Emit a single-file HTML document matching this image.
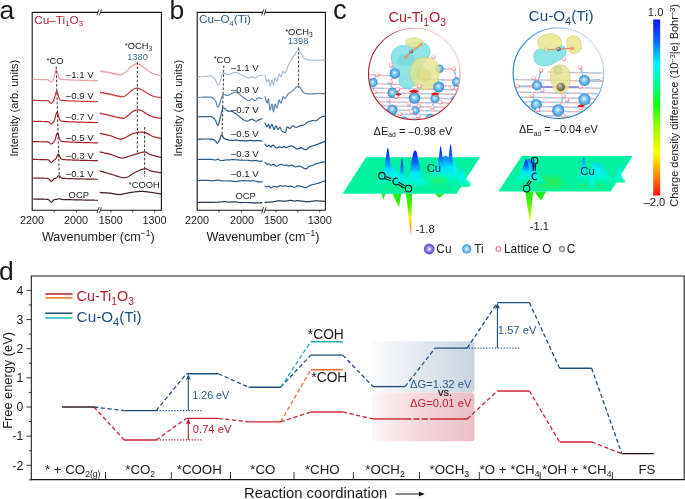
<!DOCTYPE html>
<html><head><meta charset="utf-8"><style>
html,body{margin:0;padding:0;background:#fff;width:685px;height:499px;overflow:hidden;}
svg{display:block;will-change:transform;font-family:"Liberation Sans",sans-serif;}
</style></head><body>
<svg width="685" height="499" viewBox="0 0 685 499" font-family="Liberation Sans, sans-serif">
<rect width="685" height="499" fill="#fff"/>
<path d="M32.2,12.4 H161.4 V210.2 H32.2 Z" fill="none" stroke="#151515" stroke-width="1.1"/>
<rect x="98.0" y="10.4" width="2.6" height="4" fill="#fff"/>
<path d="M97.0,15.4 L99.0,9.4 M99.4,15.4 L101.4,9.4" stroke="#222" stroke-width="0.9"/>
<rect x="98.0" y="208.2" width="2.6" height="4" fill="#fff"/>
<path d="M97.0,213.2 L99.0,207.2 M99.4,213.2 L101.4,207.2" stroke="#222" stroke-width="0.9"/>
<path d="M54,210.2 V212.39999999999998" stroke="#222" stroke-width="0.9"/>
<path d="M76.5,210.2 V212.39999999999998" stroke="#222" stroke-width="0.9"/>
<path d="M110.9,210.2 V212.39999999999998" stroke="#222" stroke-width="0.9"/>
<path d="M132.8,210.2 V212.39999999999998" stroke="#222" stroke-width="0.9"/>
<path d="M154.7,210.2 V212.39999999999998" stroke="#222" stroke-width="0.9"/>
<text x="32" y="223.9" font-size="10.8" fill="#1a1a1a" text-anchor="middle" >2200</text>
<text x="76" y="223.9" font-size="10.8" fill="#1a1a1a" text-anchor="middle" >2000</text>
<text x="110.8" y="223.9" font-size="10.8" fill="#1a1a1a" text-anchor="middle" >1500</text>
<text x="154.6" y="223.9" font-size="10.8" fill="#1a1a1a" text-anchor="middle" >1300</text>
<text x="98.3" y="240.6" font-size="12.6" fill="#1a1a1a" text-anchor="middle">Wavenumber (cm<tspan dy="-4.5" font-size="8.5">−1</tspan><tspan dy="4.5">)</tspan></text>
<text transform="translate(18.0,108.2) rotate(-90)" font-size="11.0" fill="#1a1a1a" text-anchor="middle">Intensity (arb. units)</text>
<path d="M197.2,12.4 H325.4 V210.2 H197.2 Z" fill="none" stroke="#151515" stroke-width="1.1"/>
<rect x="262.6" y="10.4" width="2.6" height="4" fill="#fff"/>
<path d="M261.6,15.4 L263.6,9.4 M264.0,15.4 L266.0,9.4" stroke="#222" stroke-width="0.9"/>
<rect x="262.6" y="208.2" width="2.6" height="4" fill="#fff"/>
<path d="M261.6,213.2 L263.6,207.2 M264.0,213.2 L266.0,207.2" stroke="#222" stroke-width="0.9"/>
<path d="M218.9,210.2 V212.39999999999998" stroke="#222" stroke-width="0.9"/>
<path d="M241.5,210.2 V212.39999999999998" stroke="#222" stroke-width="0.9"/>
<path d="M275.9,210.2 V212.39999999999998" stroke="#222" stroke-width="0.9"/>
<path d="M297.8,210.2 V212.39999999999998" stroke="#222" stroke-width="0.9"/>
<path d="M319.7,210.2 V212.39999999999998" stroke="#222" stroke-width="0.9"/>
<text x="197" y="223.9" font-size="10.8" fill="#1a1a1a" text-anchor="middle" >2200</text>
<text x="242" y="223.9" font-size="10.8" fill="#1a1a1a" text-anchor="middle" >2000</text>
<text x="275.9" y="223.9" font-size="10.8" fill="#1a1a1a" text-anchor="middle" >1500</text>
<text x="319.7" y="223.9" font-size="10.8" fill="#1a1a1a" text-anchor="middle" >1300</text>
<text x="263.0" y="240.6" font-size="12.6" fill="#1a1a1a" text-anchor="middle">Wavenumber (cm<tspan dy="-4.5" font-size="8.5">−1</tspan><tspan dy="4.5">)</tspan></text>
<text transform="translate(182.0,108.2) rotate(-90)" font-size="11.0" fill="#1a1a1a" text-anchor="middle">Intensity (arb. units)</text>
<text x="-0.6" y="18.6" font-size="26.5" fill="#1a1a1a" text-anchor="start" >a</text>
<text x="169.4" y="19.0" font-size="26.5" fill="#1a1a1a" text-anchor="start" >b</text>
<text x="333.0" y="18.8" font-size="27.5" fill="#1a1a1a" text-anchor="start" >c</text>
<text x="-1.0" y="280.4" font-size="26.5" fill="#1a1a1a" text-anchor="start" >d</text>
<path d="M33.00,79.40 L33.40,79.41 L33.80,79.42 L34.20,79.42 L34.60,79.43 L35.00,79.44 L35.40,79.45 L35.80,79.46 L36.20,79.46 L36.60,79.47 L37.00,79.48 L37.40,79.49 L37.80,79.50 L38.20,79.50 L38.60,79.51 L39.00,79.52 L39.40,79.53 L39.80,79.54 L40.20,79.54 L40.60,79.55 L41.00,79.56 L41.40,79.57 L41.80,79.58 L42.20,79.58 L42.60,79.59 L43.00,79.60 L43.40,79.61 L43.80,79.62 L44.20,79.62 L44.60,79.63 L45.00,79.64 L45.40,79.65 L45.80,79.66 L46.20,79.67 L46.60,79.68 L47.00,79.69 L47.40,79.72 L47.80,79.77 L48.20,79.86 L48.60,80.00 L49.00,80.23 L49.40,80.54 L49.80,80.92 L50.20,81.32 L50.60,81.67 L51.00,81.89 L51.40,81.93 L51.80,81.75 L52.20,81.36 L52.60,80.78 L53.00,80.01 L53.40,79.05 L53.80,77.84 L54.20,76.36 L54.60,74.67 L55.00,72.91 L55.40,71.35 L55.80,70.26 L56.20,69.87 L56.60,70.22 L57.00,71.21 L57.40,72.64 L57.80,74.24 L58.20,75.74 L58.60,76.97 L59.00,77.86 L59.40,78.44 L59.80,78.79 L60.20,78.99 L60.60,79.11 L61.00,79.18 L61.40,79.23 L61.80,79.28 L62.20,79.32 L62.60,79.35 L63.00,79.39 L63.40,79.42 L63.80,79.46 L64.20,79.49 L64.60,79.52 L65.00,79.55 L65.40,79.58 L65.80,79.61 L66.20,79.64 L66.60,79.66 L67.00,79.69 L67.40,79.71 L67.80,79.74 L68.20,79.76 L68.60,79.78 L69.00,79.81 L69.40,79.83 L69.80,79.85 L70.20,79.87 L70.60,79.89 L71.00,79.91 L71.40,79.93 L71.80,79.95 L72.20,79.96 L72.60,79.98 L73.00,80.00 L73.40,80.02 L73.80,80.03 L74.20,80.05 L74.60,80.06 L75.00,80.08 L75.40,80.09 L75.80,80.11 L76.20,80.12 L76.60,80.14 L77.00,80.15 L77.40,80.16 L77.80,80.18 L78.20,80.19 L78.60,80.20 L79.00,80.22 L79.40,80.23 L79.80,80.24 L80.20,80.25 L80.60,80.27 L81.00,80.28 L81.40,80.29 L81.80,80.30 L82.20,80.31 L82.60,80.32 L83.00,80.33 L83.40,80.34 L83.80,80.36 L84.20,80.37 L84.60,80.38 L85.00,80.39 L85.40,80.40 L85.80,80.41 L86.20,80.42 L86.60,80.43 L87.00,80.44 L87.40,80.45 L87.80,80.46 L88.20,80.47 L88.60,80.48 L89.00,80.49 L89.40,80.50 L89.80,80.50 L90.20,80.51 L90.60,80.52 L91.00,80.53 L91.40,80.54 L91.80,80.55 L92.20,80.56 L92.60,80.57 L93.00,80.58 L93.40,80.59 L93.80,80.60 L94.20,80.60 L94.60,80.61 L95.00,80.62 L95.40,80.63 L95.80,80.64 L96.20,80.65 L96.60,80.66 L97.00,80.67 L97.40,80.67" fill="none" stroke="#e8a0a4" stroke-width="1.2" stroke-linejoin="round" stroke-linecap="round" />
<path d="M100.20,70.38 L100.48,70.63 L100.82,71.01 L101.19,71.58 L101.61,71.84 L102.07,71.42 L102.56,71.14 L103.07,71.07 L103.61,71.82 L104.18,72.40 L104.75,72.25 L105.34,71.40 L105.94,71.67 L106.54,72.36 L107.14,72.86 L107.74,72.39 L108.33,71.90 L108.90,72.43 L109.46,73.15 L110.00,73.24 L110.51,73.07 L111.02,72.52 L111.55,72.66 L112.08,73.44 L112.62,74.07 L113.17,73.42 L113.72,73.26 L114.26,73.35 L114.81,74.06 L115.35,74.57 L115.89,74.08 L116.42,73.69 L116.94,74.02 L117.45,74.70 L117.95,75.06 L118.44,74.95 L118.90,74.31 L119.36,74.26 L119.79,74.49 L120.20,75.14 L120.90,75.12 L121.53,74.31 L122.12,74.31 L122.67,74.09 L123.18,73.82 L123.67,73.53 L124.13,73.21 L124.59,72.87 L125.05,72.52 L125.52,72.16 L126.00,71.80 L126.53,71.38 L127.04,70.90 L127.53,70.39 L128.01,69.85 L128.49,69.30 L128.97,68.75 L129.45,68.21 L129.95,67.70 L130.46,67.22 L131.00,66.80 L131.46,66.47 L131.94,66.13 L132.43,65.79 L132.93,65.46 L133.43,65.15 L133.94,64.86 L134.45,64.59 L134.96,64.36 L135.48,64.17 L135.99,64.02 L136.50,63.93 L137.00,63.90 L137.50,63.93 L138.00,64.03 L138.50,64.17 L139.00,64.37 L139.50,64.61 L140.00,64.88 L140.50,65.17 L141.00,65.49 L141.50,65.81 L142.00,66.15 L142.50,66.48 L143.00,66.80 L143.50,67.14 L144.00,67.50 L144.50,67.90 L145.00,68.31 L145.50,68.73 L146.00,69.16 L146.50,69.59 L147.00,70.01 L147.50,70.42 L148.00,70.81 L148.50,71.17 L149.00,71.50 L149.50,71.80 L150.00,72.08 L150.50,72.35 L151.00,72.60 L151.50,72.84 L152.00,73.07 L152.50,73.28 L153.00,73.49 L153.50,73.68 L154.00,73.86 L154.50,74.03 L155.00,74.20 L155.52,74.36 L156.07,74.50 L156.64,74.63 L157.22,74.76 L157.80,74.87 L158.38,74.97 L158.93,75.06 L159.44,75.14 L159.92,75.22 L160.35,75.29 L160.71,75.35 L161.00,75.40" fill="none" stroke="#e8a0a4" stroke-width="1.2" stroke-linejoin="round" stroke-linecap="round" />
<path d="M33.00,100.40 L33.40,100.41 L33.80,100.42 L34.20,100.42 L34.60,100.43 L35.00,100.44 L35.40,100.45 L35.80,100.46 L36.20,100.46 L36.60,100.47 L37.00,100.48 L37.40,100.49 L37.80,100.50 L38.20,100.50 L38.60,100.51 L39.00,100.52 L39.40,100.53 L39.80,100.54 L40.20,100.54 L40.60,100.55 L41.00,100.56 L41.40,100.57 L41.80,100.58 L42.20,100.58 L42.60,100.59 L43.00,100.60 L43.40,100.61 L43.80,100.62 L44.20,100.62 L44.60,100.63 L45.00,100.64 L45.40,100.65 L45.80,100.66 L46.20,100.67 L46.60,100.68 L47.00,100.70 L47.40,100.73 L47.80,100.78 L48.20,100.89 L48.60,101.06 L49.00,101.32 L49.40,101.68 L49.80,102.13 L50.20,102.60 L50.60,103.02 L51.00,103.29 L51.40,103.35 L51.80,103.18 L52.20,102.80 L52.60,102.28 L53.00,101.65 L53.40,100.94 L53.80,100.10 L54.20,99.06 L54.60,97.77 L55.00,96.24 L55.40,94.58 L55.80,93.03 L56.20,91.85 L56.60,91.30 L57.00,91.47 L57.40,92.28 L57.80,93.57 L58.20,95.09 L58.60,96.57 L59.00,97.83 L59.40,98.77 L59.80,99.39 L60.20,99.78 L60.60,100.00 L61.00,100.13 L61.40,100.21 L61.80,100.26 L62.20,100.30 L62.60,100.34 L63.00,100.38 L63.40,100.42 L63.80,100.45 L64.20,100.48 L64.60,100.51 L65.00,100.54 L65.40,100.57 L65.80,100.60 L66.20,100.63 L66.60,100.66 L67.00,100.68 L67.40,100.71 L67.80,100.73 L68.20,100.76 L68.60,100.78 L69.00,100.80 L69.40,100.82 L69.80,100.84 L70.20,100.87 L70.60,100.89 L71.00,100.91 L71.40,100.92 L71.80,100.94 L72.20,100.96 L72.60,100.98 L73.00,101.00 L73.40,101.01 L73.80,101.03 L74.20,101.05 L74.60,101.06 L75.00,101.08 L75.40,101.09 L75.80,101.11 L76.20,101.12 L76.60,101.14 L77.00,101.15 L77.40,101.16 L77.80,101.18 L78.20,101.19 L78.60,101.20 L79.00,101.22 L79.40,101.23 L79.80,101.24 L80.20,101.25 L80.60,101.26 L81.00,101.28 L81.40,101.29 L81.80,101.30 L82.20,101.31 L82.60,101.32 L83.00,101.33 L83.40,101.34 L83.80,101.35 L84.20,101.37 L84.60,101.38 L85.00,101.39 L85.40,101.40 L85.80,101.41 L86.20,101.42 L86.60,101.43 L87.00,101.44 L87.40,101.45 L87.80,101.46 L88.20,101.47 L88.60,101.48 L89.00,101.49 L89.40,101.50 L89.80,101.50 L90.20,101.51 L90.60,101.52 L91.00,101.53 L91.40,101.54 L91.80,101.55 L92.20,101.56 L92.60,101.57 L93.00,101.58 L93.40,101.59 L93.80,101.60 L94.20,101.60 L94.60,101.61 L95.00,101.62 L95.40,101.63 L95.80,101.64 L96.20,101.65 L96.60,101.66 L97.00,101.67 L97.40,101.67" fill="none" stroke="#c8383e" stroke-width="1.2" stroke-linejoin="round" stroke-linecap="round" />
<path d="M100.20,92.07 L100.48,92.31 L100.81,92.52 L101.18,92.97 L101.58,93.02 L102.02,92.92 L102.50,92.69 L103.00,92.53 L103.52,92.83 L104.07,93.44 L104.63,93.62 L105.22,93.06 L105.81,93.07 L106.41,93.45 L107.01,94.04 L107.62,93.91 L108.23,93.57 L108.83,93.77 L109.42,94.43 L110.00,94.47 L110.46,94.12 L110.95,94.14 L111.44,94.22 L111.95,94.85 L112.48,95.17 L113.01,95.11 L113.55,94.60 L114.10,94.79 L114.65,95.22 L115.20,95.79 L115.75,95.81 L116.30,95.33 L116.85,95.48 L117.38,96.05 L117.92,96.44 L118.44,96.33 L118.95,96.17 L119.44,96.05 L119.92,96.37 L120.38,96.90 L120.82,96.96 L121.24,96.68 L121.63,96.43 L122.00,96.32 L122.78,96.68 L123.45,96.59 L124.01,96.45 L124.50,96.26 L124.94,96.03 L125.34,95.76 L125.72,95.46 L126.11,95.15 L126.53,94.83 L127.00,94.50 L127.50,94.15 L128.00,93.74 L128.50,93.30 L129.00,92.83 L129.50,92.34 L130.00,91.86 L130.50,91.39 L131.00,90.95 L131.50,90.55 L132.00,90.20 L132.50,89.88 L133.00,89.58 L133.50,89.29 L134.00,89.02 L134.50,88.78 L135.00,88.56 L135.50,88.38 L136.00,88.24 L136.50,88.15 L137.00,88.10 L137.50,88.11 L137.98,88.16 L138.47,88.26 L138.95,88.41 L139.44,88.58 L139.93,88.79 L140.43,89.02 L140.94,89.26 L141.46,89.53 L142.00,89.80 L142.46,90.05 L142.94,90.32 L143.43,90.63 L143.93,90.95 L144.43,91.29 L144.94,91.63 L145.45,91.98 L145.96,92.33 L146.48,92.67 L146.99,93.00 L147.50,93.31 L148.00,93.60 L148.50,93.87 L148.99,94.14 L149.48,94.41 L149.96,94.67 L150.45,94.92 L150.94,95.16 L151.43,95.40 L151.93,95.62 L152.43,95.84 L152.94,96.04 L153.46,96.23 L154.00,96.40 L154.49,96.54 L155.01,96.67 L155.56,96.78 L156.13,96.89 L156.71,97.00 L157.30,97.09 L157.88,97.18 L158.44,97.25 L158.98,97.33 L159.48,97.39 L159.94,97.45 L160.36,97.51 L160.71,97.56 L161.00,97.60" fill="none" stroke="#c8383e" stroke-width="1.2" stroke-linejoin="round" stroke-linecap="round" />
<path d="M33.00,121.30 L33.40,121.31 L33.80,121.32 L34.20,121.32 L34.60,121.33 L35.00,121.34 L35.40,121.35 L35.80,121.36 L36.20,121.36 L36.60,121.37 L37.00,121.38 L37.40,121.39 L37.80,121.40 L38.20,121.40 L38.60,121.41 L39.00,121.42 L39.40,121.43 L39.80,121.44 L40.20,121.44 L40.60,121.45 L41.00,121.46 L41.40,121.47 L41.80,121.48 L42.20,121.48 L42.60,121.49 L43.00,121.50 L43.40,121.51 L43.80,121.52 L44.20,121.52 L44.60,121.53 L45.00,121.54 L45.40,121.55 L45.80,121.56 L46.20,121.57 L46.60,121.58 L47.00,121.59 L47.40,121.62 L47.80,121.68 L48.20,121.77 L48.60,121.93 L49.00,122.17 L49.40,122.51 L49.80,122.92 L50.20,123.36 L50.60,123.75 L51.00,124.00 L51.40,124.06 L51.80,123.90 L52.20,123.57 L52.60,123.12 L53.00,122.61 L53.40,122.05 L53.80,121.41 L54.20,120.63 L54.60,119.62 L55.00,118.34 L55.40,116.81 L55.80,115.21 L56.20,113.76 L56.60,112.74 L57.00,112.38 L57.40,112.72 L57.80,113.65 L58.20,114.99 L58.60,116.49 L59.00,117.90 L59.40,119.06 L59.80,119.90 L60.20,120.45 L60.60,120.78 L61.00,120.97 L61.40,121.07 L61.80,121.14 L62.20,121.19 L62.60,121.23 L63.00,121.27 L63.40,121.31 L63.80,121.34 L64.20,121.37 L64.60,121.41 L65.00,121.44 L65.40,121.47 L65.80,121.50 L66.20,121.52 L66.60,121.55 L67.00,121.58 L67.40,121.60 L67.80,121.63 L68.20,121.65 L68.60,121.68 L69.00,121.70 L69.40,121.72 L69.80,121.74 L70.20,121.76 L70.60,121.78 L71.00,121.80 L71.40,121.82 L71.80,121.84 L72.20,121.86 L72.60,121.88 L73.00,121.89 L73.40,121.91 L73.80,121.93 L74.20,121.94 L74.60,121.96 L75.00,121.97 L75.40,121.99 L75.80,122.00 L76.20,122.02 L76.60,122.03 L77.00,122.05 L77.40,122.06 L77.80,122.07 L78.20,122.09 L78.60,122.10 L79.00,122.11 L79.40,122.13 L79.80,122.14 L80.20,122.15 L80.60,122.16 L81.00,122.18 L81.40,122.19 L81.80,122.20 L82.20,122.21 L82.60,122.22 L83.00,122.23 L83.40,122.24 L83.80,122.25 L84.20,122.26 L84.60,122.28 L85.00,122.29 L85.40,122.30 L85.80,122.31 L86.20,122.32 L86.60,122.33 L87.00,122.34 L87.40,122.35 L87.80,122.36 L88.20,122.37 L88.60,122.38 L89.00,122.39 L89.40,122.39 L89.80,122.40 L90.20,122.41 L90.60,122.42 L91.00,122.43 L91.40,122.44 L91.80,122.45 L92.20,122.46 L92.60,122.47 L93.00,122.48 L93.40,122.49 L93.80,122.50 L94.20,122.50 L94.60,122.51 L95.00,122.52 L95.40,122.53 L95.80,122.54 L96.20,122.55 L96.60,122.56 L97.00,122.57 L97.40,122.57" fill="none" stroke="#bf242c" stroke-width="1.2" stroke-linejoin="round" stroke-linecap="round" />
<path d="M100.20,113.04 L100.48,113.19 L100.80,113.45 L101.17,113.66 L101.56,113.85 L102.00,113.81 L102.46,113.74 L102.95,113.65 L103.47,114.04 L104.01,114.31 L104.57,114.46 L105.14,114.36 L105.73,114.29 L106.33,114.68 L106.94,114.98 L107.56,115.06 L108.17,114.86 L108.79,115.13 L109.40,115.59 L110.00,115.71 L110.45,115.55 L110.92,115.48 L111.40,115.71 L111.90,116.03 L112.42,116.29 L112.95,116.35 L113.48,116.17 L114.03,116.21 L114.58,116.68 L115.13,117.01 L115.69,116.97 L116.24,116.92 L116.80,117.00 L117.35,117.37 L117.90,117.61 L118.44,117.57 L118.97,117.50 L119.49,117.54 L119.99,117.80 L120.48,118.17 L120.95,118.15 L121.41,118.00 L121.84,117.94 L122.25,118.17 L122.64,118.19 L123.00,118.20 L123.82,118.16 L124.51,118.03 L125.09,117.83 L125.58,117.58 L126.00,117.28 L126.38,116.94 L126.75,116.58 L127.13,116.22 L127.54,115.85 L128.00,115.50 L128.50,115.13 L129.01,114.73 L129.52,114.29 L130.02,113.84 L130.53,113.38 L131.04,112.92 L131.54,112.48 L132.03,112.08 L132.52,111.71 L133.00,111.40 L133.52,111.10 L134.03,110.84 L134.54,110.61 L135.03,110.41 L135.53,110.25 L136.02,110.11 L136.51,110.01 L137.00,109.94 L137.50,109.90 L137.99,109.89 L138.47,109.92 L138.94,109.98 L139.42,110.07 L139.90,110.20 L140.39,110.35 L140.90,110.54 L141.43,110.75 L142.00,111.00 L142.45,111.22 L142.91,111.47 L143.39,111.75 L143.89,112.05 L144.39,112.37 L144.91,112.71 L145.42,113.04 L145.94,113.38 L146.46,113.71 L146.98,114.03 L147.50,114.33 L148.00,114.60 L148.50,114.86 L148.99,115.11 L149.48,115.36 L149.96,115.60 L150.45,115.84 L150.94,116.06 L151.43,116.28 L151.93,116.49 L152.43,116.69 L152.94,116.87 L153.46,117.04 L154.00,117.20 L154.49,117.32 L155.01,117.44 L155.56,117.54 L156.13,117.63 L156.71,117.72 L157.30,117.79 L157.88,117.86 L158.44,117.93 L158.98,117.98 L159.48,118.03 L159.94,118.08 L160.36,118.12 L160.71,118.16 L161.00,118.20" fill="none" stroke="#bf242c" stroke-width="1.2" stroke-linejoin="round" stroke-linecap="round" />
<path d="M33.00,141.60 L33.40,141.61 L33.80,141.62 L34.20,141.62 L34.60,141.63 L35.00,141.64 L35.40,141.65 L35.80,141.66 L36.20,141.66 L36.60,141.67 L37.00,141.68 L37.40,141.69 L37.80,141.70 L38.20,141.70 L38.60,141.71 L39.00,141.72 L39.40,141.73 L39.80,141.74 L40.20,141.74 L40.60,141.75 L41.00,141.76 L41.40,141.77 L41.80,141.78 L42.20,141.78 L42.60,141.79 L43.00,141.80 L43.40,141.81 L43.80,141.82 L44.20,141.82 L44.60,141.83 L45.00,141.84 L45.40,141.85 L45.80,141.86 L46.20,141.87 L46.60,141.88 L47.00,141.89 L47.40,141.92 L47.80,141.96 L48.20,142.04 L48.60,142.18 L49.00,142.38 L49.40,142.66 L49.80,143.01 L50.20,143.37 L50.60,143.70 L51.00,143.91 L51.40,143.96 L51.80,143.84 L52.20,143.57 L52.60,143.22 L53.00,142.83 L53.40,142.43 L53.80,142.02 L54.20,141.52 L54.60,140.86 L55.00,139.95 L55.40,138.76 L55.80,137.32 L56.20,135.79 L56.60,134.40 L57.00,133.43 L57.40,133.09 L57.80,133.41 L58.20,134.30 L58.60,135.59 L59.00,137.03 L59.40,138.38 L59.80,139.48 L60.20,140.29 L60.60,140.81 L61.00,141.13 L61.40,141.31 L61.80,141.42 L62.20,141.48 L62.60,141.53 L63.00,141.57 L63.40,141.61 L63.80,141.64 L64.20,141.67 L64.60,141.71 L65.00,141.74 L65.40,141.77 L65.80,141.80 L66.20,141.82 L66.60,141.85 L67.00,141.88 L67.40,141.90 L67.80,141.93 L68.20,141.95 L68.60,141.97 L69.00,142.00 L69.40,142.02 L69.80,142.04 L70.20,142.06 L70.60,142.08 L71.00,142.10 L71.40,142.12 L71.80,142.14 L72.20,142.16 L72.60,142.18 L73.00,142.19 L73.40,142.21 L73.80,142.23 L74.20,142.24 L74.60,142.26 L75.00,142.27 L75.40,142.29 L75.80,142.30 L76.20,142.32 L76.60,142.33 L77.00,142.35 L77.40,142.36 L77.80,142.37 L78.20,142.39 L78.60,142.40 L79.00,142.41 L79.40,142.43 L79.80,142.44 L80.20,142.45 L80.60,142.46 L81.00,142.48 L81.40,142.49 L81.80,142.50 L82.20,142.51 L82.60,142.52 L83.00,142.53 L83.40,142.54 L83.80,142.55 L84.20,142.56 L84.60,142.58 L85.00,142.59 L85.40,142.60 L85.80,142.61 L86.20,142.62 L86.60,142.63 L87.00,142.64 L87.40,142.65 L87.80,142.66 L88.20,142.67 L88.60,142.68 L89.00,142.69 L89.40,142.69 L89.80,142.70 L90.20,142.71 L90.60,142.72 L91.00,142.73 L91.40,142.74 L91.80,142.75 L92.20,142.76 L92.60,142.77 L93.00,142.78 L93.40,142.79 L93.80,142.80 L94.20,142.80 L94.60,142.81 L95.00,142.82 L95.40,142.83 L95.80,142.84 L96.20,142.85 L96.60,142.86 L97.00,142.87 L97.40,142.87" fill="none" stroke="#a51e26" stroke-width="1.2" stroke-linejoin="round" stroke-linecap="round" />
<path d="M100.20,133.36 L100.48,133.43 L100.81,133.61 L101.18,133.74 L101.60,133.90 L102.04,133.89 L102.52,133.86 L103.03,133.95 L103.56,134.16 L104.12,134.42 L104.69,134.46 L105.27,134.41 L105.87,134.54 L106.47,134.84 L107.07,135.06 L107.67,135.03 L108.27,135.03 L108.86,135.22 L109.44,135.55 L110.00,135.72 L110.48,135.68 L110.97,135.77 L111.46,135.97 L111.96,136.28 L112.46,136.62 L112.96,136.73 L113.47,136.74 L113.99,136.99 L114.50,137.34 L115.02,137.67 L115.54,137.82 L116.06,137.87 L116.58,138.04 L117.10,138.30 L117.62,138.56 L118.14,138.75 L118.65,138.80 L119.17,138.77 L119.68,138.88 L120.19,139.07 L120.70,139.19 L121.20,139.07 L121.73,138.88 L122.26,138.84 L122.79,138.70 L123.32,138.52 L123.86,138.32 L124.40,138.09 L124.93,137.84 L125.47,137.56 L126.00,137.28 L126.54,136.98 L127.06,136.67 L127.59,136.36 L128.11,136.05 L128.62,135.74 L129.13,135.44 L129.63,135.15 L130.12,134.88 L130.61,134.62 L131.08,134.39 L131.55,134.18 L132.00,134.00 L132.58,133.79 L133.15,133.60 L133.70,133.43 L134.24,133.26 L134.77,133.11 L135.29,132.98 L135.80,132.85 L136.30,132.74 L136.79,132.64 L137.27,132.54 L137.74,132.46 L138.21,132.39 L138.66,132.33 L139.11,132.28 L139.56,132.24 L140.00,132.20 L140.57,132.17 L141.10,132.15 L141.62,132.15 L142.11,132.17 L142.59,132.21 L143.06,132.27 L143.53,132.34 L144.00,132.44 L144.48,132.55 L144.97,132.68 L145.47,132.83 L146.00,133.00 L146.47,133.17 L146.94,133.37 L147.42,133.60 L147.90,133.85 L148.39,134.11 L148.88,134.39 L149.38,134.68 L149.88,134.96 L150.39,135.25 L150.90,135.53 L151.42,135.80 L151.94,136.06 L152.47,136.29 L153.00,136.50 L153.49,136.67 L154.01,136.84 L154.55,137.00 L155.12,137.15 L155.69,137.30 L156.28,137.45 L156.86,137.59 L157.44,137.72 L158.00,137.84 L158.54,137.96 L159.06,138.07 L159.54,138.18 L159.98,138.27 L160.38,138.36 L160.72,138.43 L161.00,138.50" fill="none" stroke="#a51e26" stroke-width="1.2" stroke-linejoin="round" stroke-linecap="round" />
<path d="M33.00,159.40 L33.40,159.41 L33.80,159.42 L34.20,159.42 L34.60,159.43 L35.00,159.44 L35.40,159.45 L35.80,159.46 L36.20,159.46 L36.60,159.47 L37.00,159.48 L37.40,159.49 L37.80,159.50 L38.20,159.50 L38.60,159.51 L39.00,159.52 L39.40,159.53 L39.80,159.54 L40.20,159.54 L40.60,159.55 L41.00,159.56 L41.40,159.57 L41.80,159.58 L42.20,159.58 L42.60,159.59 L43.00,159.60 L43.40,159.61 L43.80,159.62 L44.20,159.62 L44.60,159.63 L45.00,159.64 L45.40,159.65 L45.80,159.66 L46.20,159.67 L46.60,159.68 L47.00,159.70 L47.40,159.73 L47.80,159.78 L48.20,159.89 L48.60,160.06 L49.00,160.32 L49.40,160.68 L49.80,161.13 L50.20,161.60 L50.60,162.02 L51.00,162.30 L51.40,162.36 L51.80,162.20 L52.20,161.86 L52.60,161.42 L53.00,160.96 L53.40,160.56 L53.80,160.24 L54.20,159.99 L54.60,159.78 L55.00,159.53 L55.40,159.19 L55.80,158.69 L56.20,158.01 L56.60,157.15 L57.00,156.21 L57.40,155.31 L57.80,154.64 L58.20,154.32 L58.60,154.42 L59.00,154.90 L59.40,155.65 L59.80,156.54 L60.20,157.41 L60.60,158.15 L61.00,158.70 L61.40,159.07 L61.80,159.30 L62.20,159.43 L62.60,159.51 L63.00,159.56 L63.40,159.59 L63.80,159.62 L64.20,159.65 L64.60,159.67 L65.00,159.69 L65.40,159.72 L65.80,159.74 L66.20,159.76 L66.60,159.78 L67.00,159.80 L67.40,159.82 L67.80,159.84 L68.20,159.86 L68.60,159.88 L69.00,159.90 L69.40,159.92 L69.80,159.93 L70.20,159.95 L70.60,159.97 L71.00,159.98 L71.40,160.00 L71.80,160.01 L72.20,160.03 L72.60,160.04 L73.00,160.06 L73.40,160.07 L73.80,160.09 L74.20,160.10 L74.60,160.11 L75.00,160.13 L75.40,160.14 L75.80,160.15 L76.20,160.16 L76.60,160.18 L77.00,160.19 L77.40,160.20 L77.80,160.21 L78.20,160.22 L78.60,160.24 L79.00,160.25 L79.40,160.26 L79.80,160.27 L80.20,160.28 L80.60,160.29 L81.00,160.30 L81.40,160.31 L81.80,160.32 L82.20,160.33 L82.60,160.34 L83.00,160.35 L83.40,160.36 L83.80,160.37 L84.20,160.38 L84.60,160.39 L85.00,160.40 L85.40,160.41 L85.80,160.42 L86.20,160.43 L86.60,160.44 L87.00,160.45 L87.40,160.46 L87.80,160.47 L88.20,160.48 L88.60,160.49 L89.00,160.50 L89.40,160.51 L89.80,160.51 L90.20,160.52 L90.60,160.53 L91.00,160.54 L91.40,160.55 L91.80,160.56 L92.20,160.57 L92.60,160.58 L93.00,160.58 L93.40,160.59 L93.80,160.60 L94.20,160.61 L94.60,160.62 L95.00,160.63 L95.40,160.64 L95.80,160.64 L96.20,160.65 L96.60,160.66 L97.00,160.67 L97.40,160.68" fill="none" stroke="#8a1e25" stroke-width="1.2" stroke-linejoin="round" stroke-linecap="round" />
<path d="M100.20,151.89 L100.48,151.96 L100.81,152.06 L101.17,152.35 L101.58,152.42 L102.02,152.47 L102.49,152.47 L102.99,152.44 L103.52,152.72 L104.06,152.96 L104.63,153.09 L105.20,153.00 L105.79,153.13 L106.39,153.38 L106.99,153.62 L107.58,153.68 L108.18,153.62 L108.77,153.84 L109.35,154.18 L109.92,154.35 L110.47,154.35 L111.00,154.37 L111.50,154.54 L111.99,154.87 L112.49,155.11 L112.99,155.25 L113.49,155.28 L113.99,155.46 L114.49,155.73 L114.99,156.08 L115.49,156.32 L115.99,156.39 L116.49,156.48 L116.99,156.69 L117.49,157.07 L117.99,157.29 L118.49,157.41 L118.99,157.43 L119.50,157.49 L120.00,157.77 L120.50,157.93 L121.00,158.00 L121.50,157.94 L122.00,157.84 L122.50,158.00 L123.00,157.97 L123.50,157.92 L123.99,157.85 L124.49,157.76 L124.98,157.65 L125.48,157.53 L125.97,157.39 L126.47,157.24 L126.97,157.08 L127.46,156.91 L127.96,156.73 L128.46,156.55 L128.96,156.36 L129.46,156.18 L129.96,155.99 L130.46,155.81 L130.96,155.63 L131.47,155.46 L131.98,155.30 L132.49,155.14 L133.00,155.00 L133.50,154.86 L134.01,154.72 L134.53,154.57 L135.06,154.41 L135.60,154.25 L136.14,154.08 L136.69,153.91 L137.23,153.74 L137.78,153.57 L138.33,153.40 L138.88,153.24 L139.42,153.08 L139.96,152.92 L140.48,152.78 L141.00,152.64 L141.51,152.51 L142.00,152.39 L142.48,152.29 L142.94,152.20 L143.39,152.12 L143.81,152.06 L144.22,152.02 L144.60,152.00 L145.37,152.03 L145.99,152.14 L146.50,152.33 L146.94,152.58 L147.34,152.88 L147.73,153.20 L148.16,153.54 L148.66,153.88 L149.26,154.21 L150.00,154.50 L150.39,154.63 L150.83,154.77 L151.30,154.91 L151.81,155.06 L152.34,155.21 L152.89,155.36 L153.47,155.52 L154.05,155.68 L154.64,155.84 L155.24,156.00 L155.84,156.16 L156.43,156.31 L157.01,156.46 L157.57,156.61 L158.12,156.75 L158.64,156.88 L159.13,157.01 L159.59,157.13 L160.01,157.24 L160.39,157.34 L160.72,157.43 L161.00,157.50" fill="none" stroke="#8a1e25" stroke-width="1.2" stroke-linejoin="round" stroke-linecap="round" />
<path d="M33.00,178.00 L33.40,178.01 L33.80,178.02 L34.20,178.02 L34.60,178.03 L35.00,178.04 L35.40,178.05 L35.80,178.06 L36.20,178.06 L36.60,178.07 L37.00,178.08 L37.40,178.09 L37.80,178.10 L38.20,178.10 L38.60,178.11 L39.00,178.12 L39.40,178.13 L39.80,178.14 L40.20,178.14 L40.60,178.15 L41.00,178.16 L41.40,178.17 L41.80,178.18 L42.20,178.18 L42.60,178.19 L43.00,178.20 L43.40,178.21 L43.80,178.22 L44.20,178.22 L44.60,178.23 L45.00,178.24 L45.40,178.25 L45.80,178.26 L46.20,178.27 L46.60,178.28 L47.00,178.30 L47.40,178.33 L47.80,178.40 L48.20,178.51 L48.60,178.71 L49.00,179.01 L49.40,179.43 L49.80,179.94 L50.20,180.49 L50.60,180.97 L51.00,181.29 L51.40,181.36 L51.80,181.18 L52.20,180.78 L52.60,180.27 L53.00,179.75 L53.40,179.29 L53.80,178.94 L54.20,178.70 L54.60,178.55 L55.00,178.45 L55.40,178.35 L55.80,178.21 L56.20,178.02 L56.60,177.73 L57.00,177.34 L57.40,176.89 L57.80,176.43 L58.20,176.03 L58.60,175.77 L59.00,175.73 L59.40,175.88 L59.80,176.20 L60.20,176.62 L60.60,177.08 L61.00,177.49 L61.40,177.81 L61.80,178.05 L62.20,178.20 L62.60,178.29 L63.00,178.34 L63.40,178.38 L63.80,178.40 L64.20,178.42 L64.60,178.44 L65.00,178.46 L65.40,178.47 L65.80,178.49 L66.20,178.50 L66.60,178.52 L67.00,178.53 L67.40,178.55 L67.80,178.56 L68.20,178.57 L68.60,178.59 L69.00,178.60 L69.40,178.61 L69.80,178.63 L70.20,178.64 L70.60,178.65 L71.00,178.67 L71.40,178.68 L71.80,178.69 L72.20,178.70 L72.60,178.71 L73.00,178.72 L73.40,178.74 L73.80,178.75 L74.20,178.76 L74.60,178.77 L75.00,178.78 L75.40,178.79 L75.80,178.80 L76.20,178.81 L76.60,178.82 L77.00,178.83 L77.40,178.84 L77.80,178.85 L78.20,178.86 L78.60,178.87 L79.00,178.88 L79.40,178.89 L79.80,178.90 L80.20,178.91 L80.60,178.92 L81.00,178.93 L81.40,178.94 L81.80,178.95 L82.20,178.96 L82.60,178.97 L83.00,178.97 L83.40,178.98 L83.80,178.99 L84.20,179.00 L84.60,179.01 L85.00,179.02 L85.40,179.03 L85.80,179.04 L86.20,179.05 L86.60,179.06 L87.00,179.06 L87.40,179.07 L87.80,179.08 L88.20,179.09 L88.60,179.10 L89.00,179.11 L89.40,179.12 L89.80,179.12 L90.20,179.13 L90.60,179.14 L91.00,179.15 L91.40,179.16 L91.80,179.17 L92.20,179.18 L92.60,179.18 L93.00,179.19 L93.40,179.20 L93.80,179.21 L94.20,179.22 L94.60,179.23 L95.00,179.23 L95.40,179.24 L95.80,179.25 L96.20,179.26 L96.60,179.27 L97.00,179.27 L97.40,179.28" fill="none" stroke="#6a2326" stroke-width="1.2" stroke-linejoin="round" stroke-linecap="round" />
<path d="M100.20,170.84 L100.48,170.97 L100.79,171.17 L101.15,171.31 L101.54,171.55 L101.96,171.58 L102.41,171.63 L102.89,171.67 L103.39,171.87 L103.92,172.21 L104.46,172.39 L105.02,172.43 L105.59,172.52 L106.17,172.69 L106.76,173.06 L107.36,173.24 L107.95,173.29 L108.55,173.38 L109.15,173.67 L109.74,174.04 L110.32,174.03 L110.90,174.10 L111.46,174.25 L112.00,174.53 L112.50,174.78 L113.00,174.86 L113.51,174.84 L114.02,174.98 L114.54,175.31 L115.06,175.58 L115.58,175.75 L116.11,175.83 L116.64,175.88 L117.17,176.14 L117.70,176.49 L118.23,176.71 L118.76,176.63 L119.29,176.76 L119.82,176.97 L120.34,177.24 L120.86,177.45 L121.38,177.49 L121.89,177.43 L122.39,177.60 L122.89,177.67 L123.38,177.71 L123.86,177.73 L124.34,177.73 L124.80,177.70 L125.37,177.63 L125.93,177.51 L126.48,177.36 L127.02,177.17 L127.55,176.96 L128.07,176.71 L128.59,176.44 L129.10,176.15 L129.60,175.85 L130.10,175.53 L130.60,175.21 L131.09,174.88 L131.58,174.54 L132.07,174.21 L132.55,173.89 L133.04,173.58 L133.53,173.28 L134.02,173.00 L134.51,172.74 L135.00,172.50 L135.52,172.26 L136.05,172.02 L136.58,171.77 L137.12,171.52 L137.65,171.27 L138.19,171.02 L138.72,170.77 L139.25,170.53 L139.78,170.30 L140.30,170.08 L140.81,169.86 L141.32,169.67 L141.83,169.48 L142.32,169.31 L142.80,169.17 L143.27,169.04 L143.73,168.93 L144.17,168.85 L144.60,168.80 L145.23,168.78 L145.81,168.83 L146.34,168.94 L146.84,169.11 L147.31,169.32 L147.77,169.56 L148.24,169.81 L148.72,170.08 L149.22,170.34 L149.76,170.59 L150.35,170.81 L151.00,171.00 L151.43,171.10 L151.90,171.20 L152.40,171.31 L152.93,171.41 L153.48,171.52 L154.05,171.63 L154.63,171.73 L155.22,171.84 L155.81,171.94 L156.40,172.04 L156.98,172.13 L157.55,172.23 L158.10,172.32 L158.62,172.40 L159.12,172.49 L159.58,172.56 L160.01,172.63 L160.39,172.69 L160.72,172.75 L161.00,172.80" fill="none" stroke="#6a2326" stroke-width="1.2" stroke-linejoin="round" stroke-linecap="round" />
<path d="M33.00,199.00 L33.40,199.01 L33.80,199.02 L34.20,199.02 L34.60,199.03 L35.00,199.04 L35.40,199.05 L35.80,199.06 L36.20,199.06 L36.60,199.07 L37.00,199.08 L37.40,199.09 L37.80,199.10 L38.20,199.10 L38.60,199.11 L39.00,199.12 L39.40,199.13 L39.80,199.14 L40.20,199.14 L40.60,199.15 L41.00,199.16 L41.40,199.17 L41.80,199.18 L42.20,199.18 L42.60,199.19 L43.00,199.20 L43.40,199.21 L43.80,199.22 L44.20,199.22 L44.60,199.23 L45.00,199.24 L45.40,199.25 L45.80,199.26 L46.20,199.27 L46.60,199.28 L47.00,199.30 L47.40,199.33 L47.80,199.39 L48.20,199.50 L48.60,199.68 L49.00,199.97 L49.40,200.36 L49.80,200.84 L50.20,201.35 L50.60,201.80 L51.00,202.09 L51.40,202.16 L51.80,201.99 L52.20,201.62 L52.60,201.15 L53.00,200.66 L53.40,200.23 L53.80,199.91 L54.20,199.70 L54.60,199.57 L55.00,199.50 L55.40,199.46 L55.80,199.44 L56.20,199.42 L56.60,199.38 L57.00,199.31 L57.40,199.22 L57.80,199.11 L58.20,198.98 L58.60,198.86 L59.00,198.77 L59.40,198.73 L59.80,198.75 L60.20,198.83 L60.60,198.94 L61.00,199.08 L61.40,199.21 L61.80,199.32 L62.20,199.40 L62.60,199.46 L63.00,199.50 L63.40,199.53 L63.80,199.55 L64.20,199.56 L64.60,199.57 L65.00,199.58 L65.40,199.59 L65.80,199.60 L66.20,199.61 L66.60,199.62 L67.00,199.63 L67.40,199.64 L67.80,199.65 L68.20,199.66 L68.60,199.67 L69.00,199.68 L69.40,199.69 L69.80,199.70 L70.20,199.71 L70.60,199.72 L71.00,199.73 L71.40,199.74 L71.80,199.75 L72.20,199.76 L72.60,199.77 L73.00,199.78 L73.40,199.79 L73.80,199.79 L74.20,199.80 L74.60,199.81 L75.00,199.82 L75.40,199.83 L75.80,199.84 L76.20,199.85 L76.60,199.86 L77.00,199.87 L77.40,199.87 L77.80,199.88 L78.20,199.89 L78.60,199.90 L79.00,199.91 L79.40,199.92 L79.80,199.93 L80.20,199.93 L80.60,199.94 L81.00,199.95 L81.40,199.96 L81.80,199.97 L82.20,199.98 L82.60,199.98 L83.00,199.99 L83.40,200.00 L83.80,200.01 L84.20,200.02 L84.60,200.03 L85.00,200.03 L85.40,200.04 L85.80,200.05 L86.20,200.06 L86.60,200.07 L87.00,200.08 L87.40,200.08 L87.80,200.09 L88.20,200.10 L88.60,200.11 L89.00,200.12 L89.40,200.12 L89.80,200.13 L90.20,200.14 L90.60,200.15 L91.00,200.16 L91.40,200.16 L91.80,200.17 L92.20,200.18 L92.60,200.19 L93.00,200.20 L93.40,200.21 L93.80,200.21 L94.20,200.22 L94.60,200.23 L95.00,200.24 L95.40,200.25 L95.80,200.25 L96.20,200.26 L96.60,200.27 L97.00,200.28 L97.40,200.29" fill="none" stroke="#3b1f20" stroke-width="1.2" stroke-linejoin="round" stroke-linecap="round" />
<path d="M100.20,192.31 L100.48,192.43 L100.82,192.48 L101.20,192.83 L101.63,192.96 L102.09,192.86 L102.58,192.53 L103.11,192.49 L103.66,192.72 L104.22,193.03 L104.81,192.89 L105.40,192.65 L106.00,192.63 L106.60,193.11 L107.20,193.19 L107.79,192.96 L108.37,192.81 L108.94,192.95 L109.48,193.36 L110.00,193.37 L110.53,193.19 L111.06,193.02 L111.58,193.22 L112.09,193.65 L112.61,193.79 L113.12,193.67 L113.63,193.63 L114.14,193.71 L114.65,194.04 L115.16,194.37 L115.68,194.27 L116.19,194.14 L116.71,194.05 L117.24,194.41 L117.77,194.66 L118.31,194.78 L118.85,194.49 L119.40,194.27 L119.88,194.49 L120.36,194.72 L120.85,194.66 L121.34,194.38 L121.83,194.01 L122.33,194.17 L122.83,194.08 L123.33,193.98 L123.84,193.87 L124.35,193.76 L124.85,193.65 L125.37,193.53 L125.88,193.42 L126.39,193.30 L126.91,193.19 L127.42,193.07 L127.94,192.97 L128.45,192.86 L128.97,192.77 L129.49,192.68 L130.00,192.60 L130.49,192.53 L130.98,192.46 L131.48,192.38 L131.98,192.31 L132.47,192.23 L132.97,192.16 L133.47,192.09 L133.97,192.02 L134.47,191.95 L134.97,191.88 L135.47,191.81 L135.98,191.75 L136.48,191.69 L136.98,191.64 L137.49,191.59 L137.99,191.54 L138.49,191.50 L138.99,191.47 L139.50,191.44 L140.00,191.42 L140.50,191.41 L141.00,191.40 L141.50,191.40 L142.01,191.41 L142.52,191.43 L143.03,191.45 L143.54,191.49 L144.05,191.52 L144.57,191.57 L145.08,191.61 L145.60,191.67 L146.11,191.72 L146.62,191.78 L147.14,191.84 L147.64,191.91 L148.15,191.97 L148.65,192.04 L149.14,192.11 L149.64,192.18 L150.12,192.24 L150.60,192.31 L151.08,192.38 L151.54,192.44 L152.00,192.50 L152.56,192.58 L153.14,192.66 L153.72,192.74 L154.31,192.84 L154.90,192.93 L155.48,193.03 L156.06,193.12 L156.63,193.22 L157.19,193.32 L157.73,193.41 L158.25,193.51 L158.74,193.60 L159.21,193.68 L159.64,193.76 L160.04,193.83 L160.41,193.90 L160.73,193.95 L161.00,194.00" fill="none" stroke="#3b1f20" stroke-width="1.2" stroke-linejoin="round" stroke-linecap="round" />
<path d="M56.2,66.5 L59.3,178.5" stroke="#222" stroke-width="0.9" stroke-dasharray="2.6,1.8"/>
<path d="M137.3,62 V154" stroke="#222" stroke-width="0.9" stroke-dasharray="2.6,1.8"/>
<path d="M144.6,127 V176.5" stroke="#222" stroke-width="0.9" stroke-dasharray="2.6,1.8"/>
<text x="34.2" y="23.8" font-size="11.8" fill="#b3222a">Cu–Ti<tspan font-size="7.8" dy="2.6">1</tspan><tspan dy="-2.6">O</tspan><tspan font-size="7.8" dy="2.6">3</tspan></text>
<text x="46.6" y="64.4" font-size="9.4" fill="#1a1a1a"><tspan font-size="7.5" dy="-1.5">*</tspan><tspan dy="1.5">CO</tspan></text>
<text x="124.8" y="49" font-size="9.4" fill="#1a1a1a"><tspan font-size="7.5" dy="-1.5">*</tspan><tspan dy="1.5">OCH</tspan><tspan font-size="6.8" dy="2">3</tspan></text>
<text x="137.6" y="59.8" font-size="9.4" fill="#3a6e96" text-anchor="middle" >1380</text>
<text x="128.8" y="188.3" font-size="9.4" fill="#1a1a1a"><tspan font-size="7.5" dy="-1.5">*</tspan><tspan dy="1.5">COOH</tspan></text>
<text x="65.8" y="77.9" font-size="9.6" fill="#1a1a1a" text-anchor="start" >–1.1 V</text>
<text x="65.8" y="98.8" font-size="9.6" fill="#1a1a1a" text-anchor="start" >–0.9 V</text>
<text x="65.8" y="120.1" font-size="9.6" fill="#1a1a1a" text-anchor="start" >–0.7 V</text>
<text x="65.8" y="141.4" font-size="9.6" fill="#1a1a1a" text-anchor="start" >–0.5 V</text>
<text x="65.8" y="158.8" font-size="9.6" fill="#1a1a1a" text-anchor="start" >–0.3 V</text>
<text x="65.8" y="176.6" font-size="9.6" fill="#1a1a1a" text-anchor="start" >–0.1 V</text>
<text x="68.6" y="197.8" font-size="9.4" fill="#1a1a1a" text-anchor="start" >OCP</text>
<path d="M198.00,76.70 L198.22,76.69 L198.49,76.68 L198.79,76.67 L199.12,76.66 L199.49,76.64 L199.88,76.63 L200.30,76.61 L200.73,76.60 L201.18,76.58 L201.64,76.56 L202.10,76.54 L202.57,76.53 L203.04,76.51 L203.51,76.49 L203.97,76.48 L204.41,76.46 L204.84,76.44 L205.25,76.43 L205.64,76.41 L206.00,76.40 L206.49,76.37 L206.96,76.33 L207.43,76.28 L207.88,76.22 L208.32,76.16 L208.75,76.10 L209.17,76.04 L209.58,76.00 L209.97,75.97 L210.36,75.96 L210.74,75.98 L211.10,76.02 L211.46,76.09 L211.80,76.20 L212.31,76.44 L212.79,76.75 L213.24,77.12 L213.66,77.54 L214.06,78.00 L214.44,78.48 L214.81,78.98 L215.16,79.49 L215.50,80.00 L215.98,80.89 L216.40,81.98 L216.78,83.10 L217.15,84.11 L217.52,84.86 L217.90,85.20 L218.30,85.09 L218.69,84.63 L219.08,83.91 L219.48,83.01 L219.88,82.02 L220.30,81.00 L220.71,79.80 L221.09,78.33 L221.49,76.76 L221.92,75.26 L222.41,74.02 L223.00,73.20 L223.33,73.00 L223.67,72.93 L224.03,72.96 L224.40,73.08 L224.78,73.26 L225.19,73.49 L225.61,73.73 L226.05,73.97 L226.51,74.19 L226.98,74.37 L227.48,74.48 L228.00,74.50 L228.34,74.47 L228.70,74.41 L229.08,74.32 L229.47,74.22 L229.87,74.09 L230.28,73.96 L230.70,73.81 L231.12,73.66 L231.55,73.50 L231.99,73.35 L232.42,73.19 L232.85,73.05 L233.28,72.91 L233.70,72.79 L234.12,72.68 L234.53,72.60 L234.94,72.54 L235.32,72.50 L235.70,72.50 L236.16,72.53 L236.61,72.60 L237.05,72.70 L237.48,72.83 L237.90,72.98 L238.32,73.15 L238.73,73.33 L239.14,73.53 L239.55,73.74 L239.95,73.96 L240.36,74.17 L240.76,74.39 L241.17,74.60 L241.58,74.81 L242.00,75.00 L242.43,75.20 L242.86,75.42 L243.30,75.66 L243.75,75.90 L244.20,76.16 L244.64,76.42 L245.09,76.67 L245.53,76.92 L245.97,77.16 L246.39,77.39 L246.81,77.59 L247.21,77.76 L247.59,77.91 L247.96,78.03 L248.30,78.10 L248.83,78.12 L249.31,78.02 L249.75,77.83 L250.16,77.59 L250.55,77.32 L250.91,77.06 L251.27,76.83 L251.63,76.66 L252.00,76.60 L252.47,76.68 L252.91,76.89 L253.33,77.18 L253.75,77.49 L254.16,77.76 L254.58,77.95 L255.00,78.00 L255.42,77.88 L255.83,77.64 L256.23,77.31 L256.64,76.94 L257.07,76.58 L257.52,76.25 L258.00,76.00 L258.38,75.87 L258.80,75.77 L259.25,75.67 L259.72,75.59 L260.19,75.53 L260.64,75.47 L261.06,75.42 L261.44,75.37 L261.76,75.34 L262.00,75.30" fill="none" stroke="#a8bfd2" stroke-width="1.2" stroke-linejoin="round" stroke-linecap="round" />
<path d="M265.00,75.60 L265.28,76.62 L265.68,78.15 L266.14,79.81 L266.60,81.22 L267.00,82.00 L267.54,81.33 L268.02,79.61 L268.50,79.00 L268.98,81.07 L269.46,84.26 L270.00,86.00 L270.38,85.46 L270.79,84.01 L271.21,82.23 L271.62,80.70 L272.00,80.00 L272.54,81.30 L273.02,83.81 L273.50,85.00 L273.98,83.19 L274.46,80.04 L275.00,78.00 L275.37,78.12 L275.76,78.96 L276.18,80.04 L276.59,80.88 L277.00,81.00 L277.40,80.08 L277.80,78.44 L278.20,76.56 L278.60,74.92 L279.00,74.00 L279.40,74.10 L279.80,74.91 L280.20,75.97 L280.60,76.82 L281.00,77.00 L281.40,76.25 L281.80,74.86 L282.20,73.26 L282.60,71.83 L283.00,71.00 L283.38,71.03 L283.75,71.66 L284.13,72.46 L284.54,73.05 L285.00,73.00 L285.38,72.46 L285.78,71.63 L286.22,70.58 L286.66,69.40 L287.11,68.19 L287.56,67.03 L288.00,66.00 L288.43,65.07 L288.86,64.15 L289.29,63.25 L289.71,62.38 L290.14,61.54 L290.57,60.74 L291.00,60.00 L291.42,59.34 L291.83,58.76 L292.23,58.24 L292.64,57.74 L293.07,57.22 L293.52,56.65 L294.00,56.00 L294.36,55.45 L294.75,54.82 L295.16,54.12 L295.58,53.40 L296.00,52.67 L296.42,51.99 L296.84,51.36 L297.25,50.84 L297.64,50.44 L298.00,50.20 L298.49,50.13 L298.94,50.32 L299.38,50.71 L299.80,51.23 L300.21,51.83 L300.61,52.44 L301.00,53.00 L301.44,53.68 L301.85,54.47 L302.24,55.30 L302.64,56.12 L303.05,56.88 L303.50,57.50 L303.89,57.93 L304.27,58.29 L304.67,58.60 L305.08,58.86 L305.53,59.09 L306.03,59.30 L306.60,59.50 L306.94,59.60 L307.30,59.70 L307.68,59.79 L308.07,59.87 L308.48,59.95 L308.90,60.01 L309.34,60.07 L309.77,60.13 L310.22,60.17 L310.67,60.22 L311.11,60.25 L311.56,60.28 L312.00,60.30 L312.38,60.31 L312.76,60.31 L313.15,60.30 L313.53,60.28 L313.92,60.26 L314.31,60.23 L314.70,60.19 L315.10,60.16 L315.50,60.12 L315.90,60.09 L316.31,60.06 L316.73,60.03 L317.15,60.01 L317.57,60.00 L318.00,60.00 L318.40,60.01 L318.82,60.02 L319.27,60.03 L319.73,60.05 L320.20,60.08 L320.68,60.11 L321.16,60.13 L321.64,60.17 L322.11,60.20 L322.57,60.23 L323.01,60.26 L323.42,60.29 L323.81,60.32 L324.17,60.34 L324.49,60.37 L324.77,60.39 L325.00,60.40" fill="none" stroke="#a8bfd2" stroke-width="1.2" stroke-linejoin="round" stroke-linecap="round" />
<path d="M198.00,97.30 L198.22,97.30 L198.49,97.29 L198.79,97.29 L199.12,97.28 L199.49,97.27 L199.88,97.27 L200.30,97.26 L200.73,97.25 L201.18,97.25 L201.64,97.24 L202.10,97.23 L202.57,97.22 L203.04,97.22 L203.51,97.21 L203.97,97.21 L204.41,97.20 L204.84,97.20 L205.25,97.20 L205.64,97.20 L206.00,97.20 L206.49,97.20 L206.96,97.18 L207.43,97.16 L207.88,97.14 L208.32,97.11 L208.75,97.09 L209.17,97.07 L209.58,97.06 L209.97,97.07 L210.36,97.09 L210.74,97.13 L211.10,97.19 L211.46,97.28 L211.80,97.40 L212.31,97.64 L212.79,97.92 L213.24,98.25 L213.66,98.62 L214.06,99.04 L214.44,99.48 L214.81,99.96 L215.16,100.47 L215.50,101.00 L215.98,102.01 L216.40,103.30 L216.78,104.65 L217.15,105.88 L217.52,106.80 L217.90,107.20 L218.30,107.01 L218.69,106.38 L219.08,105.43 L219.48,104.29 L219.88,103.10 L220.30,102.00 L220.71,100.85 L221.09,99.53 L221.49,98.16 L221.92,96.86 L222.41,95.77 L223.00,95.00 L223.33,94.78 L223.67,94.67 L224.03,94.64 L224.40,94.69 L224.78,94.78 L225.19,94.91 L225.61,95.05 L226.05,95.18 L226.51,95.29 L226.98,95.36 L227.48,95.37 L228.00,95.30 L228.34,95.21 L228.70,95.08 L229.08,94.92 L229.47,94.74 L229.87,94.54 L230.28,94.32 L230.70,94.09 L231.12,93.85 L231.55,93.62 L231.99,93.38 L232.42,93.16 L232.85,92.94 L233.28,92.75 L233.70,92.57 L234.12,92.43 L234.53,92.31 L234.94,92.23 L235.32,92.19 L235.70,92.20 L236.16,92.27 L236.61,92.40 L237.05,92.59 L237.48,92.82 L237.90,93.09 L238.32,93.40 L238.73,93.73 L239.14,94.08 L239.55,94.44 L239.95,94.81 L240.36,95.17 L240.76,95.53 L241.17,95.88 L241.58,96.20 L242.00,96.50 L242.43,96.79 L242.86,97.10 L243.30,97.43 L243.75,97.76 L244.20,98.10 L244.64,98.44 L245.09,98.77 L245.53,99.09 L245.97,99.39 L246.39,99.68 L246.81,99.93 L247.21,100.16 L247.59,100.35 L247.96,100.50 L248.30,100.60 L248.83,100.64 L249.31,100.53 L249.75,100.31 L250.16,100.01 L250.55,99.68 L250.91,99.36 L251.27,99.08 L251.63,98.88 L252.00,98.80 L252.47,98.90 L252.91,99.15 L253.33,99.50 L253.75,99.88 L254.16,100.22 L254.58,100.45 L255.00,100.50 L255.42,100.34 L255.83,100.00 L256.23,99.57 L256.64,99.08 L257.07,98.62 L257.52,98.24 L258.00,98.00 L258.38,97.93 L258.80,97.92 L259.25,97.95 L259.72,98.01 L260.19,98.09 L260.64,98.19 L261.06,98.29 L261.44,98.38 L261.76,98.46 L262.00,98.50" fill="none" stroke="#5a84a8" stroke-width="1.2" stroke-linejoin="round" stroke-linecap="round" />
<path d="M265.00,96.60 L265.28,97.64 L265.68,99.20 L266.14,100.88 L266.60,102.28 L267.00,103.00 L267.54,101.88 L268.02,99.61 L268.50,99.00 L268.98,102.19 L269.46,107.04 L270.00,110.00 L270.38,109.67 L270.79,108.16 L271.21,106.22 L271.62,104.59 L272.00,104.00 L272.54,106.16 L273.02,109.84 L273.50,111.80 L273.98,109.92 L274.46,106.30 L275.00,104.00 L275.37,104.24 L275.76,105.33 L276.18,106.70 L276.59,107.78 L277.00,108.00 L277.40,106.99 L277.80,105.14 L278.20,102.98 L278.60,101.09 L279.00,100.00 L279.40,100.04 L279.80,100.84 L280.20,101.92 L280.60,102.80 L281.00,103.00 L281.40,102.26 L281.80,100.89 L282.20,99.29 L282.60,97.86 L283.00,97.00 L283.38,96.92 L283.75,97.35 L284.13,97.97 L284.54,98.46 L285.00,98.50 L285.38,98.15 L285.78,97.58 L286.22,96.86 L286.66,96.07 L287.11,95.28 L287.56,94.56 L288.00,94.00 L288.43,93.59 L288.86,93.26 L289.29,92.99 L289.71,92.76 L290.14,92.53 L290.57,92.29 L291.00,92.00 L291.42,91.68 L291.83,91.35 L292.23,91.01 L292.64,90.66 L293.07,90.29 L293.52,89.91 L294.00,89.50 L294.36,89.17 L294.75,88.78 L295.16,88.35 L295.58,87.90 L296.00,87.46 L296.42,87.05 L296.84,86.69 L297.25,86.39 L297.64,86.19 L298.00,86.10 L298.49,86.18 L298.94,86.45 L299.38,86.87 L299.80,87.38 L300.21,87.94 L300.61,88.50 L301.00,89.00 L301.44,89.58 L301.85,90.21 L302.24,90.86 L302.64,91.48 L303.05,92.04 L303.50,92.50 L303.89,92.80 L304.27,93.04 L304.67,93.23 L305.08,93.38 L305.53,93.50 L306.03,93.60 L306.60,93.70 L306.94,93.75 L307.30,93.79 L307.68,93.83 L308.07,93.85 L308.48,93.88 L308.90,93.89 L309.34,93.91 L309.77,93.91 L310.22,93.92 L310.67,93.92 L311.11,93.91 L311.56,93.91 L312.00,93.90 L312.38,93.89 L312.76,93.87 L313.15,93.85 L313.53,93.82 L313.92,93.79 L314.31,93.75 L314.70,93.72 L315.10,93.68 L315.50,93.65 L315.90,93.61 L316.31,93.58 L316.73,93.55 L317.15,93.53 L317.57,93.51 L318.00,93.50 L318.40,93.50 L318.82,93.50 L319.27,93.50 L319.73,93.51 L320.20,93.52 L320.68,93.53 L321.16,93.55 L321.64,93.57 L322.11,93.58 L322.57,93.60 L323.01,93.62 L323.42,93.64 L323.81,93.65 L324.17,93.67 L324.49,93.68 L324.77,93.69 L325.00,93.70" fill="none" stroke="#5a84a8" stroke-width="1.2" stroke-linejoin="round" stroke-linecap="round" />
<path d="M198.00,116.80 L198.22,116.79 L198.49,116.79 L198.79,116.78 L199.12,116.76 L199.48,116.75 L199.88,116.74 L200.29,116.72 L200.72,116.71 L201.17,116.69 L201.62,116.67 L202.09,116.66 L202.56,116.65 L203.03,116.63 L203.50,116.62 L203.95,116.61 L204.40,116.60 L204.83,116.60 L205.24,116.60 L205.64,116.60 L206.00,116.60 L206.46,116.60 L206.92,116.60 L207.37,116.59 L207.81,116.58 L208.24,116.57 L208.66,116.57 L209.08,116.57 L209.48,116.57 L209.88,116.59 L210.26,116.61 L210.63,116.66 L210.99,116.71 L211.34,116.79 L211.68,116.88 L212.00,117.00 L212.56,117.28 L213.07,117.63 L213.54,118.03 L213.97,118.47 L214.37,118.96 L214.75,119.46 L215.13,119.98 L215.50,120.50 L215.97,121.38 L216.41,122.49 L216.81,123.64 L217.20,124.62 L217.59,125.24 L218.00,125.30 L218.42,124.68 L218.83,123.53 L219.25,122.01 L219.67,120.30 L220.08,118.58 L220.50,117.00 L220.90,115.41 L221.28,113.63 L221.66,111.83 L222.06,110.17 L222.50,108.84 L223.00,108.00 L223.33,107.79 L223.69,107.78 L224.06,107.94 L224.44,108.22 L224.84,108.59 L225.26,109.02 L225.68,109.46 L226.11,109.88 L226.55,110.24 L227.00,110.50 L227.38,110.65 L227.76,110.78 L228.16,111.47 L228.56,111.41 L228.96,111.33 L229.38,111.26 L229.80,111.18 L230.22,111.10 L230.66,111.04 L231.10,111.00 L231.55,111.16 L232.00,111.37 L232.37,111.56 L232.75,111.77 L233.14,111.98 L233.53,112.21 L233.93,112.45 L234.33,112.70 L234.73,112.96 L235.14,113.22 L235.55,113.49 L235.96,113.76 L236.37,114.05 L236.78,114.39 L237.19,114.73 L237.60,115.07 L238.00,115.41 L238.40,115.75 L238.82,116.11 L239.23,116.49 L239.65,116.84 L240.07,117.18 L240.50,117.52 L240.92,117.86 L241.33,118.19 L241.74,118.52 L242.15,118.83 L242.54,119.13 L242.93,119.42 L243.30,119.67 L243.66,119.88 L244.00,120.07 L244.48,120.32 L244.93,120.53 L245.35,120.71 L245.74,120.86 L246.12,120.98 L246.50,121.06 L246.86,121.06 L247.23,121.04 L247.61,120.99 L248.00,120.92 L248.40,120.80 L248.80,120.61 L249.20,120.37 L249.60,120.11 L250.00,119.83 L250.40,119.62 L250.80,119.43 L251.20,119.29 L251.60,119.20 L252.00,119.19 L252.40,119.27 L252.82,119.44 L253.23,119.67 L253.65,119.94 L254.06,120.24 L254.47,120.53 L254.87,120.80 L255.26,121.03 L255.64,121.19 L256.00,121.27 L256.48,121.23 L256.93,121.07 L257.36,120.83 L257.77,120.55 L258.17,120.25 L258.58,119.99 L259.00,119.78 L259.45,119.64 L259.94,119.51 L260.44,119.11 L260.92,119.01 L261.36,118.93 L261.73,118.86 L262.00,118.80" fill="none" stroke="#2f5e88" stroke-width="1.2" stroke-linejoin="round" stroke-linecap="round" />
<path d="M265.00,122.93 L265.28,123.54 L265.68,124.47 L266.14,125.47 L266.60,126.30 L267.00,126.74 L267.54,126.15 L268.02,124.89 L268.50,124.47 L268.98,125.54 L269.46,127.45 L270.00,128.37 L270.37,127.82 L270.76,126.64 L271.18,125.40 L271.59,124.60 L272.00,124.38 L272.40,125.00 L272.80,126.21 L273.20,127.60 L273.60,128.79 L274.00,129.37 L274.40,129.13 L274.80,128.30 L275.20,127.25 L275.60,126.35 L276.00,125.99 L276.40,126.34 L276.80,127.17 L277.20,128.18 L277.60,129.09 L278.00,129.51 L278.40,129.29 L278.80,128.69 L279.20,127.99 L279.60,127.43 L280.00,127.29 L280.38,127.69 L280.74,128.45 L281.11,129.40 L281.52,130.25 L282.00,130.89 L282.36,131.20 L282.77,131.53 L283.21,131.85 L283.67,132.13 L284.12,132.33 L284.56,132.43 L284.96,132.50 L285.30,132.42 L285.81,131.46 L286.17,129.79 L286.52,128.08 L287.00,127.04 L287.36,126.94 L287.76,127.10 L288.19,127.39 L288.65,127.76 L289.10,128.12 L289.56,128.36 L290.00,128.39 L290.43,128.18 L290.86,127.79 L291.29,127.30 L291.71,126.77 L292.14,126.31 L292.57,125.96 L293.00,125.78 L293.42,125.82 L293.83,126.04 L294.23,126.37 L294.64,126.73 L295.07,127.05 L295.52,127.27 L296.00,127.40 L296.36,127.38 L296.74,127.29 L297.13,127.13 L297.53,126.93 L297.94,126.71 L298.35,126.47 L298.77,126.24 L299.18,126.47 L299.60,126.21 L300.00,125.66 L300.40,125.53 L300.80,125.44 L301.20,125.38 L301.60,125.34 L302.00,125.30 L302.40,125.26 L302.80,125.21 L303.20,125.14 L303.60,125.03 L304.00,124.86 L304.40,124.65 L304.80,124.38 L305.20,124.09 L305.60,123.76 L306.00,123.43 L306.40,123.09 L306.80,122.77 L307.20,122.47 L307.60,122.20 L308.00,121.99 L308.40,121.80 L308.80,121.62 L309.20,121.47 L309.60,121.34 L310.00,121.22 L310.40,121.12 L310.80,121.02 L311.20,120.93 L311.60,120.84 L312.00,120.74 L312.40,120.65 L312.80,120.59 L313.20,120.63 L313.60,120.68 L314.00,120.73 L314.40,120.77 L314.80,120.79 L315.20,120.79 L315.60,120.74 L316.00,120.65 L316.40,120.51 L316.78,120.30 L317.17,120.01 L317.55,119.69 L317.94,119.35 L318.33,119.01 L318.73,118.67 L319.14,118.36 L319.56,118.08 L320.00,117.84 L320.40,117.67 L320.83,117.51 L321.30,117.00 L321.78,116.86 L322.27,116.73 L322.75,116.61 L323.22,116.50 L323.67,116.40 L324.08,116.31 L324.44,116.23 L324.76,116.16 L325.00,116.10" fill="none" stroke="#2f5e88" stroke-width="1.2" stroke-linejoin="round" stroke-linecap="round" />
<path d="M198.00,139.10 L198.22,139.10 L198.48,139.09 L198.78,139.09 L199.10,139.08 L199.46,139.07 L199.84,139.06 L200.25,139.06 L200.67,139.05 L201.11,139.04 L201.56,139.03 L202.02,139.02 L202.49,139.02 L202.96,139.01 L203.42,139.00 L203.88,139.00 L204.34,139.00 L204.78,138.99 L205.20,138.99 L205.61,139.00 L206.00,139.00 L206.45,139.00 L206.90,139.01 L207.35,139.01 L207.81,139.01 L208.27,139.02 L208.73,139.02 L209.18,139.03 L209.62,139.03 L210.06,139.04 L210.49,139.06 L210.90,139.07 L211.30,139.10 L211.68,139.12 L212.05,139.16 L212.39,139.20 L212.71,139.25 L213.00,139.30 L213.68,139.50 L214.19,139.74 L214.57,140.03 L214.88,140.34 L215.17,140.67 L215.50,141.00 L216.01,141.64 L216.48,142.41 L216.93,143.02 L217.40,143.20 L217.81,142.94 L218.23,142.40 L218.65,141.68 L219.08,140.85 L219.50,140.00 L219.92,138.95 L220.33,137.64 L220.74,136.34 L221.16,135.30 L221.60,134.80 L221.96,134.93 L222.32,135.47 L222.68,136.26 L223.07,137.14 L223.50,137.94 L224.00,138.50 L224.32,138.71 L224.63,138.88 L224.96,139.01 L225.29,139.12 L225.65,139.20 L226.04,139.27 L226.46,139.32 L226.92,139.38 L227.43,139.43 L228.00,140.09 L228.31,140.13 L228.64,140.16 L228.98,140.18 L229.34,140.20 L229.72,140.22 L230.11,140.24 L230.50,140.26 L230.91,140.27 L231.33,140.29 L231.75,140.30 L232.18,140.31 L232.61,140.33 L233.04,140.34 L233.47,140.31 L233.91,140.27 L234.34,140.24 L234.76,140.21 L235.18,140.18 L235.60,140.16 L236.00,140.14 L236.40,140.17 L236.81,140.21 L237.22,140.26 L237.63,140.31 L238.05,140.37 L238.46,140.43 L238.88,140.49 L239.30,140.55 L239.71,140.62 L240.12,140.65 L240.54,140.66 L240.94,140.67 L241.35,140.68 L241.75,140.68 L242.14,140.68 L242.53,140.68 L242.91,140.67 L243.28,140.71 L243.65,140.75 L244.00,140.78 L244.46,140.81 L244.90,140.83 L245.33,140.85 L245.74,140.85 L246.15,140.85 L246.54,140.84 L246.93,140.82 L247.32,140.77 L247.70,140.72 L248.07,140.67 L248.45,140.61 L248.83,140.55 L249.22,140.50 L249.60,140.44 L250.00,140.39 L250.40,140.33 L250.80,140.29 L251.20,140.38 L251.60,140.46 L252.00,140.55 L252.40,140.63 L252.80,140.71 L253.20,140.80 L253.60,140.88 L254.00,140.88 L254.40,140.82 L254.80,140.76 L255.20,140.71 L255.60,140.67 L256.00,140.63 L256.41,140.61 L256.85,140.59 L257.30,140.58 L257.76,140.57 L258.22,140.61 L258.69,140.65 L259.15,140.70 L259.60,140.74 L260.03,140.79 L260.44,140.83 L260.83,140.88 L261.18,140.92 L261.50,140.95 L261.77,140.98 L262.00,141.00" fill="none" stroke="#1f4f7d" stroke-width="1.2" stroke-linejoin="round" stroke-linecap="round" />
<path d="M265.00,144.23 L265.27,144.58 L265.66,145.12 L266.10,145.70 L266.57,146.20 L267.00,146.49 L267.40,146.46 L267.80,146.19 L268.20,145.86 L268.60,145.59 L269.00,145.36 L269.40,145.52 L269.80,145.97 L270.20,146.52 L270.60,146.97 L271.00,147.13 L271.38,146.89 L271.75,146.37 L272.13,145.75 L272.54,145.24 L273.00,145.10 L273.38,145.24 L273.78,145.54 L274.22,145.94 L274.66,146.37 L275.11,146.76 L275.56,147.35 L276.00,147.76 L276.43,147.96 L276.86,148.00 L277.29,147.94 L277.71,147.84 L278.14,147.45 L278.57,147.09 L279.00,146.88 L279.43,146.83 L279.86,146.91 L280.29,147.07 L280.71,147.24 L281.14,147.40 L281.57,147.49 L282.00,147.46 L282.42,147.28 L282.83,147.00 L283.23,146.88 L283.64,146.82 L284.07,146.77 L284.52,146.80 L285.00,146.95 L285.36,147.15 L285.74,147.40 L286.13,147.53 L286.53,147.39 L286.94,147.26 L287.35,147.12 L287.77,146.98 L288.18,146.82 L288.60,146.63 L289.00,146.41 L289.40,146.14 L289.80,146.17 L290.20,146.16 L290.60,146.14 L291.00,146.10 L291.40,146.07 L291.80,146.05 L292.20,146.05 L292.60,146.21 L293.00,146.41 L293.40,146.64 L293.80,146.91 L294.20,147.21 L294.60,147.53 L295.00,147.85 L295.40,148.18 L295.80,148.50 L296.20,148.74 L296.60,148.83 L297.00,148.88 L297.40,148.88 L297.78,148.84 L298.17,148.77 L298.55,148.69 L298.94,148.59 L299.33,148.50 L299.73,148.43 L300.14,147.54 L300.56,147.56 L301.00,147.63 L301.39,147.74 L301.80,147.91 L302.23,148.13 L302.67,148.37 L303.11,148.63 L303.56,148.90 L304.01,149.16 L304.44,149.39 L304.87,149.55 L305.27,149.67 L305.65,149.74 L306.00,149.74 L306.52,149.58 L306.97,149.27 L307.37,148.86 L307.75,148.39 L308.13,147.94 L308.54,147.54 L309.00,147.22 L309.36,147.04 L309.72,146.89 L310.10,146.75 L310.48,146.62 L310.88,146.50 L311.28,146.39 L311.69,146.27 L312.12,146.16 L312.55,146.05 L313.00,145.89 L313.38,145.74 L313.75,145.59 L314.13,145.45 L314.52,145.31 L314.91,145.17 L315.31,145.02 L315.72,144.87 L316.15,144.73 L316.59,144.58 L317.04,144.43 L317.51,144.26 L318.00,144.08 L318.37,143.94 L318.77,143.78 L319.21,143.61 L319.66,143.43 L320.13,143.24 L320.60,143.06 L321.09,142.88 L321.57,142.70 L322.05,142.52 L322.52,142.34 L322.97,142.17 L323.39,142.01 L323.79,141.86 L324.16,141.72 L324.48,141.59 L324.77,141.49 L325.00,141.40" fill="none" stroke="#1f4f7d" stroke-width="1.2" stroke-linejoin="round" stroke-linecap="round" />
<path d="M198.00,159.50 L198.22,159.50 L198.47,159.49 L198.75,159.48 L199.05,159.48 L199.39,159.47 L199.74,159.46 L200.12,159.45 L200.52,159.44 L200.94,159.43 L201.37,159.41 L201.82,159.40 L202.27,159.39 L202.74,159.38 L203.21,159.37 L203.69,159.36 L204.17,159.35 L204.65,159.33 L205.13,159.32 L205.60,159.32 L206.07,159.31 L206.54,159.30 L206.99,159.29 L207.43,159.29 L207.86,159.29 L208.27,159.28 L208.66,159.28 L209.03,159.28 L209.38,159.29 L209.70,159.29 L210.00,159.30 L210.67,159.33 L211.26,159.38 L211.79,159.45 L212.26,159.52 L212.68,159.60 L213.06,159.69 L213.41,159.77 L213.74,159.84 L214.05,159.91 L214.36,159.96 L214.68,159.99 L215.00,160.00 L215.53,159.95 L216.00,159.82 L216.43,159.65 L216.82,159.47 L217.20,159.32 L217.59,159.22 L218.00,159.20 L218.39,159.29 L218.74,159.48 L219.08,159.72 L219.43,159.97 L219.85,160.21 L220.36,160.40 L221.00,160.50 L221.31,160.51 L221.63,160.50 L221.98,160.48 L222.35,160.45 L222.74,160.41 L223.13,160.36 L223.55,160.30 L223.97,160.24 L224.41,160.17 L224.85,160.11 L225.29,160.05 L225.75,159.99 L226.20,159.93 L226.65,159.88 L227.11,159.84 L227.56,159.82 L228.00,160.10 L228.38,160.03 L228.76,159.97 L229.15,159.92 L229.54,159.87 L229.93,159.82 L230.33,159.77 L230.73,159.73 L231.13,159.69 L231.53,159.65 L231.94,159.61 L232.34,159.57 L232.75,159.54 L233.16,159.56 L233.57,159.59 L233.98,159.62 L234.38,159.65 L234.79,159.68 L235.20,159.71 L235.60,159.74 L236.00,159.77 L236.40,159.79 L236.80,159.82 L237.20,159.86 L237.60,159.89 L238.00,159.93 L238.40,159.95 L238.80,159.98 L239.20,160.00 L239.60,160.03 L240.00,160.05 L240.40,160.07 L240.80,160.10 L241.20,160.12 L241.60,160.14 L242.00,160.15 L242.40,160.16 L242.80,160.19 L243.20,160.22 L243.60,160.24 L244.00,160.26 L244.40,160.27 L244.79,160.27 L245.18,160.27 L245.57,160.27 L245.95,160.26 L246.34,160.25 L246.72,160.24 L247.10,160.23 L247.49,160.27 L247.88,160.32 L248.26,160.36 L248.66,160.41 L249.05,160.45 L249.45,160.50 L249.86,160.55 L250.27,160.61 L250.69,160.67 L251.12,160.74 L251.55,160.81 L252.00,160.77 L252.37,160.75 L252.76,160.72 L253.17,160.70 L253.59,160.68 L254.03,160.66 L254.48,160.64 L254.94,160.62 L255.40,160.60 L255.87,160.59 L256.34,160.61 L256.80,160.71 L257.27,160.81 L257.73,160.91 L258.18,161.00 L258.62,161.10 L259.05,161.19 L259.47,161.28 L259.87,161.37 L260.25,161.45 L260.61,161.53 L260.94,161.61 L261.25,160.96 L261.53,160.97 L261.78,160.99 L262.00,161.00" fill="none" stroke="#2b5a86" stroke-width="1.2" stroke-linejoin="round" stroke-linecap="round" />
<path d="M265.00,162.28 L265.27,162.58 L265.66,163.03 L266.10,163.53 L266.57,163.97 L267.00,164.27 L267.40,164.34 L267.80,164.24 L268.20,164.10 L268.60,164.03 L269.00,163.89 L269.38,164.05 L269.75,164.41 L270.13,164.83 L270.54,165.18 L271.00,165.31 L271.38,165.20 L271.78,164.97 L272.22,164.65 L272.66,164.32 L273.11,164.30 L273.56,164.35 L274.00,164.51 L274.42,164.80 L274.83,165.20 L275.23,165.66 L275.64,165.93 L276.07,166.08 L276.52,166.15 L277.00,166.09 L277.36,165.95 L277.74,165.74 L278.13,165.49 L278.53,165.20 L278.94,164.91 L279.35,164.76 L279.77,164.62 L280.18,164.51 L280.60,164.44 L281.00,164.43 L281.40,164.49 L281.78,164.61 L282.17,164.76 L282.55,164.91 L282.94,165.01 L283.33,165.10 L283.73,165.19 L284.14,165.25 L284.56,165.27 L285.00,165.23 L285.38,165.15 L285.78,165.04 L286.18,164.92 L286.59,165.14 L287.01,165.36 L287.44,165.58 L287.87,165.80 L288.30,166.03 L288.73,166.27 L289.16,166.09 L289.58,165.81 L290.00,165.57 L290.42,165.38 L290.83,165.21 L291.25,165.08 L291.67,164.96 L292.08,165.14 L292.50,165.39 L292.92,165.64 L293.33,165.89 L293.75,166.12 L294.17,166.34 L294.58,166.54 L295.00,166.71 L295.41,166.83 L295.82,166.83 L296.23,166.76 L296.63,166.67 L297.03,166.57 L297.44,166.47 L297.85,166.37 L298.26,166.16 L298.68,166.12 L299.11,166.11 L299.55,166.14 L300.00,166.23 L300.38,166.35 L300.77,166.51 L301.18,166.70 L301.61,166.93 L302.04,167.17 L302.47,167.42 L302.91,167.68 L303.34,167.93 L303.77,168.18 L304.19,168.41 L304.59,168.59 L304.98,168.75 L305.34,168.86 L305.69,168.93 L306.00,168.96 L306.57,168.84 L307.02,168.55 L307.39,168.15 L307.73,167.67 L308.08,167.18 L308.49,166.73 L309.00,166.38 L309.35,166.22 L309.72,166.08 L310.11,165.95 L310.52,165.83 L310.94,165.71 L311.38,165.60 L311.82,165.50 L312.26,165.40 L312.70,165.30 L313.14,165.13 L313.58,164.95 L314.00,164.75 L314.41,164.56 L314.82,164.36 L315.23,164.17 L315.63,163.97 L316.03,163.78 L316.44,163.58 L316.85,163.43 L317.26,163.33 L317.68,163.24 L318.11,163.14 L318.55,163.05 L319.00,162.97 L319.38,162.90 L319.80,162.81 L320.23,162.68 L320.68,162.54 L321.15,162.41 L321.62,162.27 L322.08,162.14 L322.54,162.01 L322.98,162.12 L323.41,162.03 L323.80,161.95 L324.17,161.87 L324.49,161.81 L324.77,161.75 L325.00,161.70" fill="none" stroke="#2b5a86" stroke-width="1.2" stroke-linejoin="round" stroke-linecap="round" />
<path d="M198.00,180.60 L198.22,180.59 L198.49,180.58 L198.79,180.56 L199.12,180.55 L199.48,180.53 L199.88,180.51 L200.29,180.49 L200.72,180.46 L201.17,180.44 L201.62,180.42 L202.09,180.40 L202.56,180.38 L203.03,180.36 L203.50,180.34 L203.95,180.33 L204.40,180.31 L204.83,180.30 L205.24,180.30 L205.64,180.30 L206.00,180.30 L206.46,180.31 L206.90,180.34 L207.33,180.37 L207.74,180.40 L208.15,180.45 L208.54,180.50 L208.93,180.54 L209.32,180.59 L209.70,180.64 L210.07,180.69 L210.45,180.72 L210.83,180.76 L211.22,180.78 L211.60,180.80 L212.00,180.80 L212.40,180.79 L212.80,180.76 L213.20,180.73 L213.60,180.68 L214.00,180.63 L214.40,180.57 L214.80,180.51 L215.20,180.45 L215.60,180.39 L216.00,180.34 L216.40,180.29 L216.80,180.25 L217.20,180.22 L217.60,180.20 L218.00,180.20 L218.40,180.21 L218.78,180.24 L219.17,180.29 L219.55,180.34 L219.93,180.40 L220.30,180.47 L220.68,180.54 L221.07,180.61 L221.46,180.68 L221.85,180.76 L222.26,180.82 L222.67,180.88 L223.10,180.93 L223.54,180.97 L224.00,181.00 L224.35,181.01 L224.72,181.02 L225.09,181.02 L225.47,181.01 L225.86,181.00 L226.25,180.99 L226.65,180.98 L227.06,180.96 L227.46,180.94 L227.88,180.92 L228.29,180.76 L228.70,180.80 L229.12,180.83 L229.54,180.87 L229.95,180.91 L230.37,180.95 L230.78,180.99 L231.19,181.04 L231.60,181.09 L232.00,181.15 L232.40,181.21 L232.80,181.28 L233.20,181.33 L233.60,181.36 L234.00,181.39 L234.40,181.42 L234.80,181.46 L235.20,181.49 L235.60,181.53 L236.00,181.57 L236.40,181.59 L236.80,181.52 L237.20,181.45 L237.60,181.37 L238.00,181.29 L238.40,181.21 L238.80,181.12 L239.20,181.03 L239.60,180.94 L240.00,180.84 L240.40,180.73 L240.80,180.67 L241.20,180.68 L241.60,180.70 L242.00,180.70 L242.40,180.71 L242.80,180.71 L243.20,180.72 L243.60,180.72 L244.00,180.72 L244.40,180.72 L244.80,180.72 L245.20,180.72 L245.60,180.72 L246.00,180.73 L246.40,180.74 L246.80,180.75 L247.20,180.76 L247.60,180.78 L248.00,180.81 L248.40,180.84 L248.81,180.87 L249.22,180.90 L249.63,180.88 L250.05,180.85 L250.46,180.83 L250.88,180.80 L251.30,180.78 L251.71,180.75 L252.12,180.73 L252.54,180.71 L252.94,180.69 L253.35,180.67 L253.75,180.73 L254.14,180.84 L254.53,180.94 L254.91,181.04 L255.28,181.14 L255.65,181.24 L256.00,181.33 L256.47,181.45 L256.95,181.58 L257.42,181.70 L257.90,181.82 L258.37,181.84 L258.83,181.85 L259.28,181.86 L259.71,181.87 L260.13,181.88 L260.52,181.88 L260.88,181.89 L261.22,181.90 L261.52,181.90 L261.78,181.91 L262.00,181.50" fill="none" stroke="#2b5a86" stroke-width="1.2" stroke-linejoin="round" stroke-linecap="round" />
<path d="M265.00,186.32 L265.27,186.42 L265.66,186.58 L266.10,186.74 L266.57,186.84 L267.00,186.83 L267.40,186.70 L267.80,186.55 L268.20,186.37 L268.60,186.24 L269.00,186.28 L269.38,186.56 L269.75,187.02 L270.13,187.42 L270.54,187.73 L271.00,187.83 L271.37,187.73 L271.76,187.51 L272.16,187.22 L272.59,186.93 L273.04,186.67 L273.51,186.47 L274.00,186.38 L274.36,186.40 L274.74,186.48 L275.13,186.61 L275.53,186.76 L275.94,186.82 L276.35,186.85 L276.77,186.87 L277.18,186.86 L277.60,186.81 L278.00,186.71 L278.40,186.56 L278.80,186.36 L279.20,186.13 L279.60,185.87 L280.00,185.76 L280.40,185.78 L280.80,185.81 L281.20,185.86 L281.60,185.93 L282.00,186.04 L282.40,186.19 L282.80,186.27 L283.20,186.16 L283.60,186.07 L284.00,185.98 L284.40,185.90 L284.80,185.81 L285.20,185.71 L285.60,185.71 L286.00,185.92 L286.40,186.09 L286.78,186.23 L287.17,186.34 L287.55,186.43 L287.94,186.52 L288.33,186.50 L288.73,186.38 L289.14,186.29 L289.56,186.22 L290.00,186.19 L290.38,186.20 L290.78,186.24 L291.18,186.30 L291.59,186.38 L292.01,186.48 L292.44,186.63 L292.87,186.80 L293.30,186.96 L293.73,187.11 L294.16,187.25 L294.58,187.36 L295.00,187.28 L295.41,187.07 L295.82,186.84 L296.23,186.60 L296.63,186.33 L297.03,186.06 L297.44,185.79 L297.85,185.51 L298.26,186.04 L298.68,186.00 L299.11,185.97 L299.55,185.97 L300.00,186.05 L300.38,186.12 L300.77,186.21 L301.17,186.33 L301.58,186.47 L302.00,186.62 L302.42,186.78 L302.85,186.95 L303.27,187.11 L303.70,187.27 L304.11,187.42 L304.52,187.55 L304.91,187.61 L305.29,187.64 L305.66,187.65 L306.00,187.61 L306.48,187.51 L306.91,187.34 L307.32,187.13 L307.70,186.88 L308.06,186.61 L308.42,186.32 L308.79,186.02 L309.17,185.74 L309.57,185.49 L310.00,185.31 L310.38,185.19 L310.78,185.08 L311.18,184.97 L311.59,184.86 L312.01,184.76 L312.44,184.67 L312.87,184.57 L313.30,184.48 L313.73,184.38 L314.16,184.29 L314.58,184.19 L315.00,184.08 L315.42,183.98 L315.83,183.87 L316.25,183.76 L316.67,183.65 L317.08,183.54 L317.50,183.44 L317.92,183.33 L318.33,183.22 L318.75,183.11 L319.17,183.00 L319.58,182.84 L320.00,182.68 L320.43,182.51 L320.89,182.32 L321.37,182.14 L321.85,181.94 L322.34,181.75 L322.81,181.56 L323.27,181.38 L323.70,181.21 L324.10,181.05 L324.46,181.16 L324.76,181.07 L325.00,181.00" fill="none" stroke="#2b5a86" stroke-width="1.2" stroke-linejoin="round" stroke-linecap="round" />
<path d="M198.00,202.40 L198.22,202.40 L198.46,202.40 L198.73,202.39 L199.03,202.39 L199.35,202.39 L199.70,202.39 L200.06,202.38 L200.44,202.38 L200.84,202.38 L201.26,202.37 L201.69,202.37 L202.13,202.37 L202.58,202.36 L203.04,202.36 L203.50,202.36 L203.97,202.35 L204.44,202.35 L204.91,202.34 L205.38,202.34 L205.85,202.34 L206.32,202.33 L206.77,202.33 L207.22,202.33 L207.66,202.32 L208.09,202.32 L208.51,202.31 L208.91,202.31 L209.29,202.31 L209.66,202.30 L210.00,202.30 L210.49,202.30 L210.97,202.29 L211.44,202.29 L211.89,202.29 L212.33,202.29 L212.76,202.29 L213.18,202.28 L213.58,202.28 L213.98,202.28 L214.38,202.28 L214.76,202.28 L215.14,202.28 L215.51,202.27 L215.87,202.27 L216.23,202.26 L216.59,202.25 L216.95,202.24 L217.30,202.23 L217.65,202.22 L218.00,202.20 L218.46,202.17 L218.90,202.14 L219.33,202.09 L219.74,202.04 L220.15,201.99 L220.54,201.94 L220.93,201.88 L221.32,201.83 L221.70,201.78 L222.07,201.73 L222.45,201.69 L222.83,201.65 L223.22,201.62 L223.60,201.61 L224.00,201.60 L224.39,201.61 L224.77,201.62 L225.14,201.65 L225.50,201.69 L225.85,201.73 L226.21,201.78 L226.57,201.83 L226.93,201.88 L227.31,201.94 L227.70,201.99 L228.11,202.27 L228.54,202.25 L229.00,202.22 L229.48,202.17 L230.00,202.12 L230.33,202.08 L230.66,202.03 L231.01,201.99 L231.37,201.95 L231.74,201.94 L232.12,201.93 L232.51,201.93 L232.90,201.92 L233.31,201.91 L233.71,201.90 L234.12,201.88 L234.54,201.87 L234.96,201.86 L235.38,201.84 L235.81,201.88 L236.23,201.95 L236.66,202.01 L237.09,202.08 L237.51,202.14 L237.94,202.21 L238.36,202.28 L238.77,202.34 L239.19,202.41 L239.60,202.47 L240.00,202.54 L240.40,202.56 L240.79,202.56 L241.19,202.55 L241.58,202.54 L241.97,202.53 L242.36,202.53 L242.74,202.52 L243.13,202.51 L243.52,202.51 L243.90,202.51 L244.29,202.51 L244.68,202.51 L245.07,202.51 L245.46,202.50 L245.86,202.50 L246.25,202.50 L246.65,202.50 L247.05,202.50 L247.46,202.53 L247.87,202.56 L248.29,202.60 L248.71,202.63 L249.13,202.66 L249.56,202.70 L250.00,202.74 L250.38,202.77 L250.77,202.80 L251.17,202.83 L251.59,202.87 L252.02,202.91 L252.46,202.91 L252.91,202.90 L253.37,202.89 L253.83,202.88 L254.30,202.87 L254.76,202.86 L255.23,202.85 L255.70,202.84 L256.16,202.85 L256.62,202.87 L257.08,202.89 L257.53,202.91 L257.97,202.93 L258.40,202.95 L258.81,202.97 L259.22,202.98 L259.61,203.00 L259.98,203.02 L260.34,203.03 L260.67,202.58 L260.99,202.58 L261.28,202.59 L261.54,202.59 L261.79,202.60 L262.00,202.60" fill="none" stroke="#243a52" stroke-width="1.2" stroke-linejoin="round" stroke-linecap="round" />
<path d="M265.00,202.33 L265.23,202.33 L265.50,202.32 L265.80,202.31 L266.14,202.30 L266.52,202.29 L266.91,202.28 L267.33,202.27 L267.77,202.26 L268.23,202.24 L268.70,202.22 L269.17,202.19 L269.65,202.16 L270.14,202.13 L270.62,202.10 L271.09,202.06 L271.55,202.01 L272.00,201.95 L272.38,201.90 L272.75,201.84 L273.13,201.78 L273.50,201.72 L273.88,201.66 L274.26,201.59 L274.65,201.53 L275.03,201.45 L275.42,201.37 L275.81,201.28 L276.21,201.20 L276.61,201.11 L277.01,201.03 L277.42,200.94 L277.84,200.86 L278.26,200.79 L278.68,200.80 L279.11,200.82 L279.55,200.84 L280.00,200.86 L280.36,200.88 L280.73,200.90 L281.11,200.92 L281.49,200.97 L281.87,201.01 L282.26,201.05 L282.65,201.10 L283.05,201.15 L283.45,201.19 L283.86,201.19 L284.26,201.17 L284.67,201.15 L285.08,201.13 L285.49,201.11 L285.90,201.09 L286.32,201.08 L286.73,201.00 L287.14,200.92 L287.56,200.83 L287.97,200.75 L288.38,200.67 L288.79,200.59 L289.19,200.52 L289.60,200.45 L290.00,200.38 L290.40,200.31 L290.80,200.36 L291.20,200.43 L291.60,200.50 L292.00,200.58 L292.40,200.66 L292.80,200.74 L293.20,200.82 L293.60,200.91 L294.00,200.99 L294.40,201.08 L294.80,201.00 L295.20,200.92 L295.60,200.83 L296.00,200.75 L296.40,200.67 L296.80,200.58 L297.20,200.50 L297.60,200.41 L298.00,200.91 L298.40,200.93 L298.80,200.95 L299.20,200.97 L299.60,200.99 L300.00,200.86 L300.40,200.92 L300.81,200.97 L301.21,201.02 L301.62,201.08 L302.03,201.13 L302.44,201.19 L302.86,201.24 L303.27,201.30 L303.68,201.35 L304.10,201.41 L304.51,201.46 L304.92,201.52 L305.33,201.55 L305.74,201.55 L306.14,201.55 L306.55,201.56 L306.95,201.56 L307.35,201.56 L307.74,201.56 L308.13,201.55 L308.51,201.55 L308.89,201.55 L309.27,201.55 L309.64,201.54 L310.00,201.54 L310.45,201.50 L310.89,201.44 L311.32,201.39 L311.74,201.33 L312.16,201.27 L312.58,201.21 L312.99,201.15 L313.39,201.10 L313.79,201.04 L314.19,200.98 L314.58,200.92 L314.97,200.86 L315.35,200.85 L315.74,200.86 L316.12,200.87 L316.50,200.88 L316.87,200.89 L317.25,200.90 L317.62,200.92 L318.00,200.94 L318.45,200.96 L318.91,200.98 L319.38,201.01 L319.86,201.03 L320.35,201.05 L320.83,201.07 L321.30,201.09 L321.77,201.12 L322.23,201.14 L322.67,201.16 L323.09,201.18 L323.48,201.20 L323.86,201.22 L324.20,201.29 L324.50,201.29 L324.77,201.30 L325.00,201.30" fill="none" stroke="#243a52" stroke-width="1.2" stroke-linejoin="round" stroke-linecap="round" />
<path d="M223.8,65.5 L222,136.5" stroke="#222" stroke-width="0.9" stroke-dasharray="2.6,1.8"/>
<path d="M298.6,47.5 V88" stroke="#222" stroke-width="0.9" stroke-dasharray="2.6,1.8"/>
<text x="199" y="22.9" font-size="11.7" fill="#2a5586">Cu–O<tspan font-size="7.6" dy="2.6">4</tspan><tspan dy="-2.6">(Ti)</tspan></text>
<text x="213.7" y="62.9" font-size="9.4" fill="#1a1a1a"><tspan font-size="7.5" dy="-1.5">*</tspan><tspan dy="1.5">CO</tspan></text>
<text x="285.2" y="35.0" font-size="9.4" fill="#1a1a1a"><tspan font-size="7.5" dy="-1.5">*</tspan><tspan dy="1.5">OCH</tspan><tspan font-size="6.6" dy="1.8">3</tspan></text>
<text x="298.1" y="44.4" font-size="9.4" fill="#3a6e96" text-anchor="middle" >1398</text>
<text x="231.0" y="70.7" font-size="9.6" fill="#1a1a1a" text-anchor="start" >–1.1 V</text>
<text x="231.0" y="92.7" font-size="9.6" fill="#1a1a1a" text-anchor="start" >–0.9 V</text>
<text x="231.0" y="112.9" font-size="9.6" fill="#1a1a1a" text-anchor="start" >–0.7 V</text>
<text x="231.0" y="136.9" font-size="9.6" fill="#1a1a1a" text-anchor="start" >–0.5 V</text>
<text x="231.0" y="156.8" font-size="9.6" fill="#1a1a1a" text-anchor="start" >–0.3 V</text>
<text x="231.0" y="176.9" font-size="9.6" fill="#1a1a1a" text-anchor="start" >–0.1 V</text>
<text x="235.4" y="198.6" font-size="9.4" fill="#1a1a1a" text-anchor="start" >OCP</text>
<defs>
<linearGradient id="cb" x1="0" y1="0" x2="0" y2="1">
<stop offset="0" stop-color="#1414ff"/><stop offset="0.12" stop-color="#1060ff"/><stop offset="0.25" stop-color="#00f4ff"/>
<stop offset="0.37" stop-color="#00ff90"/><stop offset="0.48" stop-color="#10ff10"/><stop offset="0.62" stop-color="#a0ff00"/>
<stop offset="0.76" stop-color="#ffff00"/><stop offset="0.88" stop-color="#ff9000"/><stop offset="1" stop-color="#ff1010"/>
</linearGradient>
<linearGradient id="c1s" x1="0" y1="1" x2="1" y2="0">
<stop offset="0" stop-color="#b01c2c"/><stop offset="0.45" stop-color="#b01c2c"/><stop offset="0.8" stop-color="#f0c0c4"/><stop offset="1" stop-color="#fbe8ea"/>
</linearGradient>
<linearGradient id="c2s" x1="0" y1="1" x2="1" y2="0">
<stop offset="0" stop-color="#2a7ccc"/><stop offset="0.45" stop-color="#2a7ccc"/><stop offset="0.8" stop-color="#b8d6f0"/><stop offset="1" stop-color="#e8f2fb"/>
</linearGradient>
<radialGradient id="ti" cx="0.5" cy="0.5" r="0.5" fx="0.45" fy="0.42">
<stop offset="0" stop-color="#f4fbff"/><stop offset="0.3" stop-color="#9ad4f6"/><stop offset="0.7" stop-color="#58aee4"/><stop offset="1" stop-color="#3c8ccc"/>
</radialGradient>
<radialGradient id="cu" cx="0.4" cy="0.35" r="0.65">
<stop offset="0" stop-color="#e8e0ff"/><stop offset="0.35" stop-color="#8a70e0"/><stop offset="1" stop-color="#5038b0"/>
</radialGradient>
<radialGradient id="cug" cx="0.4" cy="0.35" r="0.65">
<stop offset="0" stop-color="#d8d0c0"/><stop offset="0.4" stop-color="#8a8070"/><stop offset="1" stop-color="#504838"/>
</radialGradient>
<radialGradient id="gc" cx="0.4" cy="0.35" r="0.65">
<stop offset="0" stop-color="#e0e0e0"/><stop offset="0.4" stop-color="#909090"/><stop offset="1" stop-color="#555"/>
</radialGradient>
<linearGradient id="pk" x1="0" y1="0" x2="0" y2="1">
<stop offset="0" stop-color="#0a14ff"/><stop offset="0.3" stop-color="#0860ff"/><stop offset="0.6" stop-color="#00e4ff"/><stop offset="0.85" stop-color="#00f8d8"/><stop offset="1" stop-color="#04f2a0"/>
</linearGradient>
<linearGradient id="dp" x1="0" y1="0" x2="0" y2="1">
<stop offset="0" stop-color="#18f018"/><stop offset="0.3" stop-color="#50f000"/><stop offset="0.58" stop-color="#f4f400"/><stop offset="0.8" stop-color="#ffa000"/><stop offset="1" stop-color="#ff3000"/>
</linearGradient>
<linearGradient id="dpy" x1="0" y1="0" x2="0" y2="1">
<stop offset="0" stop-color="#18f018"/><stop offset="0.45" stop-color="#60f000"/><stop offset="0.85" stop-color="#e8f800"/><stop offset="1" stop-color="#ffff00"/>
</linearGradient>
<linearGradient id="dpg" x1="0" y1="0" x2="0" y2="1">
<stop offset="0" stop-color="#18f018"/><stop offset="0.6" stop-color="#30f000"/><stop offset="1" stop-color="#70f000"/>
</linearGradient>
<linearGradient id="dps" x1="0" y1="0" x2="0" y2="1">
<stop offset="0" stop-color="#10f030"/><stop offset="1" stop-color="#20ee00"/>
</linearGradient>
<linearGradient id="bg1" x1="0" y1="0" x2="1" y2="0">
<stop offset="0" stop-color="#fbfcfd"/><stop offset="0.45" stop-color="#e4e9ef"/><stop offset="1" stop-color="#c8d4e0"/>
</linearGradient>
<linearGradient id="rg1" x1="0" y1="0" x2="1" y2="0">
<stop offset="0" stop-color="#fdf6f7"/><stop offset="0.45" stop-color="#f4d8dc"/><stop offset="1" stop-color="#eabfc5"/>
</linearGradient>
<linearGradient id="pkc" x1="0" y1="0" x2="0" y2="1">
<stop offset="0" stop-color="#10c8ff"/><stop offset="0.35" stop-color="#00f4ff"/><stop offset="0.75" stop-color="#00f8d0"/><stop offset="1" stop-color="#04f2a0"/>
</linearGradient>
<linearGradient id="pkl" x1="0" y1="0" x2="0" y2="1">
<stop offset="0" stop-color="#1070ff"/><stop offset="0.4" stop-color="#00d8ff"/><stop offset="0.8" stop-color="#00f8d0"/><stop offset="1" stop-color="#04f2a0"/>
</linearGradient>
<filter id="bl" x="-50%" y="-50%" width="200%" height="200%"><feGaussianBlur stdDeviation="2"/></filter>
<filter id="bl2" x="-50%" y="-50%" width="200%" height="200%"><feGaussianBlur stdDeviation="0.8"/></filter>
<radialGradient id="cuL" cx="0.5" cy="0.5" r="0.5">
<stop offset="0" stop-color="#ffffff"/><stop offset="0.3" stop-color="#b8a8f0"/><stop offset="0.7" stop-color="#7a5fd8"/><stop offset="1" stop-color="#6a4cc8"/>
</radialGradient>
<radialGradient id="tiL" cx="0.5" cy="0.5" r="0.5">
<stop offset="0" stop-color="#ffffff"/><stop offset="0.3" stop-color="#a8dcf8"/><stop offset="0.75" stop-color="#5ab0e6"/><stop offset="1" stop-color="#4a9ad6"/>
</radialGradient>
<radialGradient id="oxg" cx="0.45" cy="0.4" r="0.6">
<stop offset="0" stop-color="#ffffff"/><stop offset="0.45" stop-color="#fbe4e6"/><stop offset="0.8" stop-color="#e8909a"/><stop offset="1" stop-color="#d87480"/>
</radialGradient>
<clipPath id="cc1"><circle cx="414.3" cy="74" r="45.5"/></clipPath>
<clipPath id="cc2"><circle cx="558.4" cy="73.2" r="45"/></clipPath>
</defs>
<rect x="653.2" y="19.5" width="7" height="176" fill="url(#cb)"/>
<text x="655.6" y="16.4" font-size="11.2" fill="#1a1a1a" text-anchor="middle" >1.0</text>
<text x="654.4" y="206.1" font-size="11.2" fill="#1a1a1a" text-anchor="middle" >–2.0</text>
<text transform="translate(678.4,105.4) rotate(-90)" font-size="11.0" fill="#1a1a1a" text-anchor="middle">Charge density difference (10<tspan font-size="7.4" dy="-3.6">−3</tspan><tspan dy="3.6">|e| Bohr</tspan><tspan font-size="7.4" dy="-3.6">−3</tspan><tspan dy="3.6">)</tspan></text>
<text x="388.6" y="21.8" font-size="14.4" fill="#b01c2c">Cu-Ti<tspan font-size="10.4" dy="4">1</tspan><tspan dy="-4">O</tspan><tspan font-size="10.4" dy="4">3</tspan></text>
<text x="528.6" y="20.9" font-size="14.4" fill="#1f4e7e" textLength="65" lengthAdjust="spacingAndGlyphs">Cu-O<tspan font-size="10.4" dy="4">4</tspan><tspan dy="-4">(Ti)</tspan></text>
<g clip-path="url(#cc1)">
<path d="M366.0,74.50 L372.5,74.83" stroke="#f5b0b8" stroke-width="1.45"/>
<path d="M372.5,74.83 L379.0,75.15" stroke="#96cdee" stroke-width="1.45"/>
<path d="M379.0,75.15 L385.5,75.47" stroke="#f5b0b8" stroke-width="1.45"/>
<path d="M385.5,75.47 L392.0,75.80" stroke="#96cdee" stroke-width="1.45"/>
<path d="M392.0,75.80 L396.0,76.00" stroke="#f5b0b8" stroke-width="1.45"/>
<path d="M400.0,79.00 L406.5,79.13" stroke="#96cdee" stroke-width="1.45"/>
<path d="M406.5,79.13 L413.0,79.26" stroke="#f5b0b8" stroke-width="1.45"/>
<path d="M413.0,79.26 L419.5,79.39" stroke="#96cdee" stroke-width="1.45"/>
<path d="M419.5,79.39 L426.0,79.52" stroke="#f5b0b8" stroke-width="1.45"/>
<path d="M426.0,79.52 L432.5,79.65" stroke="#96cdee" stroke-width="1.45"/>
<path d="M432.5,79.65 L439.0,79.78" stroke="#f5b0b8" stroke-width="1.45"/>
<path d="M439.0,79.78 L445.5,79.91" stroke="#96cdee" stroke-width="1.45"/>
<path d="M445.5,79.91 L452.0,80.04" stroke="#f5b0b8" stroke-width="1.45"/>
<path d="M452.0,80.04 L458.5,80.17" stroke="#96cdee" stroke-width="1.45"/>
<path d="M458.5,80.17 L462.0,80.24" stroke="#f5b0b8" stroke-width="1.45"/>
<path d="M366.0,83.50 L372.5,83.69" stroke="#f5b0b8" stroke-width="1.45"/>
<path d="M372.5,83.69 L379.0,83.89" stroke="#96cdee" stroke-width="1.45"/>
<path d="M379.0,83.89 L385.5,84.08" stroke="#f5b0b8" stroke-width="1.45"/>
<path d="M385.5,84.08 L392.0,84.28" stroke="#96cdee" stroke-width="1.45"/>
<path d="M392.0,84.28 L398.5,84.47" stroke="#f5b0b8" stroke-width="1.45"/>
<path d="M398.5,84.47 L405.0,84.67" stroke="#96cdee" stroke-width="1.45"/>
<path d="M405.0,84.67 L411.5,84.86" stroke="#f5b0b8" stroke-width="1.45"/>
<path d="M411.5,84.86 L418.0,85.06" stroke="#96cdee" stroke-width="1.45"/>
<path d="M418.0,85.06 L424.5,85.25" stroke="#f5b0b8" stroke-width="1.45"/>
<path d="M424.5,85.25 L431.0,85.45" stroke="#96cdee" stroke-width="1.45"/>
<path d="M431.0,85.45 L437.5,85.64" stroke="#f5b0b8" stroke-width="1.45"/>
<path d="M437.5,85.64 L444.0,85.84" stroke="#96cdee" stroke-width="1.45"/>
<path d="M444.0,85.84 L450.5,86.03" stroke="#f5b0b8" stroke-width="1.45"/>
<path d="M450.5,86.03 L457.0,86.23" stroke="#96cdee" stroke-width="1.45"/>
<path d="M457.0,86.23 L462.0,86.38" stroke="#f5b0b8" stroke-width="1.45"/>
<path d="M366.0,88.00 L372.5,88.13" stroke="#96cdee" stroke-width="1.45"/>
<path d="M372.5,88.13 L379.0,88.26" stroke="#f5b0b8" stroke-width="1.45"/>
<path d="M379.0,88.26 L385.5,88.39" stroke="#96cdee" stroke-width="1.45"/>
<path d="M385.5,88.39 L392.0,88.52" stroke="#f5b0b8" stroke-width="1.45"/>
<path d="M392.0,88.52 L398.5,88.65" stroke="#96cdee" stroke-width="1.45"/>
<path d="M398.5,88.65 L405.0,88.78" stroke="#f5b0b8" stroke-width="1.45"/>
<path d="M405.0,88.78 L411.5,88.91" stroke="#96cdee" stroke-width="1.45"/>
<path d="M411.5,88.91 L418.0,89.04" stroke="#f5b0b8" stroke-width="1.45"/>
<path d="M418.0,89.04 L424.5,89.17" stroke="#96cdee" stroke-width="1.45"/>
<path d="M424.5,89.17 L431.0,89.30" stroke="#f5b0b8" stroke-width="1.45"/>
<path d="M431.0,89.30 L437.5,89.43" stroke="#96cdee" stroke-width="1.45"/>
<path d="M437.5,89.43 L444.0,89.56" stroke="#f5b0b8" stroke-width="1.45"/>
<path d="M444.0,89.56 L450.5,89.69" stroke="#96cdee" stroke-width="1.45"/>
<path d="M450.5,89.69 L457.0,89.82" stroke="#f5b0b8" stroke-width="1.45"/>
<path d="M457.0,89.82 L462.0,89.92" stroke="#96cdee" stroke-width="1.45"/>
<path d="M366.0,92.50 L372.5,92.63" stroke="#f5b0b8" stroke-width="1.45"/>
<path d="M372.5,92.63 L379.0,92.76" stroke="#96cdee" stroke-width="1.45"/>
<path d="M379.0,92.76 L385.5,92.89" stroke="#f5b0b8" stroke-width="1.45"/>
<path d="M385.5,92.89 L392.0,93.02" stroke="#96cdee" stroke-width="1.45"/>
<path d="M392.0,93.02 L398.5,93.15" stroke="#f5b0b8" stroke-width="1.45"/>
<path d="M398.5,93.15 L405.0,93.28" stroke="#96cdee" stroke-width="1.45"/>
<path d="M405.0,93.28 L411.5,93.41" stroke="#f5b0b8" stroke-width="1.45"/>
<path d="M411.5,93.41 L418.0,93.54" stroke="#96cdee" stroke-width="1.45"/>
<path d="M418.0,93.54 L424.5,93.67" stroke="#f5b0b8" stroke-width="1.45"/>
<path d="M424.5,93.67 L431.0,93.80" stroke="#96cdee" stroke-width="1.45"/>
<path d="M431.0,93.80 L437.5,93.93" stroke="#f5b0b8" stroke-width="1.45"/>
<path d="M437.5,93.93 L444.0,94.06" stroke="#96cdee" stroke-width="1.45"/>
<path d="M444.0,94.06 L450.5,94.19" stroke="#f5b0b8" stroke-width="1.45"/>
<path d="M450.5,94.19 L457.0,94.32" stroke="#96cdee" stroke-width="1.45"/>
<path d="M457.0,94.32 L462.0,94.42" stroke="#f5b0b8" stroke-width="1.45"/>
<path d="M366.0,97.00 L372.5,97.13" stroke="#96cdee" stroke-width="1.45"/>
<path d="M372.5,97.13 L379.0,97.26" stroke="#f5b0b8" stroke-width="1.45"/>
<path d="M379.0,97.26 L385.5,97.39" stroke="#96cdee" stroke-width="1.45"/>
<path d="M385.5,97.39 L392.0,97.52" stroke="#f5b0b8" stroke-width="1.45"/>
<path d="M392.0,97.52 L398.5,97.65" stroke="#96cdee" stroke-width="1.45"/>
<path d="M398.5,97.65 L405.0,97.78" stroke="#f5b0b8" stroke-width="1.45"/>
<path d="M405.0,97.78 L411.5,97.91" stroke="#96cdee" stroke-width="1.45"/>
<path d="M411.5,97.91 L418.0,98.04" stroke="#f5b0b8" stroke-width="1.45"/>
<path d="M418.0,98.04 L424.5,98.17" stroke="#96cdee" stroke-width="1.45"/>
<path d="M424.5,98.17 L431.0,98.30" stroke="#f5b0b8" stroke-width="1.45"/>
<path d="M431.0,98.30 L437.5,98.43" stroke="#96cdee" stroke-width="1.45"/>
<path d="M437.5,98.43 L444.0,98.56" stroke="#f5b0b8" stroke-width="1.45"/>
<path d="M444.0,98.56 L450.5,98.69" stroke="#96cdee" stroke-width="1.45"/>
<path d="M450.5,98.69 L457.0,98.82" stroke="#f5b0b8" stroke-width="1.45"/>
<path d="M457.0,98.82 L462.0,98.92" stroke="#96cdee" stroke-width="1.45"/>
<path d="M366.0,101.50 L372.5,101.63" stroke="#f5b0b8" stroke-width="1.45"/>
<path d="M372.5,101.63 L379.0,101.76" stroke="#96cdee" stroke-width="1.45"/>
<path d="M379.0,101.76 L385.5,101.89" stroke="#f5b0b8" stroke-width="1.45"/>
<path d="M385.5,101.89 L392.0,102.02" stroke="#96cdee" stroke-width="1.45"/>
<path d="M392.0,102.02 L398.5,102.15" stroke="#f5b0b8" stroke-width="1.45"/>
<path d="M398.5,102.15 L405.0,102.28" stroke="#96cdee" stroke-width="1.45"/>
<path d="M405.0,102.28 L411.5,102.41" stroke="#f5b0b8" stroke-width="1.45"/>
<path d="M411.5,102.41 L418.0,102.54" stroke="#96cdee" stroke-width="1.45"/>
<path d="M418.0,102.54 L424.5,102.67" stroke="#f5b0b8" stroke-width="1.45"/>
<path d="M424.5,102.67 L431.0,102.80" stroke="#96cdee" stroke-width="1.45"/>
<path d="M431.0,102.80 L437.5,102.93" stroke="#f5b0b8" stroke-width="1.45"/>
<path d="M437.5,102.93 L444.0,103.06" stroke="#96cdee" stroke-width="1.45"/>
<path d="M444.0,103.06 L450.5,103.19" stroke="#f5b0b8" stroke-width="1.45"/>
<path d="M450.5,103.19 L457.0,103.32" stroke="#96cdee" stroke-width="1.45"/>
<path d="M457.0,103.32 L462.0,103.42" stroke="#f5b0b8" stroke-width="1.45"/>
<path d="M366.0,105.50 L372.5,105.63" stroke="#96cdee" stroke-width="1.45"/>
<path d="M372.5,105.63 L379.0,105.76" stroke="#f5b0b8" stroke-width="1.45"/>
<path d="M379.0,105.76 L385.5,105.89" stroke="#96cdee" stroke-width="1.45"/>
<path d="M385.5,105.89 L392.0,106.02" stroke="#f5b0b8" stroke-width="1.45"/>
<path d="M392.0,106.02 L398.5,106.15" stroke="#96cdee" stroke-width="1.45"/>
<path d="M398.5,106.15 L405.0,106.28" stroke="#f5b0b8" stroke-width="1.45"/>
<path d="M405.0,106.28 L411.5,106.41" stroke="#96cdee" stroke-width="1.45"/>
<path d="M411.5,106.41 L418.0,106.54" stroke="#f5b0b8" stroke-width="1.45"/>
<path d="M418.0,106.54 L424.5,106.67" stroke="#96cdee" stroke-width="1.45"/>
<path d="M424.5,106.67 L431.0,106.80" stroke="#f5b0b8" stroke-width="1.45"/>
<path d="M431.0,106.80 L437.5,106.93" stroke="#96cdee" stroke-width="1.45"/>
<path d="M437.5,106.93 L444.0,107.06" stroke="#f5b0b8" stroke-width="1.45"/>
<path d="M444.0,107.06 L450.5,107.19" stroke="#96cdee" stroke-width="1.45"/>
<path d="M450.5,107.19 L457.0,107.32" stroke="#f5b0b8" stroke-width="1.45"/>
<path d="M457.0,107.32 L462.0,107.42" stroke="#96cdee" stroke-width="1.45"/>
<path d="M366.0,109.50 L372.5,109.63" stroke="#f5b0b8" stroke-width="1.45"/>
<path d="M372.5,109.63 L379.0,109.76" stroke="#96cdee" stroke-width="1.45"/>
<path d="M379.0,109.76 L385.5,109.89" stroke="#f5b0b8" stroke-width="1.45"/>
<path d="M385.5,109.89 L392.0,110.02" stroke="#96cdee" stroke-width="1.45"/>
<path d="M392.0,110.02 L398.5,110.15" stroke="#f5b0b8" stroke-width="1.45"/>
<path d="M398.5,110.15 L405.0,110.28" stroke="#96cdee" stroke-width="1.45"/>
<path d="M405.0,110.28 L411.5,110.41" stroke="#f5b0b8" stroke-width="1.45"/>
<path d="M411.5,110.41 L418.0,110.54" stroke="#96cdee" stroke-width="1.45"/>
<path d="M418.0,110.54 L424.5,110.67" stroke="#f5b0b8" stroke-width="1.45"/>
<path d="M424.5,110.67 L431.0,110.80" stroke="#96cdee" stroke-width="1.45"/>
<path d="M431.0,110.80 L437.5,110.93" stroke="#f5b0b8" stroke-width="1.45"/>
<path d="M437.5,110.93 L444.0,111.06" stroke="#96cdee" stroke-width="1.45"/>
<path d="M444.0,111.06 L450.5,111.19" stroke="#f5b0b8" stroke-width="1.45"/>
<path d="M450.5,111.19 L457.0,111.32" stroke="#96cdee" stroke-width="1.45"/>
<path d="M457.0,111.32 L462.0,111.42" stroke="#f5b0b8" stroke-width="1.45"/>
<path d="M366.0,113.50 L372.5,113.63" stroke="#96cdee" stroke-width="1.45"/>
<path d="M372.5,113.63 L379.0,113.76" stroke="#f5b0b8" stroke-width="1.45"/>
<path d="M379.0,113.76 L385.5,113.89" stroke="#96cdee" stroke-width="1.45"/>
<path d="M385.5,113.89 L392.0,114.02" stroke="#f5b0b8" stroke-width="1.45"/>
<path d="M392.0,114.02 L398.5,114.15" stroke="#96cdee" stroke-width="1.45"/>
<path d="M398.5,114.15 L405.0,114.28" stroke="#f5b0b8" stroke-width="1.45"/>
<path d="M405.0,114.28 L411.5,114.41" stroke="#96cdee" stroke-width="1.45"/>
<path d="M411.5,114.41 L418.0,114.54" stroke="#f5b0b8" stroke-width="1.45"/>
<path d="M418.0,114.54 L424.5,114.67" stroke="#96cdee" stroke-width="1.45"/>
<path d="M424.5,114.67 L431.0,114.80" stroke="#f5b0b8" stroke-width="1.45"/>
<path d="M431.0,114.80 L437.5,114.93" stroke="#96cdee" stroke-width="1.45"/>
<path d="M437.5,114.93 L444.0,115.06" stroke="#f5b0b8" stroke-width="1.45"/>
<path d="M444.0,115.06 L450.5,115.19" stroke="#96cdee" stroke-width="1.45"/>
<path d="M450.5,115.19 L457.0,115.32" stroke="#f5b0b8" stroke-width="1.45"/>
<path d="M457.0,115.32 L462.0,115.42" stroke="#96cdee" stroke-width="1.45"/>
<path d="M366.0,117.50 L372.5,117.63" stroke="#f5b0b8" stroke-width="1.45"/>
<path d="M372.5,117.63 L379.0,117.76" stroke="#96cdee" stroke-width="1.45"/>
<path d="M379.0,117.76 L385.5,117.89" stroke="#f5b0b8" stroke-width="1.45"/>
<path d="M385.5,117.89 L392.0,118.02" stroke="#96cdee" stroke-width="1.45"/>
<path d="M392.0,118.02 L398.5,118.15" stroke="#f5b0b8" stroke-width="1.45"/>
<path d="M398.5,118.15 L405.0,118.28" stroke="#96cdee" stroke-width="1.45"/>
<path d="M405.0,118.28 L411.5,118.41" stroke="#f5b0b8" stroke-width="1.45"/>
<path d="M411.5,118.41 L418.0,118.54" stroke="#96cdee" stroke-width="1.45"/>
<path d="M418.0,118.54 L424.5,118.67" stroke="#f5b0b8" stroke-width="1.45"/>
<path d="M424.5,118.67 L431.0,118.80" stroke="#96cdee" stroke-width="1.45"/>
<path d="M431.0,118.80 L437.5,118.93" stroke="#f5b0b8" stroke-width="1.45"/>
<path d="M437.5,118.93 L444.0,119.06" stroke="#96cdee" stroke-width="1.45"/>
<path d="M444.0,119.06 L450.5,119.19" stroke="#f5b0b8" stroke-width="1.45"/>
<path d="M450.5,119.19 L457.0,119.32" stroke="#96cdee" stroke-width="1.45"/>
<path d="M457.0,119.32 L462.0,119.42" stroke="#f5b0b8" stroke-width="1.45"/>
<path d="M377,74 L375.0,78.0" stroke="#8cc8ec" stroke-width="1.5"/><path d="M375.0,78.0 L373,82" stroke="#f4a8b0" stroke-width="1.5"/>
<path d="M391,65 L393.0,69.0" stroke="#8cc8ec" stroke-width="1.5"/><path d="M393.0,69.0 L395,73" stroke="#f4a8b0" stroke-width="1.5"/>
<path d="M395,73 L392.5,77.5" stroke="#8cc8ec" stroke-width="1.5"/><path d="M392.5,77.5 L390,82" stroke="#f4a8b0" stroke-width="1.5"/>
<path d="M390,82 L391.5,87.5" stroke="#8cc8ec" stroke-width="1.5"/><path d="M391.5,87.5 L393,93" stroke="#f4a8b0" stroke-width="1.5"/>
<path d="M393,93 L395.0,94.5" stroke="#8cc8ec" stroke-width="1.5"/><path d="M395.0,94.5 L397,96" stroke="#f4a8b0" stroke-width="1.5"/>
<path d="M397,89 L395.0,91.0" stroke="#8cc8ec" stroke-width="1.5"/><path d="M395.0,91.0 L393,93" stroke="#f4a8b0" stroke-width="1.5"/>
<path d="M374,92 L373.5,87.0" stroke="#8cc8ec" stroke-width="1.5"/><path d="M373.5,87.0 L373,82" stroke="#f4a8b0" stroke-width="1.5"/>
<path d="M388,100 L390.0,104.5" stroke="#8cc8ec" stroke-width="1.5"/><path d="M390.0,104.5 L392,109" stroke="#f4a8b0" stroke-width="1.5"/>
<path d="M419,86 L417.0,92.0" stroke="#8cc8ec" stroke-width="1.5"/><path d="M417.0,92.0 L415,98" stroke="#f4a8b0" stroke-width="1.5"/>
<path d="M415,98 L417.0,102.0" stroke="#8cc8ec" stroke-width="1.5"/><path d="M417.0,102.0 L419,106" stroke="#f4a8b0" stroke-width="1.5"/>
<path d="M419,106 L417.0,108.0" stroke="#8cc8ec" stroke-width="1.5"/><path d="M417.0,108.0 L415,110" stroke="#f4a8b0" stroke-width="1.5"/>
<path d="M412,112 L415.0,114.0" stroke="#8cc8ec" stroke-width="1.5"/><path d="M415.0,114.0 L418,116" stroke="#f4a8b0" stroke-width="1.5"/>
<path d="M436,94 L437.5,90.5" stroke="#8cc8ec" stroke-width="1.5"/><path d="M437.5,90.5 L439,87" stroke="#f4a8b0" stroke-width="1.5"/>
<path d="M440,102 L437.5,100.0" stroke="#8cc8ec" stroke-width="1.5"/><path d="M437.5,100.0 L435,98" stroke="#f4a8b0" stroke-width="1.5"/>
<path d="M432,107 L433.5,102.5" stroke="#8cc8ec" stroke-width="1.5"/><path d="M433.5,102.5 L435,98" stroke="#f4a8b0" stroke-width="1.5"/>
<path d="M454,69 L455.5,75.5" stroke="#8cc8ec" stroke-width="1.5"/><path d="M455.5,75.5 L457,82" stroke="#f4a8b0" stroke-width="1.5"/>
<path d="M453,88 L455.0,85.0" stroke="#8cc8ec" stroke-width="1.5"/><path d="M455.0,85.0 L457,82" stroke="#f4a8b0" stroke-width="1.5"/>
<path d="M439,69 L446.5,69.0" stroke="#8cc8ec" stroke-width="1.5"/><path d="M446.5,69.0 L454,69" stroke="#f4a8b0" stroke-width="1.5"/>
<path d="M388,100 L390.5,96.5" stroke="#8cc8ec" stroke-width="1.5"/><path d="M390.5,96.5 L393,93" stroke="#f4a8b0" stroke-width="1.5"/>
<circle cx="394.9" cy="73.4" r="5.2" fill="url(#ti)"/>
<circle cx="373" cy="82.6" r="4.6" fill="url(#ti)"/>
<circle cx="392.7" cy="92.8" r="5.1" fill="url(#ti)"/>
<circle cx="414.6" cy="98" r="5.6" fill="url(#ti)"/>
<circle cx="438.7" cy="87" r="5.4" fill="url(#ti)"/>
<circle cx="439.5" cy="68.8" r="4.2" fill="url(#ti)"/>
<circle cx="456.7" cy="81.9" r="4.6" fill="url(#ti)"/>
<circle cx="392.4" cy="109.6" r="5.2" fill="url(#ti)"/>
<circle cx="415.4" cy="110.5" r="4.3" fill="url(#ti)"/>
<circle cx="435" cy="98.5" r="4.6" fill="url(#ti)"/>
<circle cx="370" cy="102" r="4" fill="url(#ti)"/>
<circle cx="455" cy="100" r="4.2" fill="url(#ti)"/>
<circle cx="404" cy="121" r="4.5" fill="url(#ti)"/>
<circle cx="430" cy="118" r="4.2" fill="url(#ti)"/>
<circle cx="381" cy="117" r="3.8" fill="url(#ti)"/>
<circle cx="391.3" cy="65.1" r="2.2" fill="url(#oxg)"/>
<circle cx="377.4" cy="74.6" r="2.2" fill="url(#oxg)"/>
<circle cx="390.5" cy="81.9" r="2.2" fill="url(#oxg)"/>
<circle cx="397.8" cy="89.2" r="2.2" fill="url(#oxg)"/>
<circle cx="396.4" cy="96.5" r="2.2" fill="url(#oxg)"/>
<circle cx="388.4" cy="100.1" r="2.2" fill="url(#oxg)"/>
<circle cx="374.5" cy="92.1" r="2.2" fill="url(#oxg)"/>
<circle cx="419.7" cy="86.3" r="2.2" fill="url(#oxg)"/>
<circle cx="419" cy="106" r="2.2" fill="url(#oxg)"/>
<circle cx="411.7" cy="111.8" r="2.2" fill="url(#oxg)"/>
<circle cx="418.3" cy="116.2" r="2.2" fill="url(#oxg)"/>
<circle cx="435.8" cy="94.3" r="2.2" fill="url(#oxg)"/>
<circle cx="440.2" cy="102.3" r="2.2" fill="url(#oxg)"/>
<circle cx="432.2" cy="107.4" r="2.2" fill="url(#oxg)"/>
<circle cx="454" cy="68.8" r="2.2" fill="url(#oxg)"/>
<circle cx="452.6" cy="87.7" r="2.2" fill="url(#oxg)"/>
<circle cx="456" cy="108" r="2.2" fill="url(#oxg)"/>
<circle cx="371" cy="111" r="2.2" fill="url(#oxg)"/>
<circle cx="400" cy="114" r="2.2" fill="url(#oxg)"/>
<circle cx="444" cy="114" r="2.2" fill="url(#oxg)"/>
<circle cx="426" cy="121" r="2.2" fill="url(#oxg)"/>
<circle cx="409" cy="103.5" r="2.2" fill="url(#oxg)"/>
<circle cx="462" cy="93" r="2.2" fill="url(#oxg)"/>
<path d="M409,91.5 q5,-3.5 10,0 q-5,2.5 -10,0z" fill="#ee1010"/>
<path d="M431,94 q4,-3 8,0 q-4,2.5 -8,0z" fill="#ee1010"/>
<path d="M395.5,94.5 q3,-2.5 6,0 q-3,2 -6,0z" fill="#ee1010"/>
<path d="M392,62 C389,52 396,44 405,46 C410,41 420,40 426,44 C432,48 431,57 425,60 C422,66 420,72 418,78 C418,85 412,89 405,88 C399,87 398,80 400,75 C393,73 390,68 392,62 Z" fill="#88e4e6" stroke="#5ccfd4" stroke-width="0.8" opacity="0.93"/>
<path d="M397,60 C399,53 410,52 414,56 C417,61 411,66 405,66 C399,66 396,64 397,60 Z" fill="#6ad6da" opacity="0.55"/>
<path d="M411,66 C414,58 425,55 433,59 C440,63 441,72 438,78 C440,84 436,90 428,89 C421,91 414,88 413,82 C409,78 409,71 411,66 Z" fill="#e4e48c" stroke="#c8c664" stroke-width="0.7" opacity="0.8"/>
<path d="M418,70 C422,66 430,68 431,74 C432,80 426,84 421,82 C416,80 415,74 418,70 Z" fill="#d8d67a" opacity="0.5"/>
<ellipse cx="414" cy="42.6" rx="8.6" ry="5" fill="#e8e8a0" stroke="#cfcc70" stroke-width="0.6" opacity="0.9"/>
<path d="M405.8,57.3 L411.3,51.6 L421,44.6" stroke="#e89050" stroke-width="1.3" fill="none"/>
<circle cx="411.3" cy="51.6" r="2" fill="url(#gc)"/>
<circle cx="405.8" cy="57.3" r="1.6" fill="#f09060"/>
<circle cx="421" cy="44.6" r="1.6" fill="#f09060"/>
<circle cx="433.6" cy="56.6" r="2.2" fill="url(#oxg)"/>
<circle cx="394.9" cy="73.4" r="5.2" fill="url(#ti)"/>
<circle cx="414.6" cy="98" r="5.6" fill="url(#ti)"/>
<circle cx="438.7" cy="87" r="5.4" fill="url(#ti)"/>
<circle cx="392.7" cy="92.8" r="5.1" fill="url(#ti)"/>
<circle cx="391.3" cy="65.1" r="2.2" fill="url(#oxg)"/>
<circle cx="397.8" cy="89.2" r="2.2" fill="url(#oxg)"/>
<circle cx="396.4" cy="96.5" r="2.2" fill="url(#oxg)"/>
<circle cx="419.7" cy="86.3" r="2.2" fill="url(#oxg)"/>
<circle cx="435.8" cy="94.3" r="2.2" fill="url(#oxg)"/>
<path d="M409,91.5 q5,-3.5 10,0 q-5,2.5 -10,0z" fill="#ee1010"/>
<path d="M431,94 q4,-3 8,0 q-4,2.5 -8,0z" fill="#ee1010"/>
<path d="M395.5,94.5 q3,-2.5 6,0 q-3,2 -6,0z" fill="#ee1010"/>
</g>
<circle cx="414.3" cy="74" r="45.8" fill="none" stroke="url(#c1s)" stroke-width="1.1"/>
<g clip-path="url(#cc2)">
<path d="M548.0,72.00 L554.5,72.13" stroke="#f5b0b8" stroke-width="1.45"/>
<path d="M554.5,72.13 L561.0,72.26" stroke="#96cdee" stroke-width="1.45"/>
<path d="M561.0,72.26 L567.5,72.39" stroke="#f5b0b8" stroke-width="1.45"/>
<path d="M567.5,72.39 L574.0,72.52" stroke="#96cdee" stroke-width="1.45"/>
<path d="M574.0,72.52 L580.5,72.65" stroke="#f5b0b8" stroke-width="1.45"/>
<path d="M580.5,72.65 L587.0,72.78" stroke="#96cdee" stroke-width="1.45"/>
<path d="M587.0,72.78 L593.5,72.91" stroke="#f5b0b8" stroke-width="1.45"/>
<path d="M593.5,72.91 L600.0,73.04" stroke="#96cdee" stroke-width="1.45"/>
<path d="M600.0,73.04 L604.0,73.12" stroke="#f5b0b8" stroke-width="1.45"/>
<path d="M513.0,79.50 L519.5,79.63" stroke="#96cdee" stroke-width="1.45"/>
<path d="M519.5,79.63 L526.0,79.76" stroke="#f5b0b8" stroke-width="1.45"/>
<path d="M526.0,79.76 L532.5,79.89" stroke="#96cdee" stroke-width="1.45"/>
<path d="M532.5,79.89 L539.0,80.02" stroke="#f5b0b8" stroke-width="1.45"/>
<path d="M539.0,80.02 L545.5,80.15" stroke="#96cdee" stroke-width="1.45"/>
<path d="M545.5,80.15 L552.0,80.28" stroke="#f5b0b8" stroke-width="1.45"/>
<path d="M552.0,80.28 L558.5,80.41" stroke="#96cdee" stroke-width="1.45"/>
<path d="M558.5,80.41 L565.0,80.54" stroke="#f5b0b8" stroke-width="1.45"/>
<path d="M565.0,80.54 L571.5,80.67" stroke="#96cdee" stroke-width="1.45"/>
<path d="M571.5,80.67 L578.0,80.80" stroke="#f5b0b8" stroke-width="1.45"/>
<path d="M578.0,80.80 L584.5,80.93" stroke="#96cdee" stroke-width="1.45"/>
<path d="M584.5,80.93 L591.0,81.06" stroke="#f5b0b8" stroke-width="1.45"/>
<path d="M591.0,81.06 L597.5,81.19" stroke="#96cdee" stroke-width="1.45"/>
<path d="M597.5,81.19 L604.0,81.32" stroke="#f5b0b8" stroke-width="1.45"/>
<path d="M513.0,86.50 L519.5,86.63" stroke="#f5b0b8" stroke-width="1.45"/>
<path d="M519.5,86.63 L526.0,86.76" stroke="#96cdee" stroke-width="1.45"/>
<path d="M526.0,86.76 L532.5,86.89" stroke="#f5b0b8" stroke-width="1.45"/>
<path d="M532.5,86.89 L539.0,87.02" stroke="#96cdee" stroke-width="1.45"/>
<path d="M539.0,87.02 L545.5,87.15" stroke="#f5b0b8" stroke-width="1.45"/>
<path d="M545.5,87.15 L552.0,87.28" stroke="#96cdee" stroke-width="1.45"/>
<path d="M552.0,87.28 L558.5,87.41" stroke="#f5b0b8" stroke-width="1.45"/>
<path d="M558.5,87.41 L565.0,87.54" stroke="#96cdee" stroke-width="1.45"/>
<path d="M565.0,87.54 L571.5,87.67" stroke="#f5b0b8" stroke-width="1.45"/>
<path d="M571.5,87.67 L578.0,87.80" stroke="#96cdee" stroke-width="1.45"/>
<path d="M578.0,87.80 L584.5,87.93" stroke="#f5b0b8" stroke-width="1.45"/>
<path d="M584.5,87.93 L591.0,88.06" stroke="#96cdee" stroke-width="1.45"/>
<path d="M591.0,88.06 L597.5,88.19" stroke="#f5b0b8" stroke-width="1.45"/>
<path d="M597.5,88.19 L604.0,88.32" stroke="#96cdee" stroke-width="1.45"/>
<path d="M513.0,92.00 L519.5,92.13" stroke="#96cdee" stroke-width="1.45"/>
<path d="M519.5,92.13 L526.0,92.26" stroke="#f5b0b8" stroke-width="1.45"/>
<path d="M526.0,92.26 L532.5,92.39" stroke="#96cdee" stroke-width="1.45"/>
<path d="M532.5,92.39 L539.0,92.52" stroke="#f5b0b8" stroke-width="1.45"/>
<path d="M539.0,92.52 L545.5,92.65" stroke="#96cdee" stroke-width="1.45"/>
<path d="M545.5,92.65 L552.0,92.78" stroke="#f5b0b8" stroke-width="1.45"/>
<path d="M552.0,92.78 L558.5,92.91" stroke="#96cdee" stroke-width="1.45"/>
<path d="M558.5,92.91 L565.0,93.04" stroke="#f5b0b8" stroke-width="1.45"/>
<path d="M565.0,93.04 L571.5,93.17" stroke="#96cdee" stroke-width="1.45"/>
<path d="M571.5,93.17 L578.0,93.30" stroke="#f5b0b8" stroke-width="1.45"/>
<path d="M578.0,93.30 L584.5,93.43" stroke="#96cdee" stroke-width="1.45"/>
<path d="M584.5,93.43 L591.0,93.56" stroke="#f5b0b8" stroke-width="1.45"/>
<path d="M591.0,93.56 L597.5,93.69" stroke="#96cdee" stroke-width="1.45"/>
<path d="M597.5,93.69 L604.0,93.82" stroke="#f5b0b8" stroke-width="1.45"/>
<path d="M513.0,97.00 L519.5,97.13" stroke="#f5b0b8" stroke-width="1.45"/>
<path d="M519.5,97.13 L526.0,97.26" stroke="#96cdee" stroke-width="1.45"/>
<path d="M526.0,97.26 L532.5,97.39" stroke="#f5b0b8" stroke-width="1.45"/>
<path d="M532.5,97.39 L539.0,97.52" stroke="#96cdee" stroke-width="1.45"/>
<path d="M539.0,97.52 L545.5,97.65" stroke="#f5b0b8" stroke-width="1.45"/>
<path d="M545.5,97.65 L552.0,97.78" stroke="#96cdee" stroke-width="1.45"/>
<path d="M552.0,97.78 L558.5,97.91" stroke="#f5b0b8" stroke-width="1.45"/>
<path d="M558.5,97.91 L565.0,98.04" stroke="#96cdee" stroke-width="1.45"/>
<path d="M565.0,98.04 L571.5,98.17" stroke="#f5b0b8" stroke-width="1.45"/>
<path d="M571.5,98.17 L578.0,98.30" stroke="#96cdee" stroke-width="1.45"/>
<path d="M578.0,98.30 L584.5,98.43" stroke="#f5b0b8" stroke-width="1.45"/>
<path d="M584.5,98.43 L591.0,98.56" stroke="#96cdee" stroke-width="1.45"/>
<path d="M591.0,98.56 L597.5,98.69" stroke="#f5b0b8" stroke-width="1.45"/>
<path d="M597.5,98.69 L604.0,98.82" stroke="#96cdee" stroke-width="1.45"/>
<path d="M513.0,101.50 L519.5,101.63" stroke="#96cdee" stroke-width="1.45"/>
<path d="M519.5,101.63 L526.0,101.76" stroke="#f5b0b8" stroke-width="1.45"/>
<path d="M526.0,101.76 L532.5,101.89" stroke="#96cdee" stroke-width="1.45"/>
<path d="M532.5,101.89 L539.0,102.02" stroke="#f5b0b8" stroke-width="1.45"/>
<path d="M539.0,102.02 L545.5,102.15" stroke="#96cdee" stroke-width="1.45"/>
<path d="M545.5,102.15 L552.0,102.28" stroke="#f5b0b8" stroke-width="1.45"/>
<path d="M552.0,102.28 L558.5,102.41" stroke="#96cdee" stroke-width="1.45"/>
<path d="M558.5,102.41 L565.0,102.54" stroke="#f5b0b8" stroke-width="1.45"/>
<path d="M565.0,102.54 L571.5,102.67" stroke="#96cdee" stroke-width="1.45"/>
<path d="M571.5,102.67 L578.0,102.80" stroke="#f5b0b8" stroke-width="1.45"/>
<path d="M578.0,102.80 L584.5,102.93" stroke="#96cdee" stroke-width="1.45"/>
<path d="M584.5,102.93 L591.0,103.06" stroke="#f5b0b8" stroke-width="1.45"/>
<path d="M591.0,103.06 L597.5,103.19" stroke="#96cdee" stroke-width="1.45"/>
<path d="M597.5,103.19 L604.0,103.32" stroke="#f5b0b8" stroke-width="1.45"/>
<path d="M513.0,106.00 L519.5,106.13" stroke="#f5b0b8" stroke-width="1.45"/>
<path d="M519.5,106.13 L526.0,106.26" stroke="#96cdee" stroke-width="1.45"/>
<path d="M526.0,106.26 L532.5,106.39" stroke="#f5b0b8" stroke-width="1.45"/>
<path d="M532.5,106.39 L539.0,106.52" stroke="#96cdee" stroke-width="1.45"/>
<path d="M539.0,106.52 L545.5,106.65" stroke="#f5b0b8" stroke-width="1.45"/>
<path d="M545.5,106.65 L552.0,106.78" stroke="#96cdee" stroke-width="1.45"/>
<path d="M552.0,106.78 L558.5,106.91" stroke="#f5b0b8" stroke-width="1.45"/>
<path d="M558.5,106.91 L565.0,107.04" stroke="#96cdee" stroke-width="1.45"/>
<path d="M565.0,107.04 L571.5,107.17" stroke="#f5b0b8" stroke-width="1.45"/>
<path d="M571.5,107.17 L578.0,107.30" stroke="#96cdee" stroke-width="1.45"/>
<path d="M578.0,107.30 L584.5,107.43" stroke="#f5b0b8" stroke-width="1.45"/>
<path d="M584.5,107.43 L591.0,107.56" stroke="#96cdee" stroke-width="1.45"/>
<path d="M591.0,107.56 L597.5,107.69" stroke="#f5b0b8" stroke-width="1.45"/>
<path d="M597.5,107.69 L604.0,107.82" stroke="#96cdee" stroke-width="1.45"/>
<path d="M513.0,110.50 L519.5,110.63" stroke="#96cdee" stroke-width="1.45"/>
<path d="M519.5,110.63 L526.0,110.76" stroke="#f5b0b8" stroke-width="1.45"/>
<path d="M526.0,110.76 L532.5,110.89" stroke="#96cdee" stroke-width="1.45"/>
<path d="M532.5,110.89 L539.0,111.02" stroke="#f5b0b8" stroke-width="1.45"/>
<path d="M539.0,111.02 L545.5,111.15" stroke="#96cdee" stroke-width="1.45"/>
<path d="M545.5,111.15 L552.0,111.28" stroke="#f5b0b8" stroke-width="1.45"/>
<path d="M552.0,111.28 L558.5,111.41" stroke="#96cdee" stroke-width="1.45"/>
<path d="M558.5,111.41 L565.0,111.54" stroke="#f5b0b8" stroke-width="1.45"/>
<path d="M565.0,111.54 L571.5,111.67" stroke="#96cdee" stroke-width="1.45"/>
<path d="M571.5,111.67 L578.0,111.80" stroke="#f5b0b8" stroke-width="1.45"/>
<path d="M578.0,111.80 L584.5,111.93" stroke="#96cdee" stroke-width="1.45"/>
<path d="M584.5,111.93 L591.0,112.06" stroke="#f5b0b8" stroke-width="1.45"/>
<path d="M591.0,112.06 L597.5,112.19" stroke="#96cdee" stroke-width="1.45"/>
<path d="M597.5,112.19 L604.0,112.32" stroke="#f5b0b8" stroke-width="1.45"/>
<path d="M513.0,115.00 L519.5,115.13" stroke="#f5b0b8" stroke-width="1.45"/>
<path d="M519.5,115.13 L526.0,115.26" stroke="#96cdee" stroke-width="1.45"/>
<path d="M526.0,115.26 L532.5,115.39" stroke="#f5b0b8" stroke-width="1.45"/>
<path d="M532.5,115.39 L539.0,115.52" stroke="#96cdee" stroke-width="1.45"/>
<path d="M539.0,115.52 L545.5,115.65" stroke="#f5b0b8" stroke-width="1.45"/>
<path d="M545.5,115.65 L552.0,115.78" stroke="#96cdee" stroke-width="1.45"/>
<path d="M552.0,115.78 L558.5,115.91" stroke="#f5b0b8" stroke-width="1.45"/>
<path d="M558.5,115.91 L565.0,116.04" stroke="#96cdee" stroke-width="1.45"/>
<path d="M565.0,116.04 L571.5,116.17" stroke="#f5b0b8" stroke-width="1.45"/>
<path d="M571.5,116.17 L578.0,116.30" stroke="#96cdee" stroke-width="1.45"/>
<path d="M578.0,116.30 L584.5,116.43" stroke="#f5b0b8" stroke-width="1.45"/>
<path d="M584.5,116.43 L591.0,116.56" stroke="#96cdee" stroke-width="1.45"/>
<path d="M591.0,116.56 L597.5,116.69" stroke="#f5b0b8" stroke-width="1.45"/>
<path d="M597.5,116.69 L604.0,116.82" stroke="#96cdee" stroke-width="1.45"/>
<path d="M513.0,119.00 L519.5,119.13" stroke="#96cdee" stroke-width="1.45"/>
<path d="M519.5,119.13 L526.0,119.26" stroke="#f5b0b8" stroke-width="1.45"/>
<path d="M526.0,119.26 L532.5,119.39" stroke="#96cdee" stroke-width="1.45"/>
<path d="M532.5,119.39 L539.0,119.52" stroke="#f5b0b8" stroke-width="1.45"/>
<path d="M539.0,119.52 L545.5,119.65" stroke="#96cdee" stroke-width="1.45"/>
<path d="M545.5,119.65 L552.0,119.78" stroke="#f5b0b8" stroke-width="1.45"/>
<path d="M552.0,119.78 L558.5,119.91" stroke="#96cdee" stroke-width="1.45"/>
<path d="M558.5,119.91 L565.0,120.04" stroke="#f5b0b8" stroke-width="1.45"/>
<path d="M565.0,120.04 L571.5,120.17" stroke="#96cdee" stroke-width="1.45"/>
<path d="M571.5,120.17 L578.0,120.30" stroke="#f5b0b8" stroke-width="1.45"/>
<path d="M578.0,120.30 L584.5,120.43" stroke="#96cdee" stroke-width="1.45"/>
<path d="M584.5,120.43 L591.0,120.56" stroke="#f5b0b8" stroke-width="1.45"/>
<path d="M591.0,120.56 L597.5,120.69" stroke="#96cdee" stroke-width="1.45"/>
<path d="M597.5,120.69 L604.0,120.82" stroke="#f5b0b8" stroke-width="1.45"/>
<path d="M541,70.5 L539.0,78.0" stroke="#8cc8ec" stroke-width="1.5"/><path d="M539.0,78.0 L537,85.5" stroke="#f4a8b0" stroke-width="1.5"/>
<path d="M533.5,78 L535.2,81.8" stroke="#8cc8ec" stroke-width="1.5"/><path d="M535.2,81.8 L537,85.5" stroke="#f4a8b0" stroke-width="1.5"/>
<path d="M542.3,90 L539.6,87.8" stroke="#8cc8ec" stroke-width="1.5"/><path d="M539.6,87.8 L537,85.5" stroke="#f4a8b0" stroke-width="1.5"/>
<path d="M532,95.5 L534.1,100.0" stroke="#8cc8ec" stroke-width="1.5"/><path d="M534.1,100.0 L536.3,104.5" stroke="#f4a8b0" stroke-width="1.5"/>
<path d="M538,110 L537.1,107.2" stroke="#8cc8ec" stroke-width="1.5"/><path d="M537.1,107.2 L536.3,104.5" stroke="#f4a8b0" stroke-width="1.5"/>
<path d="M563.6,96 L560.9,103.2" stroke="#8cc8ec" stroke-width="1.5"/><path d="M560.9,103.2 L558.2,110.4" stroke="#f4a8b0" stroke-width="1.5"/>
<path d="M580.5,86.6 L582.5,83.5" stroke="#8cc8ec" stroke-width="1.5"/><path d="M582.5,83.5 L584.5,80.4" stroke="#f4a8b0" stroke-width="1.5"/>
<path d="M580.4,67.4 L582.5,73.9" stroke="#8cc8ec" stroke-width="1.5"/><path d="M582.5,73.9 L584.5,80.4" stroke="#f4a8b0" stroke-width="1.5"/>
<path d="M581,108 L582.8,103.7" stroke="#8cc8ec" stroke-width="1.5"/><path d="M582.8,103.7 L584.5,99.4" stroke="#f4a8b0" stroke-width="1.5"/>
<path d="M563.3,116 L560.8,113.2" stroke="#8cc8ec" stroke-width="1.5"/><path d="M560.8,113.2 L558.2,110.4" stroke="#f4a8b0" stroke-width="1.5"/>
<path d="M601.7,79.4 L593.1,79.9" stroke="#8cc8ec" stroke-width="1.5"/><path d="M593.1,79.9 L584.5,80.4" stroke="#f4a8b0" stroke-width="1.5"/>
<path d="M517.5,86.3 L527.2,85.9" stroke="#8cc8ec" stroke-width="1.5"/><path d="M527.2,85.9 L537,85.5" stroke="#f4a8b0" stroke-width="1.5"/>
<path d="M540,87 H582" stroke="#8a70d8" stroke-width="1.6"/>
<circle cx="537" cy="85.5" r="5.1" fill="url(#ti)"/>
<circle cx="584.5" cy="80.4" r="5.6" fill="url(#ti)"/>
<circle cx="536.3" cy="104.5" r="5.6" fill="url(#ti)"/>
<circle cx="558.2" cy="110.4" r="6.1" fill="url(#ti)"/>
<circle cx="584.5" cy="99.4" r="6.1" fill="url(#ti)"/>
<circle cx="558.2" cy="70.2" r="4.2" fill="url(#ti)"/>
<circle cx="520" cy="104" r="3.5" fill="url(#ti)"/>
<circle cx="600" cy="98" r="3.5" fill="url(#ti)"/>
<circle cx="548" cy="122" r="4.5" fill="url(#ti)"/>
<circle cx="572" cy="121" r="4.5" fill="url(#ti)"/>
<circle cx="560.8" cy="87" r="4.3" fill="url(#cug)"/>
<circle cx="541" cy="70.5" r="2.2" fill="url(#oxg)"/>
<circle cx="533.5" cy="78" r="2.2" fill="url(#oxg)"/>
<circle cx="517.5" cy="86.3" r="2.2" fill="url(#oxg)"/>
<circle cx="542.3" cy="90" r="2.2" fill="url(#oxg)"/>
<circle cx="532" cy="95.5" r="2.2" fill="url(#oxg)"/>
<circle cx="538" cy="110" r="2.2" fill="url(#oxg)"/>
<circle cx="563.6" cy="96" r="2.2" fill="url(#oxg)"/>
<circle cx="580.5" cy="86.6" r="2.2" fill="url(#oxg)"/>
<circle cx="580.4" cy="67.4" r="2.2" fill="url(#oxg)"/>
<circle cx="581" cy="108" r="2.2" fill="url(#oxg)"/>
<circle cx="563.3" cy="116" r="2.2" fill="url(#oxg)"/>
<circle cx="601.7" cy="79.4" r="2.2" fill="url(#oxg)"/>
<circle cx="552" cy="60" r="2.2" fill="url(#oxg)"/>
<circle cx="567" cy="100" r="2.2" fill="url(#oxg)"/>
<circle cx="525" cy="114" r="2.2" fill="url(#oxg)"/>
<circle cx="590" cy="114" r="2.2" fill="url(#oxg)"/>
<circle cx="548" cy="118" r="2.2" fill="url(#oxg)"/>
<path d="M577,106 q4,-3 8,0 q-4,2.5 -8,0z" fill="#e01010"/>
<path d="M534,57 C533,51 539,47 546,49 C552,50 556,48 560,46 C564,45 567,48 566,53 C565,58 560,60 557,61 C553,65 545,67 539,65 C535,63 534,60 534,57 Z" fill="#88e4e6" stroke="#5ccfd4" stroke-width="0.7" opacity="0.95"/>
<path d="M538,44 C536,37 545,33 553,34 C560,35 563,41 561,46 C559,50 550,51 544,50 C540,49 538,47 538,44 Z" fill="#ebe99a" stroke="#d2ce70" stroke-width="0.7" opacity="0.95"/>
<path d="M567,43 C566,37 571,35 575,36 C580,37 582,43 581,49 C579,54 572,55 569,51 C567,49 567,46 567,43 Z" fill="#ebe99a" stroke="#d2ce70" stroke-width="0.7" opacity="0.95"/>
<path d="M551,72 C550,67 556,64 562,65 C568,66 571,72 570,78 C571,85 568,92 562,93 C556,94 552,90 552,84 C550,80 550,76 551,72 Z" fill="#e4e38a" stroke="#ccc866" stroke-width="0.6" opacity="0.82"/>
<path d="M546,49.7 L558.6,49 L571.9,48.3" stroke="#e09060" stroke-width="1.2" fill="none"/>
<circle cx="546" cy="49.7" r="1.8" fill="#e8e8e8" stroke="#a0a0a0" stroke-width="0.5"/>
<circle cx="558.6" cy="49" r="2.3" fill="url(#gc)"/>
<circle cx="571.9" cy="48.3" r="1.9" fill="#f0a060"/>
<circle cx="564.2" cy="59.1" r="2.1" fill="url(#oxg)"/>
<circle cx="560.8" cy="87" r="4.3" fill="url(#cug)" opacity="0.85"/>
</g>
<circle cx="558.4" cy="73.2" r="45.3" fill="none" stroke="url(#c2s)" stroke-width="1.1"/>
<text x="373.6" y="134.7" font-size="11" fill="#1a1a1a">ΔE<tspan font-size="6.8" dy="2.6">ad</tspan><tspan dy="-2.6"> = –0.98 eV</tspan></text>
<text x="519.0" y="133.0" font-size="11" fill="#1a1a1a">ΔE<tspan font-size="6.8" dy="2.6">ad</tspan><tspan dy="-2.6"> = –0.04 eV</tspan></text>
<path d="M381.5,193.5 Q382.40,196.97 383.5,199.8 Q384.36,196.34 385.4,193.5 Z" fill="url(#dps)"/>
<path d="M392.6,193.5 Q395.57,201.15 399.2,207.4 Q400.10,199.75 401.2,193.5 Z" fill="url(#dpg)"/>
<path d="M406.0,193.5 Q408.30,216.55 411.1,235.4 Q411.60,212.36 412.2,193.5 Z" fill="url(#dp)"/>
<path d="M434.6,193.5 Q436.81,196.03 439.5,198.1 Q441.70,195.57 444.4,193.5 Z" fill="url(#dps)"/>
<path d="M366,157.2 H480 L456.5,193.8 H342.6 Z" fill="#04f2a0"/>
<g filter="url(#bl)">
<ellipse cx="397" cy="183" rx="14" ry="5" fill="#30ee50" opacity="0.8"/>
<ellipse cx="440" cy="181" rx="14" ry="6" fill="#30ee50" opacity="0.7"/>
</g>
<g filter="url(#bl2)">
<path d="M424.00,186.50 L424.00,180.59 L424.77,180.14 L425.53,179.65 L426.30,179.10 L427.07,178.50 L427.83,177.84 L428.60,177.11 L429.37,176.31 L430.13,175.44 L430.90,174.50 L431.67,173.47 L432.43,172.37 L433.20,171.19 L433.97,169.94 L434.73,168.63 L435.50,167.29 L436.27,165.93 L437.03,164.57 L437.80,163.26 L438.57,162.01 L439.33,160.87 L440.10,159.86 L440.87,159.00 L441.63,158.31 L442.40,157.77 L443.17,157.40 L443.93,157.17 L444.70,157.05 L445.47,157.00 L446.23,157.00 L447.00,157.02 L447.77,157.11 L448.53,157.29 L449.30,157.61 L450.07,158.08 L450.83,158.71 L451.60,159.51 L452.37,160.46 L453.13,161.55 L453.90,162.76 L454.67,164.05 L455.43,165.39 L456.20,166.76 L456.97,168.11 L457.73,169.43 L458.50,170.70 L459.27,171.91 L460.03,173.05 L460.80,174.10 L461.57,175.08 L462.33,175.98 L463.10,176.81 L463.87,177.56 L464.63,178.25 L465.40,178.87 L466.17,179.44 L466.93,179.95 L467.70,180.42 L468.47,180.85 L469.23,181.23 L470.00,181.58 L470.00,186.50 Z" fill="url(#pkc)" opacity="0.95"/>
<path d="M378.00,186.50 L378.00,181.86 L378.47,181.59 L378.93,181.29 L379.40,180.97 L379.87,180.62 L380.33,180.24 L380.80,179.83 L381.27,179.39 L381.73,178.91 L382.20,178.39 L382.67,177.83 L383.13,177.23 L383.60,176.58 L384.07,175.90 L384.53,175.17 L385.00,174.41 L385.47,173.62 L385.93,172.80 L386.40,171.96 L386.87,171.13 L387.33,170.30 L387.80,169.51 L388.27,168.77 L388.73,168.09 L389.20,167.49 L389.67,166.99 L390.13,166.59 L390.60,166.30 L391.07,166.11 L391.53,166.02 L392.00,166.00 L392.47,166.02 L392.93,166.11 L393.40,166.30 L393.87,166.59 L394.33,166.99 L394.80,167.49 L395.27,168.09 L395.73,168.77 L396.20,169.51 L396.67,170.30 L397.13,171.13 L397.60,171.96 L398.07,172.80 L398.53,173.62 L399.00,174.41 L399.47,175.17 L399.93,175.90 L400.40,176.58 L400.87,177.23 L401.33,177.83 L401.80,178.39 L402.27,178.91 L402.73,179.39 L403.20,179.83 L403.67,180.24 L404.13,180.62 L404.60,180.97 L405.07,181.29 L405.53,181.59 L406.00,181.86 L406.00,186.50 Z" fill="url(#pkc)" opacity="0.9"/>
</g>
<path d="M377.00,184.50 L377.00,181.71 L377.37,181.55 L377.73,181.37 L378.10,181.18 L378.47,180.96 L378.83,180.72 L379.20,180.45 L379.57,180.14 L379.93,179.80 L380.30,179.41 L380.67,178.98 L381.03,178.48 L381.40,177.91 L381.77,177.25 L382.13,176.50 L382.50,175.64 L382.87,174.63 L383.23,173.46 L383.60,172.11 L383.97,170.53 L384.33,168.71 L384.70,166.62 L385.07,164.25 L385.43,161.61 L385.80,158.77 L386.17,155.85 L386.53,153.06 L386.90,150.66 L387.27,148.93 L387.63,148.08 L388.00,148.12 L388.37,149.06 L388.73,150.85 L389.10,153.30 L389.47,156.12 L389.83,159.03 L390.20,161.86 L390.57,164.47 L390.93,166.82 L391.30,168.89 L391.67,170.69 L392.03,172.24 L392.40,173.58 L392.77,174.73 L393.13,175.72 L393.50,176.58 L393.87,177.32 L394.23,177.96 L394.60,178.53 L394.97,179.02 L395.33,179.45 L395.70,179.83 L396.07,180.17 L396.43,180.47 L396.80,180.74 L397.17,180.98 L397.53,181.20 L397.90,181.39 L398.27,181.57 L398.63,181.73 L399.00,181.87 L399.00,184.50 Z" fill="url(#pk)" opacity="1"/>
<path d="M395.00,186.50 L395.00,183.90 L395.23,183.77 L395.47,183.62 L395.70,183.45 L395.93,183.27 L396.17,183.08 L396.40,182.86 L396.63,182.61 L396.87,182.34 L397.10,182.03 L397.33,181.69 L397.57,181.30 L397.80,180.86 L398.03,180.37 L398.27,179.80 L398.50,179.16 L398.73,178.42 L398.97,177.58 L399.20,176.61 L399.43,175.50 L399.67,174.23 L399.90,172.78 L400.13,171.14 L400.37,169.32 L400.60,167.34 L400.83,165.26 L401.07,163.17 L401.30,161.23 L401.53,159.64 L401.77,158.57 L402.00,158.20 L402.23,158.57 L402.47,159.64 L402.70,161.23 L402.93,163.17 L403.17,165.26 L403.40,167.34 L403.63,169.32 L403.87,171.14 L404.10,172.78 L404.33,174.23 L404.57,175.50 L404.80,176.61 L405.03,177.58 L405.27,178.42 L405.50,179.16 L405.73,179.80 L405.97,180.37 L406.20,180.86 L406.43,181.30 L406.67,181.69 L406.90,182.03 L407.13,182.34 L407.37,182.61 L407.60,182.86 L407.83,183.08 L408.07,183.27 L408.30,183.45 L408.53,183.62 L408.77,183.77 L409.00,183.90 L409.00,186.50 Z" fill="url(#pk)" opacity="1"/>
<path d="M404.00,187.50 L404.00,182.63 L404.38,182.28 L404.77,181.89 L405.15,181.46 L405.53,180.98 L405.92,180.45 L406.30,179.86 L406.68,179.19 L407.07,178.46 L407.45,177.63 L407.83,176.71 L408.22,175.68 L408.60,174.53 L408.98,173.25 L409.37,171.84 L409.75,170.29 L410.13,168.60 L410.52,166.77 L410.90,164.83 L411.28,162.81 L411.67,160.75 L412.05,158.72 L412.43,156.78 L412.82,155.01 L413.20,153.48 L413.58,152.26 L413.97,151.37 L414.35,150.82 L414.73,150.55 L415.12,150.50 L415.50,150.57 L415.88,150.85 L416.27,151.44 L416.65,152.35 L417.03,153.60 L417.42,155.15 L417.80,156.94 L418.18,158.89 L418.57,160.93 L418.95,162.99 L419.33,165.01 L419.72,166.94 L420.10,168.75 L420.48,170.43 L420.87,171.97 L421.25,173.37 L421.63,174.63 L422.02,175.77 L422.40,176.79 L422.78,177.71 L423.17,178.52 L423.55,179.26 L423.93,179.91 L424.32,180.50 L424.70,181.02 L425.08,181.50 L425.47,181.92 L425.85,182.31 L426.23,182.65 L426.62,182.97 L427.00,183.25 L427.00,187.50 Z" fill="url(#pk)" opacity="1"/>
<path d="M432.00,182.50 L432.00,177.12 L432.45,176.73 L432.90,176.31 L433.35,175.84 L433.80,175.33 L434.25,174.77 L434.70,174.16 L435.15,173.49 L435.60,172.77 L436.05,171.98 L436.50,171.12 L436.95,170.21 L437.40,169.23 L437.85,168.19 L438.30,167.10 L438.75,165.96 L439.20,164.81 L439.65,163.64 L440.10,162.49 L440.55,161.38 L441.00,160.33 L441.45,159.37 L441.90,158.51 L442.35,157.78 L442.80,157.19 L443.25,156.72 L443.70,156.39 L444.15,156.18 L444.60,156.06 L445.05,156.01 L445.50,156.00 L445.95,156.01 L446.40,156.06 L446.85,156.18 L447.30,156.39 L447.75,156.72 L448.20,157.19 L448.65,157.78 L449.10,158.51 L449.55,159.37 L450.00,160.33 L450.45,161.38 L450.90,162.49 L451.35,163.64 L451.80,164.81 L452.25,165.96 L452.70,167.10 L453.15,168.19 L453.60,169.23 L454.05,170.21 L454.50,171.12 L454.95,171.98 L455.40,172.77 L455.85,173.49 L456.30,174.16 L456.75,174.77 L457.20,175.33 L457.65,175.84 L458.10,176.31 L458.55,176.73 L459.00,177.12 L459.00,182.50 Z" fill="url(#pkl)" opacity="0.9"/>
<path d="M431.00,182.50 L431.00,179.09 L431.32,178.92 L431.63,178.73 L431.95,178.53 L432.27,178.30 L432.58,178.05 L432.90,177.78 L433.22,177.48 L433.53,177.14 L433.85,176.77 L434.17,176.36 L434.48,175.89 L434.80,175.37 L435.12,174.79 L435.43,174.13 L435.75,173.38 L436.07,172.53 L436.38,171.56 L436.70,170.46 L437.02,169.20 L437.33,167.76 L437.65,166.12 L437.97,164.26 L438.28,162.17 L438.60,159.84 L438.92,157.32 L439.23,154.67 L439.55,152.02 L439.87,149.57 L440.18,147.59 L440.50,146.35 L440.82,146.19 L441.13,147.18 L441.45,148.99 L441.77,151.35 L442.08,153.97 L442.40,156.63 L442.72,159.20 L443.03,161.58 L443.35,163.73 L443.67,165.65 L443.98,167.35 L444.30,168.84 L444.62,170.14 L444.93,171.28 L445.25,172.29 L445.57,173.16 L445.88,173.94 L446.20,174.62 L446.52,175.22 L446.83,175.76 L447.15,176.24 L447.47,176.67 L447.78,177.05 L448.10,177.39 L448.42,177.70 L448.73,177.98 L449.05,178.24 L449.37,178.47 L449.68,178.68 L450.00,178.87 L450.00,182.50 Z" fill="url(#pk)" opacity="1"/>
<path d="M442.00,182.50 L442.00,178.69 L442.28,178.50 L442.57,178.28 L442.85,178.04 L443.13,177.79 L443.42,177.50 L443.70,177.19 L443.98,176.85 L444.27,176.47 L444.55,176.04 L444.83,175.57 L445.12,175.04 L445.40,174.45 L445.68,173.79 L445.97,173.04 L446.25,172.19 L446.53,171.23 L446.82,170.15 L447.10,168.91 L447.38,167.50 L447.67,165.91 L447.95,164.10 L448.23,162.06 L448.52,159.80 L448.80,157.32 L449.08,154.67 L449.37,151.95 L449.65,149.30 L449.93,146.95 L450.22,145.15 L450.50,144.18 L450.78,144.36 L451.07,145.60 L451.35,147.59 L451.63,150.06 L451.92,152.75 L452.20,155.46 L452.48,158.07 L452.77,160.49 L453.05,162.69 L453.33,164.65 L453.62,166.40 L453.90,167.94 L454.18,169.29 L454.47,170.48 L454.75,171.53 L455.03,172.45 L455.32,173.27 L455.60,173.99 L455.88,174.63 L456.17,175.20 L456.45,175.71 L456.73,176.17 L457.02,176.58 L457.30,176.95 L457.58,177.29 L457.87,177.59 L458.15,177.87 L458.43,178.12 L458.72,178.35 L459.00,178.55 L459.00,182.50 Z" fill="url(#pk)" opacity="1"/>
<path d="M456.00,186.50 L456.00,184.17 L456.23,184.05 L456.47,183.91 L456.70,183.77 L456.93,183.60 L457.17,183.42 L457.40,183.22 L457.63,183.00 L457.87,182.75 L458.10,182.47 L458.33,182.16 L458.57,181.80 L458.80,181.41 L459.03,180.96 L459.27,180.45 L459.50,179.87 L459.73,179.22 L459.97,178.48 L460.20,177.64 L460.43,176.71 L460.67,175.67 L460.90,174.54 L461.13,173.33 L461.37,172.08 L461.60,170.83 L461.83,169.68 L462.07,168.72 L462.30,168.03 L462.53,167.72 L462.77,167.80 L463.00,168.29 L463.23,169.10 L463.47,170.16 L463.70,171.36 L463.93,172.62 L464.17,173.86 L464.40,175.04 L464.63,176.13 L464.87,177.12 L465.10,178.01 L465.33,178.81 L465.57,179.51 L465.80,180.13 L466.03,180.67 L466.27,181.16 L466.50,181.58 L466.73,181.96 L466.97,182.30 L467.20,182.59 L467.43,182.86 L467.67,183.10 L467.90,183.31 L468.13,183.50 L468.37,183.67 L468.60,183.83 L468.83,183.97 L469.07,184.10 L469.30,184.22 L469.53,184.33 L469.77,184.42 L470.00,184.51 L470.00,186.50 Z" fill="url(#pkc)" opacity="1"/>
<g filter="url(#bl)">
<ellipse cx="438" cy="180" rx="9" ry="4" fill="#28f060" opacity="0.8"/>
</g>
<path d="M525.3,191.5 Q527.50,208.94 530.2,223.2 Q531.55,205.76 533.2,191.5 Z" fill="url(#dpy)"/>
<path d="M534.3,191.5 Q537.45,196.50 541.3,200.6 Q543.50,195.59 546.2,191.5 Z" fill="url(#dps)"/>
<path d="M521.7,156 H632.6 L610.6,191.5 H498.2 Z" fill="#04f2a0"/>
<g filter="url(#bl)">
<ellipse cx="550" cy="182" rx="14" ry="6" fill="#30ee50" opacity="0.8"/>
<ellipse cx="592" cy="184" rx="12" ry="5" fill="#30ee50" opacity="0.6"/>
</g>
<g filter="url(#bl2)">
<path d="M512.00,184.50 L512.00,181.83 L512.60,181.64 L513.20,181.42 L513.80,181.18 L514.40,180.91 L515.00,180.60 L515.60,180.26 L516.20,179.86 L516.80,179.42 L517.40,178.91 L518.00,178.34 L518.60,177.68 L519.20,176.94 L519.80,176.09 L520.40,175.14 L521.00,174.06 L521.60,172.87 L522.20,171.55 L522.80,170.12 L523.40,168.61 L524.00,167.06 L524.60,165.52 L525.20,164.07 L525.80,162.77 L526.40,161.70 L527.00,160.89 L527.60,160.36 L528.20,160.09 L528.80,160.00 L529.40,160.01 L530.00,160.15 L530.60,160.51 L531.20,161.13 L531.80,162.03 L532.40,163.18 L533.00,164.54 L533.60,166.03 L534.20,167.58 L534.80,169.12 L535.40,170.61 L536.00,172.00 L536.60,173.28 L537.20,174.43 L537.80,175.47 L538.40,176.39 L539.00,177.20 L539.60,177.91 L540.20,178.54 L540.80,179.09 L541.40,179.57 L542.00,180.00 L542.60,180.38 L543.20,180.71 L543.80,181.00 L544.40,181.26 L545.00,181.49 L545.60,181.70 L546.20,181.89 L546.80,182.05 L547.40,182.20 L548.00,182.33 L548.00,184.50 Z" fill="url(#pkc)" opacity="0.9"/>
<path d="M578.00,184.50 L578.00,180.67 L578.62,180.42 L579.23,180.15 L579.85,179.85 L580.47,179.53 L581.08,179.17 L581.70,178.78 L582.32,178.35 L582.93,177.87 L583.55,177.36 L584.17,176.79 L584.78,176.17 L585.40,175.50 L586.02,174.77 L586.63,173.99 L587.25,173.15 L587.87,172.27 L588.48,171.34 L589.10,170.38 L589.72,169.40 L590.33,168.43 L590.95,167.47 L591.57,166.57 L592.18,165.73 L592.80,164.99 L593.42,164.36 L594.03,163.86 L594.65,163.48 L595.27,163.22 L595.88,163.07 L596.50,163.01 L597.12,163.00 L597.73,163.02 L598.35,163.11 L598.97,163.30 L599.58,163.60 L600.20,164.03 L600.82,164.59 L601.43,165.26 L602.05,166.04 L602.67,166.90 L603.28,167.83 L603.90,168.79 L604.52,169.77 L605.13,170.75 L605.75,171.70 L606.37,172.61 L606.98,173.48 L607.60,174.29 L608.22,175.06 L608.83,175.76 L609.45,176.41 L610.07,177.01 L610.68,177.56 L611.30,178.06 L611.92,178.51 L612.53,178.93 L613.15,179.31 L613.77,179.66 L614.38,179.97 L615.00,180.26 L615.00,184.50 Z" fill="url(#pkc)" opacity="0.7"/>
</g>
<path d="M514.00,182.50 L514.00,179.65 L514.52,179.45 L515.03,179.23 L515.55,178.98 L516.07,178.71 L516.58,178.40 L517.10,178.05 L517.62,177.65 L518.13,177.21 L518.65,176.71 L519.17,176.15 L519.68,175.52 L520.20,174.81 L520.72,174.01 L521.23,173.12 L521.75,172.12 L522.27,171.03 L522.78,169.83 L523.30,168.56 L523.82,167.21 L524.33,165.83 L524.85,164.46 L525.37,163.15 L525.88,161.96 L526.40,160.94 L526.92,160.13 L527.43,159.56 L527.95,159.20 L528.47,159.03 L528.98,159.00 L529.50,159.03 L530.02,159.18 L530.53,159.53 L531.05,160.09 L531.57,160.89 L532.08,161.89 L532.60,163.07 L533.12,164.37 L533.63,165.74 L534.15,167.12 L534.67,168.47 L535.18,169.75 L535.70,170.95 L536.22,172.05 L536.73,173.05 L537.25,173.95 L537.77,174.76 L538.28,175.48 L538.80,176.11 L539.32,176.68 L539.83,177.18 L540.35,177.63 L540.87,178.02 L541.38,178.37 L541.90,178.69 L542.42,178.97 L542.93,179.22 L543.45,179.44 L543.97,179.64 L544.48,179.82 L545.00,179.98 L545.00,182.50 Z" fill="url(#pkl)" opacity="0.9"/>
<path d="M516.00,180.50 L516.00,178.12 L516.33,177.99 L516.67,177.85 L517.00,177.69 L517.33,177.51 L517.67,177.31 L518.00,177.10 L518.33,176.85 L518.67,176.58 L519.00,176.28 L519.33,175.94 L519.67,175.56 L520.00,175.13 L520.33,174.65 L520.67,174.10 L521.00,173.48 L521.33,172.79 L521.67,172.00 L522.00,171.12 L522.33,170.13 L522.67,169.04 L523.00,167.85 L523.33,166.58 L523.67,165.25 L524.00,163.90 L524.33,162.60 L524.67,161.42 L525.00,160.44 L525.33,159.73 L525.67,159.32 L526.00,159.20 L526.33,159.32 L526.67,159.73 L527.00,160.44 L527.33,161.42 L527.67,162.60 L528.00,163.90 L528.33,165.25 L528.67,166.58 L529.00,167.85 L529.33,169.04 L529.67,170.13 L530.00,171.12 L530.33,172.00 L530.67,172.79 L531.00,173.48 L531.33,174.10 L531.67,174.65 L532.00,175.13 L532.33,175.56 L532.67,175.94 L533.00,176.28 L533.33,176.58 L533.67,176.85 L534.00,177.10 L534.33,177.31 L534.67,177.51 L535.00,177.69 L535.33,177.85 L535.67,177.99 L536.00,178.12 L536.00,180.50 Z" fill="url(#pk)" opacity="0.95"/>
<path d="M527.00,182.50 L527.00,179.48 L527.22,179.32 L527.43,179.15 L527.65,178.96 L527.87,178.76 L528.08,178.53 L528.30,178.28 L528.52,178.00 L528.73,177.70 L528.95,177.36 L529.17,176.98 L529.38,176.56 L529.60,176.09 L529.82,175.56 L530.03,174.97 L530.25,174.30 L530.47,173.55 L530.68,172.72 L530.90,171.78 L531.12,170.73 L531.33,169.56 L531.55,168.28 L531.77,166.88 L531.98,165.39 L532.20,163.84 L532.42,162.28 L532.63,160.79 L532.85,159.47 L533.07,158.42 L533.28,157.74 L533.50,157.50 L533.72,157.74 L533.93,158.42 L534.15,159.47 L534.37,160.79 L534.58,162.28 L534.80,163.84 L535.02,165.39 L535.23,166.88 L535.45,168.28 L535.67,169.56 L535.88,170.73 L536.10,171.78 L536.32,172.72 L536.53,173.55 L536.75,174.30 L536.97,174.97 L537.18,175.56 L537.40,176.09 L537.62,176.56 L537.83,176.98 L538.05,177.36 L538.27,177.70 L538.48,178.00 L538.70,178.28 L538.92,178.53 L539.13,178.76 L539.35,178.96 L539.57,179.15 L539.78,179.32 L540.00,179.48 L540.00,182.50 Z" fill="url(#pk)" opacity="0.95"/>
<path d="M575.00,180.50 L575.00,177.59 L575.28,177.44 L575.57,177.28 L575.85,177.11 L576.13,176.92 L576.42,176.71 L576.70,176.48 L576.98,176.22 L577.27,175.95 L577.55,175.64 L577.83,175.29 L578.12,174.91 L578.40,174.49 L578.68,174.02 L578.97,173.49 L579.25,172.91 L579.53,172.25 L579.82,171.52 L580.10,170.70 L580.38,169.79 L580.67,168.78 L580.95,167.66 L581.23,166.46 L581.52,165.16 L581.80,163.80 L582.08,162.41 L582.37,161.04 L582.65,159.78 L582.93,158.69 L583.22,157.87 L583.50,157.40 L583.78,157.32 L584.07,157.63 L584.35,158.32 L584.63,159.30 L584.92,160.51 L585.20,161.84 L585.48,163.23 L585.77,164.61 L586.05,165.93 L586.33,167.18 L586.62,168.33 L586.90,169.38 L587.18,170.33 L587.47,171.19 L587.75,171.96 L588.03,172.65 L588.32,173.26 L588.60,173.81 L588.88,174.30 L589.17,174.75 L589.45,175.14 L589.73,175.50 L590.02,175.82 L590.30,176.11 L590.58,176.38 L590.87,176.62 L591.15,176.83 L591.43,177.03 L591.72,177.21 L592.00,177.38 L592.00,180.50 Z" fill="url(#pkl)" opacity="0.95"/>
<path d="M587.00,180.50 L587.00,177.48 L587.20,177.34 L587.40,177.18 L587.60,177.01 L587.80,176.82 L588.00,176.62 L588.20,176.40 L588.40,176.16 L588.60,175.90 L588.80,175.61 L589.00,175.29 L589.20,174.94 L589.40,174.56 L589.60,174.14 L589.80,173.68 L590.00,173.18 L590.20,172.62 L590.40,172.02 L590.60,171.35 L590.80,170.63 L591.00,169.86 L591.20,169.02 L591.40,168.15 L591.60,167.23 L591.80,166.30 L592.00,165.37 L592.20,164.48 L592.40,163.67 L592.60,162.98 L592.80,162.45 L593.00,162.11 L593.20,162.00 L593.40,162.11 L593.60,162.45 L593.80,162.98 L594.00,163.67 L594.20,164.48 L594.40,165.37 L594.60,166.30 L594.80,167.23 L595.00,168.15 L595.20,169.02 L595.40,169.86 L595.60,170.63 L595.80,171.35 L596.00,172.02 L596.20,172.62 L596.40,173.18 L596.60,173.68 L596.80,174.14 L597.00,174.56 L597.20,174.94 L597.40,175.29 L597.60,175.61 L597.80,175.90 L598.00,176.16 L598.20,176.40 L598.40,176.62 L598.60,176.82 L598.80,177.01 L599.00,177.18 L599.00,180.50 Z" fill="url(#pkc)" opacity="0.95"/>
<path d="M594.00,182.50 L594.00,179.11 L594.20,178.93 L594.40,178.75 L594.60,178.54 L594.80,178.32 L595.00,178.08 L595.20,177.81 L595.40,177.52 L595.60,177.20 L595.80,176.85 L596.00,176.47 L596.20,176.04 L596.40,175.58 L596.60,175.07 L596.80,174.51 L597.00,173.90 L597.20,173.23 L597.40,172.50 L597.60,171.71 L597.80,170.86 L598.00,169.96 L598.20,169.01 L598.40,168.03 L598.60,167.04 L598.80,166.08 L599.00,165.18 L599.20,164.38 L599.40,163.73 L599.60,163.27 L599.80,163.03 L600.00,163.03 L600.20,163.27 L600.40,163.73 L600.60,164.38 L600.80,165.18 L601.00,166.08 L601.20,167.04 L601.40,168.03 L601.60,169.01 L601.80,169.96 L602.00,170.86 L602.20,171.71 L602.40,172.50 L602.60,173.23 L602.80,173.90 L603.00,174.51 L603.20,175.07 L603.40,175.58 L603.60,176.04 L603.80,176.47 L604.00,176.85 L604.20,177.20 L604.40,177.52 L604.60,177.81 L604.80,178.08 L605.00,178.32 L605.20,178.54 L605.40,178.75 L605.60,178.93 L605.80,179.11 L606.00,179.27 L606.00,182.50 Z" fill="url(#pkc)" opacity="0.95"/>
<path d="M613.00,182.50 L613.00,180.14 L613.20,180.03 L613.40,179.90 L613.60,179.76 L613.80,179.60 L614.00,179.43 L614.20,179.24 L614.40,179.03 L614.60,178.80 L614.80,178.54 L615.00,178.25 L615.20,177.93 L615.40,177.57 L615.60,177.16 L615.80,176.71 L616.00,176.20 L616.20,175.62 L616.40,174.98 L616.60,174.25 L616.80,173.44 L617.00,172.54 L617.20,171.55 L617.40,170.48 L617.60,169.35 L617.80,168.18 L618.00,167.03 L618.20,165.96 L618.40,165.06 L618.60,164.40 L618.80,164.04 L619.00,164.04 L619.20,164.40 L619.40,165.06 L619.60,165.96 L619.80,167.03 L620.00,168.18 L620.20,169.35 L620.40,170.48 L620.60,171.55 L620.80,172.54 L621.00,173.44 L621.20,174.25 L621.40,174.98 L621.60,175.62 L621.80,176.20 L622.00,176.71 L622.20,177.16 L622.40,177.57 L622.60,177.93 L622.80,178.25 L623.00,178.54 L623.20,178.80 L623.40,179.03 L623.60,179.24 L623.80,179.43 L624.00,179.60 L624.20,179.76 L624.40,179.90 L624.60,180.03 L624.80,180.14 L625.00,180.25 L625.00,182.50 Z" fill="url(#pkc)" opacity="0.95"/>
<path d="M586.00,190.50 L586.00,188.20 L586.20,188.09 L586.40,187.96 L586.60,187.83 L586.80,187.68 L587.00,187.52 L587.20,187.34 L587.40,187.14 L587.60,186.92 L587.80,186.67 L588.00,186.40 L588.20,186.10 L588.40,185.75 L588.60,185.37 L588.80,184.94 L589.00,184.46 L589.20,183.92 L589.40,183.31 L589.60,182.62 L589.80,181.86 L590.00,181.00 L590.20,180.06 L590.40,179.02 L590.60,177.92 L590.80,176.76 L591.00,175.60 L591.20,174.48 L591.40,173.49 L591.60,172.69 L591.80,172.18 L592.00,172.00 L592.20,172.18 L592.40,172.69 L592.60,173.49 L592.80,174.48 L593.00,175.60 L593.20,176.76 L593.40,177.92 L593.60,179.02 L593.80,180.06 L594.00,181.00 L594.20,181.86 L594.40,182.62 L594.60,183.31 L594.80,183.92 L595.00,184.46 L595.20,184.94 L595.40,185.37 L595.60,185.75 L595.80,186.10 L596.00,186.40 L596.20,186.67 L596.40,186.92 L596.60,187.14 L596.80,187.34 L597.00,187.52 L597.20,187.68 L597.40,187.83 L597.60,187.96 L597.80,188.09 L598.00,188.20 L598.00,190.50 Z" fill="url(#pkc)" opacity="0.8"/>
<g fill="none" stroke="#111" stroke-width="1.1">
<ellipse cx="381.9" cy="175.8" rx="3.2" ry="3.4"/><ellipse cx="408.5" cy="188.6" rx="3.2" ry="3.4"/>
<path d="M385.2,176.4 L391.4,178.6 M384.6,178.6 L390.8,180.8 M398.6,182.2 L405.2,186 M397.8,184.2 L404.4,188"/>
<path d="M397.6,178.6 A3.1,3.3 0 1 0 397.8,184.2"/>
</g>
<g fill="none" stroke="#111" stroke-width="1.1">
<ellipse cx="534.6" cy="160.6" rx="3.2" ry="3.4"/><ellipse cx="526.6" cy="188.6" rx="3.2" ry="3.4"/>
<path d="M533.2,164.6 L533.2,170.6 M535.4,164.6 L535.4,170.6 M531.4,181 L528.6,185.3 M529.6,180 L526.8,184.2"/>
<path d="M536.4,173.4 A3.1,3.3 0 1 0 536.6,179.2"/>
</g>
<text x="426.7" y="171.8" font-size="11.2" fill="#1a1a1a" text-anchor="start" >Cu</text>
<text x="580.3" y="174.8" font-size="11.2" fill="#1a1a1a" text-anchor="start" >Cu</text>
<text x="415.4" y="232.8" font-size="11.2" fill="#1a1a1a" text-anchor="start" >-1.8</text>
<text x="529.7" y="230.2" font-size="11.2" fill="#1a1a1a" text-anchor="start" >-1.1</text>
<circle cx="429.2" cy="249" r="5.4" fill="url(#cuL)"/>
<text x="436.3" y="253.4" font-size="11.9" fill="#1a1a1a" text-anchor="start" >Cu</text>
<circle cx="466.7" cy="249" r="4.7" fill="url(#tiL)"/>
<text x="474.2" y="253.4" font-size="11.9" fill="#1a1a1a" text-anchor="start" >Ti</text>
<circle cx="498.4" cy="249" r="2.4" fill="#fff" stroke="#e58890" stroke-width="1.3"/>
<text x="504.0" y="253.4" font-size="11.9" fill="#1a1a1a" text-anchor="start" >Lattice O</text>
<circle cx="562" cy="249" r="2.5" fill="#e8e8e8" stroke="#8a8a8a" stroke-width="1.3"/>
<text x="566.8" y="253.4" font-size="11.9" fill="#1a1a1a" text-anchor="start" >C</text>
<rect x="372" y="341.3" width="102.5" height="51.2" rx="3.5" fill="url(#bg1)"/>
<rect x="372" y="392.4" width="102.5" height="48.8" rx="3.5" fill="url(#rg1)"/>
<path d="M31.3,276 H684.2 V479.6 H31.3 Z" fill="none" stroke="#151515" stroke-width="1.05"/>
<path d="M26.5,465.30 H31.3" stroke="#222" stroke-width="0.9"/>
<text x="23.2" y="469.6" font-size="12.2" fill="#1a1a1a" text-anchor="end" >-2</text>
<path d="M26.5,436.15 H31.3" stroke="#222" stroke-width="0.9"/>
<text x="23.2" y="440.45" font-size="12.2" fill="#1a1a1a" text-anchor="end" >-1</text>
<path d="M26.5,407.00 H31.3" stroke="#222" stroke-width="0.9"/>
<text x="23.2" y="411.3" font-size="12.2" fill="#1a1a1a" text-anchor="end" >0</text>
<path d="M26.5,377.85 H31.3" stroke="#222" stroke-width="0.9"/>
<text x="23.2" y="382.15000000000003" font-size="12.2" fill="#1a1a1a" text-anchor="end" >1</text>
<path d="M26.5,348.70 H31.3" stroke="#222" stroke-width="0.9"/>
<text x="23.2" y="353.0" font-size="12.2" fill="#1a1a1a" text-anchor="end" >2</text>
<path d="M26.5,319.55 H31.3" stroke="#222" stroke-width="0.9"/>
<text x="23.2" y="323.85" font-size="12.2" fill="#1a1a1a" text-anchor="end" >3</text>
<path d="M26.5,290.40 H31.3" stroke="#222" stroke-width="0.9"/>
<text x="23.2" y="294.7" font-size="12.2" fill="#1a1a1a" text-anchor="end" >4</text>
<path d="M28.900000000000002,479.88 H31.3" stroke="#222" stroke-width="0.9"/>
<path d="M28.900000000000002,450.73 H31.3" stroke="#222" stroke-width="0.9"/>
<path d="M28.900000000000002,421.57 H31.3" stroke="#222" stroke-width="0.9"/>
<path d="M28.900000000000002,392.43 H31.3" stroke="#222" stroke-width="0.9"/>
<path d="M28.900000000000002,363.27 H31.3" stroke="#222" stroke-width="0.9"/>
<path d="M28.900000000000002,334.12 H31.3" stroke="#222" stroke-width="0.9"/>
<path d="M28.900000000000002,304.98 H31.3" stroke="#222" stroke-width="0.9"/>
<text transform="translate(11.9,380.4) rotate(-90)" font-size="12.8" fill="#1a1a1a" text-anchor="middle">Free energy (eV)</text>
<path d="M105.5,479.6 V472.0" stroke="#222" stroke-width="0.9"/>
<path d="M171.3,479.6 V472.0" stroke="#222" stroke-width="0.9"/>
<path d="M230.5,479.6 V472.0" stroke="#222" stroke-width="0.9"/>
<path d="M294,479.6 V472.0" stroke="#222" stroke-width="0.9"/>
<path d="M353.4,479.6 V472.0" stroke="#222" stroke-width="0.9"/>
<path d="M419.5,479.6 V472.0" stroke="#222" stroke-width="0.9"/>
<path d="M479.3,479.6 V472.0" stroke="#222" stroke-width="0.9"/>
<path d="M540.2,479.6 V472.0" stroke="#222" stroke-width="0.9"/>
<path d="M612.4,479.6 V472.0" stroke="#222" stroke-width="0.9"/>
<text x="44.9" y="473.6" font-size="13.3" fill="#1a1a1a">* + CO<tspan font-size="8.6" dy="3.0">2(g)</tspan></text>
<text x="140.2" y="473.6" font-size="13.3" fill="#1a1a1a" text-anchor="middle">*CO<tspan font-size="8.6" dy="3.0">2</tspan></text>
<text x="199.3" y="473.6" font-size="13.3" fill="#1a1a1a" text-anchor="middle">*COOH</text>
<text x="262.8" y="473.6" font-size="13.3" fill="#1a1a1a" text-anchor="middle">*CO</text>
<text x="322.3" y="473.6" font-size="13.3" fill="#1a1a1a" text-anchor="middle">*CHO</text>
<text x="385.0" y="473.6" font-size="13.3" fill="#1a1a1a" text-anchor="middle">*OCH<tspan font-size="8.6" dy="3.0">2</tspan></text>
<text x="449.3" y="473.6" font-size="13.3" fill="#1a1a1a" text-anchor="middle">*OCH<tspan font-size="8.6" dy="3.0">3</tspan></text>
<text x="479.6" y="473.6" font-size="13.3" fill="#1a1a1a">*O + *CH<tspan font-size="8.6" dy="3.0">4</tspan></text>
<text x="542.0" y="473.6" font-size="13.3" fill="#1a1a1a">*OH + *CH<tspan font-size="8.6" dy="3.0">4</tspan></text>
<text x="647" y="473.6" font-size="13.3" fill="#1a1a1a" text-anchor="middle" >FS</text>
<text x="244.0" y="498.2" font-size="14.8" fill="#1a1a1a">Reaction coordination</text>
<path d="M395.5,494 H423" stroke="#1a1a1a" stroke-width="1"/><path d="M424.8,494 l-6,-2.6 v5.2 z" fill="#1a1a1a"/>
<path d="M94.0,407.00 L124.2,410.64" stroke="#1f5080" stroke-width="1.3" stroke-dasharray="4.2,2.6"/>
<path d="M156.2,410.64 L186.4,373.77" stroke="#1f5080" stroke-width="1.3" stroke-dasharray="4.2,2.6"/>
<path d="M218.4,373.77 L248.6,387.18" stroke="#1f5080" stroke-width="1.3" stroke-dasharray="4.2,2.6"/>
<path d="M280.6,387.18 L310.8,355.11" stroke="#1f5080" stroke-width="1.3" stroke-dasharray="4.2,2.6"/>
<path d="M342.8,355.11 L373.0,386.60" stroke="#1f5080" stroke-width="1.3" stroke-dasharray="4.2,2.6"/>
<path d="M405.0,386.60 L435.2,348.12" stroke="#1f5080" stroke-width="1.3" stroke-dasharray="4.2,2.6"/>
<path d="M467.2,348.12 L497.4,302.64" stroke="#1f5080" stroke-width="1.3" stroke-dasharray="4.2,2.6"/>
<path d="M529.4,302.64 L559.6,368.23" stroke="#1f5080" stroke-width="1.3" stroke-dasharray="4.2,2.6"/>
<path d="M591.6,368.23 L621.8,453.64" stroke="#1f5080" stroke-width="1.3" stroke-dasharray="4.2,2.6"/>
<path d="M94.0,407.00 L124.2,439.94" stroke="#cc2236" stroke-width="1.3" stroke-dasharray="4.2,2.6"/>
<path d="M156.2,439.94 L186.4,418.37" stroke="#cc2236" stroke-width="1.3" stroke-dasharray="4.2,2.6"/>
<path d="M218.4,418.37 L248.6,421.87" stroke="#cc2236" stroke-width="1.3" stroke-dasharray="4.2,2.6"/>
<path d="M280.6,421.87 L310.8,411.96" stroke="#cc2236" stroke-width="1.3" stroke-dasharray="4.2,2.6"/>
<path d="M342.8,411.96 L373.0,418.95" stroke="#cc2236" stroke-width="1.3" stroke-dasharray="4.2,2.6"/>
<path d="M405.0,418.95 L435.2,418.95" stroke="#cc2236" stroke-width="1.4" stroke-dasharray="6,2.4"/>
<path d="M467.2,418.95 L497.4,390.97" stroke="#cc2236" stroke-width="1.3" stroke-dasharray="4.2,2.6"/>
<path d="M529.4,390.97 L559.6,441.98" stroke="#cc2236" stroke-width="1.3" stroke-dasharray="4.2,2.6"/>
<path d="M591.6,441.98 L621.8,453.64" stroke="#cc2236" stroke-width="1.3" stroke-dasharray="4.2,2.6"/>
<path d="M280.6,387.18 L310.8,341.70" stroke="#22b3ac" stroke-width="1.3" stroke-dasharray="4.2,2.6"/>
<path d="M280.6,421.87 L310.8,369.69" stroke="#ee6d2c" stroke-width="1.3" stroke-dasharray="4.2,2.6"/>
<path d="M124.2,410.64 h32" stroke="#1f5080" stroke-width="1.4"/>
<path d="M124.2,439.94 h32" stroke="#cc2236" stroke-width="1.4"/>
<path d="M186.4,373.77 h32" stroke="#1f5080" stroke-width="1.4"/>
<path d="M186.4,418.37 h32" stroke="#cc2236" stroke-width="1.4"/>
<path d="M248.6,387.18 h32" stroke="#1f5080" stroke-width="1.4"/>
<path d="M248.6,421.87 h32" stroke="#cc2236" stroke-width="1.4"/>
<path d="M310.8,355.11 h32" stroke="#1f5080" stroke-width="1.4"/>
<path d="M310.8,411.96 h32" stroke="#cc2236" stroke-width="1.4"/>
<path d="M373.0,386.60 h32" stroke="#1f5080" stroke-width="1.4"/>
<path d="M373.0,418.95 h32" stroke="#cc2236" stroke-width="1.4"/>
<path d="M435.2,348.12 h32" stroke="#1f5080" stroke-width="1.4"/>
<path d="M435.2,418.95 h32" stroke="#cc2236" stroke-width="1.4"/>
<path d="M497.4,302.64 h32" stroke="#1f5080" stroke-width="1.4"/>
<path d="M497.4,390.97 h32" stroke="#cc2236" stroke-width="1.4"/>
<path d="M559.6,368.23 h32" stroke="#1f5080" stroke-width="1.4"/>
<path d="M559.6,441.98 h32" stroke="#cc2236" stroke-width="1.4"/>
<path d="M310.8,341.70 h32" stroke="#22b3ac" stroke-width="1.4"/>
<path d="M310.8,369.69 h32" stroke="#ee6d2c" stroke-width="1.4"/>
<path d="M62.0,407.00 h32" stroke="#1e0e10" stroke-width="1.4"/>
<path d="M621.8,453.64 h32" stroke="#1e0e10" stroke-width="1.4"/>
<path d="M156.8,410.64 H202" stroke="#1f5080" stroke-width="1.3" stroke-dasharray="1.2,1.7"/>
<path d="M188.3,410.64 V376.77" stroke="#1f5080" stroke-width="1.1"/>
<path d="M188.3,373.97 l-2.5,6 l2.5,-1.2 l2.5,1.2 z" fill="#1f5080"/>
<path d="M156.8,439.94 H202" stroke="#b0182c" stroke-width="1.3" stroke-dasharray="1.2,1.7"/>
<path d="M188.3,439.94 V421.37" stroke="#b0182c" stroke-width="1.1"/>
<path d="M188.3,418.57 l-2.5,6 l2.5,-1.2 l2.5,1.2 z" fill="#b0182c"/>
<path d="M465.9,348.12 H520.6" stroke="#1f5080" stroke-width="1.3" stroke-dasharray="1.2,1.7"/>
<path d="M497.4,348.12 V305.64" stroke="#1f5080" stroke-width="1.1"/>
<path d="M497.4,302.84 l-2.5,6 l2.5,-1.2 l2.5,1.2 z" fill="#1f5080"/>
<text x="192.3" y="399.0" font-size="10.7" fill="#2a5a8a" text-anchor="start" >1.26 eV</text>
<text x="192.8" y="433.0" font-size="11.2" fill="#b0182c" text-anchor="start" >0.74 eV</text>
<text x="497.8" y="334.2" font-size="11.2" fill="#2a5a8a" text-anchor="start" >1.57 eV</text>
<text x="471.4" y="387.5" font-size="11.2" fill="#2a5a8a" text-anchor="end" >ΔG=1.32 eV</text>
<text x="445" y="395.5" font-size="10.8" fill="#1a1a1a" text-anchor="middle" stroke="#1a1a1a" stroke-width="0.2">vs.</text>
<text x="471.4" y="406.8" font-size="11.2" fill="#c0202e" text-anchor="end" >ΔG=0.01 eV</text>
<text x="307.8" y="339.0" font-size="13.8" fill="#1a1a1a" text-anchor="start" >*COH</text>
<text x="311.3" y="382.0" font-size="13.8" fill="#1a1a1a" text-anchor="start" >*COH</text>
<path d="M45.3,294 H72.5" stroke="#b82232" stroke-width="1.5"/><path d="M45.3,297.9 H72.5" stroke="#ee6d2c" stroke-width="1.5"/>
<path d="M45.3,313.2 H72.5" stroke="#1f5080" stroke-width="1.5"/><path d="M45.3,317.9 H72.5" stroke="#22b3ac" stroke-width="1.5"/>
<text x="76.6" y="300.5" font-size="14.4" fill="#b01c2c">Cu-Ti<tspan font-size="10.4" dy="4">1</tspan><tspan dy="-4">O</tspan><tspan font-size="10.4" dy="4">3</tspan></text>
<text x="76.6" y="321.5" font-size="14.4" fill="#1f4e7e" textLength="65" lengthAdjust="spacingAndGlyphs">Cu-O<tspan font-size="10.4" dy="4">4</tspan><tspan dy="-4">(Ti)</tspan></text>
</svg>
</body></html>
